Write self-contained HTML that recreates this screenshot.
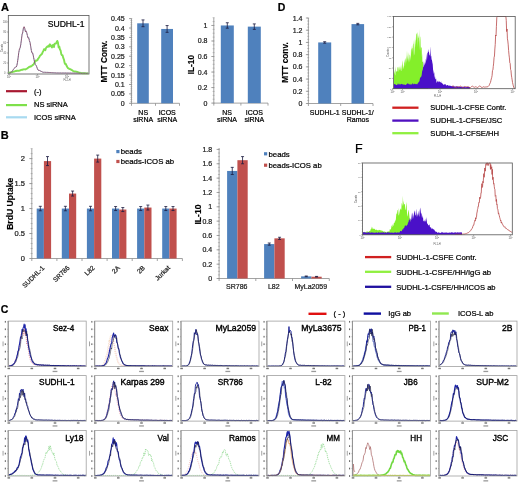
<!DOCTYPE html><html><head><meta charset="utf-8"><style>html,body{margin:0;padding:0;background:#fff;font-family:"Liberation Sans",sans-serif;overflow:hidden;}svg{display:block;filter:blur(0.35px);}</style></head><body>
<svg width="520" height="486" viewBox="0 0 520 486" font-family="&quot;Liberation Sans&quot;, sans-serif"><rect x="0.00" y="0.00" width="520.00" height="486.00" fill="#fff" /><text x="1.10" y="10.80" font-size="11" text-anchor="start" font-weight="bold" fill="#000" stroke="#000" stroke-width="0.22" >A</text><text x="0.80" y="138.60" font-size="11" text-anchor="start" font-weight="bold" fill="#000" stroke="#000" stroke-width="0.22" >B</text><text x="0.80" y="312.60" font-size="10.5" text-anchor="start" font-weight="bold" fill="#000" stroke="#000" stroke-width="0.22" >C</text><text x="277.80" y="11.20" font-size="10.5" text-anchor="start" font-weight="bold" fill="#000" stroke="#000" stroke-width="0.22" >D</text><text x="355.00" y="153.20" font-size="12.5" text-anchor="start" font-weight="normal" fill="#000" stroke="#000" stroke-width="0.22" >F</text><rect x="8.3" y="15.5" width="80.7" height="58.5" fill="none" stroke="#555" stroke-width="0.8"/><line x1="6.80" y1="73.00" x2="8.30" y2="73.00" stroke="#666" stroke-width="0.5" /><text x="4.80" y="74.00" font-size="2.6" text-anchor="middle" font-weight="normal" fill="#666" >0</text><line x1="6.80" y1="63.00" x2="8.30" y2="63.00" stroke="#666" stroke-width="0.5" /><text x="4.80" y="64.00" font-size="2.6" text-anchor="middle" font-weight="normal" fill="#666" >20</text><line x1="6.80" y1="53.00" x2="8.30" y2="53.00" stroke="#666" stroke-width="0.5" /><text x="4.80" y="54.00" font-size="2.6" text-anchor="middle" font-weight="normal" fill="#666" >40</text><line x1="6.80" y1="42.50" x2="8.30" y2="42.50" stroke="#666" stroke-width="0.5" /><text x="4.80" y="43.50" font-size="2.6" text-anchor="middle" font-weight="normal" fill="#666" >60</text><line x1="6.80" y1="32.00" x2="8.30" y2="32.00" stroke="#666" stroke-width="0.5" /><text x="4.80" y="33.00" font-size="2.6" text-anchor="middle" font-weight="normal" fill="#666" >80</text><line x1="6.80" y1="21.90" x2="8.30" y2="21.90" stroke="#666" stroke-width="0.5" /><text x="4.80" y="22.90" font-size="2.6" text-anchor="middle" font-weight="normal" fill="#666" >100</text><text x="0" y="0" font-size="2.6" text-anchor="middle" font-weight="normal" fill="#555" transform="translate(2.60,48.00) rotate(-90)">Counts</text><line x1="9.10" y1="74.00" x2="9.10" y2="75.20" stroke="#666" stroke-width="0.5" /><text x="9.10" y="78.00" font-size="2.8" text-anchor="middle" fill="#555">10<tspan font-size="2" dy="-1">0</tspan></text><line x1="37.50" y1="74.00" x2="37.50" y2="75.20" stroke="#666" stroke-width="0.5" /><text x="37.50" y="78.00" font-size="2.8" text-anchor="middle" fill="#555">10<tspan font-size="2" dy="-1">1</tspan></text><line x1="67.00" y1="74.00" x2="67.00" y2="75.20" stroke="#666" stroke-width="0.5" /><text x="67.00" y="78.00" font-size="2.8" text-anchor="middle" fill="#555">10<tspan font-size="2" dy="-1">2</tspan></text><text x="67.00" y="80.60" font-size="2.6" text-anchor="middle" font-weight="normal" fill="#555" >FL2-H</text><path d="M8.80,73.32 L9.46,72.72 L10.13,72.32 L10.79,72.24 L11.46,72.14 L12.12,72.10 L12.79,71.95 L13.45,71.60 L14.11,71.53 L14.78,71.35 L15.44,70.98 L16.11,70.97 L16.77,70.76 L17.43,70.81 L18.10,70.74 L18.76,70.83 L19.43,70.55 L20.09,70.30 L20.76,70.24 L21.42,69.94 L22.08,69.76 L22.75,69.83 L23.41,69.35 L24.08,69.28 L24.74,69.33 L25.40,69.43 L26.07,68.91 L26.73,68.85 L27.40,68.32 L28.06,67.75 L28.73,67.35 L29.39,66.72 L30.05,66.71 L30.72,66.09 L31.38,66.25 L32.05,65.62 L32.71,64.95 L33.37,64.73 L34.04,63.61 L34.70,62.47 L35.37,60.59 L36.03,60.91 L36.70,60.44 L37.36,60.25 L38.02,58.92 L38.69,57.98 L39.35,56.96 L40.02,55.64 L40.68,55.24 L41.34,54.31 L42.01,53.94 L42.67,52.15 L43.34,50.94 L44.00,49.28 L44.67,49.15 L45.33,50.15 L45.99,48.01 L46.66,47.17 L47.32,46.57 L47.99,46.74 L48.65,45.52 L49.31,46.55 L49.98,44.33 L50.64,45.29 L51.31,46.53 L51.97,47.57 L52.64,45.35 L53.30,44.89 L53.96,47.05 L54.63,43.62 L55.29,43.66 L55.96,43.49 L56.62,42.33 L57.28,40.93 L57.95,42.57 L58.61,47.46 L59.28,46.57 L59.94,49.56 L60.61,50.33 L61.27,54.18 L61.93,55.07 L62.60,55.45 L63.26,57.93 L63.93,59.52 L64.59,62.75 L65.25,64.23 L65.92,64.04 L66.58,65.77 L67.25,67.05 L67.91,68.11 L68.58,68.44 L69.24,68.81 L69.90,69.15 L70.57,69.12 L71.23,69.85 L71.90,70.08 L72.56,70.59 L73.22,71.14 L73.89,71.40 L74.55,71.49 L75.22,71.50 L75.88,71.60 L76.55,71.76 L77.21,71.93 L77.87,72.09 L78.54,72.38 L79.20,72.60 L79.87,72.78 L80.53,72.99 L81.19,73.12 L81.86,73.16 L82.52,73.20 L83.19,73.21 L83.85,73.26 L84.52,73.26 L85.18,73.28 L85.84,73.35 L86.51,73.34 L87.17,73.37 L87.84,73.42 L88.50,73.39" fill="none" stroke="#80e050" stroke-width="1.9" stroke-linejoin="round"/><path d="M8.80,73.40 L9.46,73.16 L10.13,72.98 L10.79,72.71 L11.46,72.13 L12.12,71.30 L12.79,70.49 L13.45,69.44 L14.11,68.39 L14.78,67.67 L15.44,67.01 L16.11,67.04 L16.77,65.80 L17.43,62.49 L18.10,57.67 L18.76,53.00 L19.43,50.27 L20.09,48.83 L20.76,45.46 L21.42,38.40 L22.08,33.57 L22.75,33.26 L23.41,28.02 L24.08,28.71 L24.74,28.99 L25.40,31.36 L26.07,32.34 L26.73,32.32 L27.40,36.10 L28.06,37.85 L28.73,36.91 L29.39,39.13 L30.05,43.63 L30.72,46.58 L31.38,50.70 L32.05,52.60 L32.71,53.88 L33.37,55.79 L34.04,59.71 L34.70,62.83 L35.37,64.40 L36.03,65.30 L36.70,66.80 L37.36,68.64 L38.02,70.01 L38.69,70.38 L39.35,70.47 L40.02,70.68 L40.68,71.10 L41.34,71.39 L42.01,71.78 L42.67,72.08 L43.34,72.23 L44.00,72.30 L44.67,72.32 L45.33,72.32 L45.99,72.32 L46.66,72.39 L47.32,72.36 L47.99,72.44 L48.65,72.44 L49.31,72.47 L49.98,72.55 L50.64,72.55 L51.31,72.62 L51.97,72.65 L52.64,72.72 L53.30,72.76 L53.96,72.79 L54.63,72.80 L55.29,72.87 L55.96,72.88 L56.62,72.91 L57.28,72.93 L57.95,72.97 L58.61,72.99 L59.28,73.00 L59.94,72.99 L60.61,73.01 L61.27,72.99 L61.93,73.00 L62.60,73.00 L63.26,73.02 L63.93,73.00 L64.59,73.03 L65.25,73.03 L65.92,73.03 L66.58,73.03 L67.25,73.05 L67.91,73.04 L68.58,73.06 L69.24,73.08 L69.90,73.09 L70.57,73.10 L71.23,73.11 L71.90,73.12 L72.56,73.12 L73.22,73.12 L73.89,73.15 L74.55,73.17 L75.22,73.15 L75.88,73.17 L76.55,73.19 L77.21,73.20 L77.87,73.20 L78.54,73.21 L79.20,73.23 L79.87,73.24 L80.53,73.25 L81.19,73.24 L81.86,73.27 L82.52,73.27 L83.19,73.26 L83.85,73.29 L84.52,73.28 L85.18,73.28 L85.84,73.29 L86.51,73.29 L87.17,73.31 L87.84,73.30 L88.50,73.31" fill="none" stroke="#9ad0e8" stroke-width="0.9" stroke-dasharray="1.5,1"/><path d="M8.80,73.41 L9.46,73.18 L10.13,73.00 L10.79,72.74 L11.46,72.19 L12.12,71.36 L12.79,70.32 L13.45,69.35 L14.11,68.42 L14.78,67.83 L15.44,67.14 L16.11,67.01 L16.77,65.96 L17.43,62.64 L18.10,58.02 L18.76,52.48 L19.43,49.09 L20.09,47.91 L20.76,44.52 L21.42,39.91 L22.08,34.66 L22.75,32.13 L23.41,28.04 L24.08,26.69 L24.74,28.12 L25.40,31.70 L26.07,30.87 L26.73,32.67 L27.40,35.48 L28.06,38.09 L28.73,37.92 L29.39,40.77 L30.05,42.37 L30.72,46.59 L31.38,50.68 L32.05,53.09 L32.71,52.99 L33.37,56.13 L34.04,59.49 L34.70,62.85 L35.37,64.59 L36.03,65.26 L36.70,66.71 L37.36,68.58 L38.02,70.02 L38.69,70.35 L39.35,70.37 L40.02,70.79 L40.68,71.11 L41.34,71.39 L42.01,71.80 L42.67,72.06 L43.34,72.26 L44.00,72.31 L44.67,72.26 L45.33,72.34 L45.99,72.34 L46.66,72.38 L47.32,72.37 L47.99,72.43 L48.65,72.46 L49.31,72.47 L49.98,72.54 L50.64,72.57 L51.31,72.59 L51.97,72.68 L52.64,72.72 L53.30,72.75 L53.96,72.77 L54.63,72.81 L55.29,72.87 L55.96,72.90 L56.62,72.93 L57.28,72.95 L57.95,72.99 L58.61,72.98 L59.28,72.98 L59.94,72.98 L60.61,72.99 L61.27,72.99 L61.93,73.02 L62.60,73.01 L63.26,72.99 L63.93,73.01 L64.59,73.02 L65.25,73.01 L65.92,73.03 L66.58,73.03 L67.25,73.06 L67.91,73.07 L68.58,73.07 L69.24,73.09 L69.90,73.09 L70.57,73.08 L71.23,73.11 L71.90,73.13 L72.56,73.14 L73.22,73.15 L73.89,73.13 L74.55,73.16 L75.22,73.17 L75.88,73.19 L76.55,73.17 L77.21,73.20 L77.87,73.22 L78.54,73.23 L79.20,73.24 L79.87,73.25 L80.53,73.24 L81.19,73.26 L81.86,73.27 L82.52,73.27 L83.19,73.28 L83.85,73.26 L84.52,73.30 L85.18,73.29 L85.84,73.28 L86.51,73.30 L87.17,73.28 L87.84,73.30 L88.50,73.31" fill="none" stroke="#7a3a5a" stroke-width="0.8"/><text x="84.50" y="27.20" font-size="8.6" text-anchor="end" font-weight="normal" fill="#000" stroke="#000" stroke-width="0.22" >SUDHL-1</text><line x1="6.00" y1="91.20" x2="27.00" y2="91.20" stroke="#a81830" stroke-width="2.2" /><text x="34.00" y="94.20" font-size="7.5" text-anchor="start" font-weight="normal" fill="#000" stroke="#000" stroke-width="0.22" >(-)</text><line x1="6.00" y1="105.10" x2="27.00" y2="105.10" stroke="#7ee04a" stroke-width="2.2" /><text x="34.00" y="107.30" font-size="7.5" text-anchor="start" font-weight="normal" fill="#000" stroke="#000" stroke-width="0.22" >NS siRNA</text><line x1="6.00" y1="117.30" x2="27.00" y2="117.30" stroke="#a8daf0" stroke-width="2.2" /><text x="34.00" y="120.10" font-size="7.5" text-anchor="start" font-weight="normal" fill="#000" stroke="#000" stroke-width="0.22" >ICOS siRNA</text><line x1="131.50" y1="18.60" x2="131.50" y2="103.30" stroke="#8c8c8c" stroke-width="0.8" /><line x1="131.50" y1="103.30" x2="179.50" y2="103.30" stroke="#8c8c8c" stroke-width="0.8" /><line x1="129.00" y1="103.30" x2="131.50" y2="103.30" stroke="#8c8c8c" stroke-width="0.8" /><text x="124.70" y="105.80" font-size="7" text-anchor="end" font-weight="normal" fill="#222" stroke="#222" stroke-width="0.22" >0</text><line x1="129.00" y1="93.89" x2="131.50" y2="93.89" stroke="#8c8c8c" stroke-width="0.8" /><text x="124.70" y="96.39" font-size="7" text-anchor="end" font-weight="normal" fill="#222" stroke="#222" stroke-width="0.22" >0.05</text><line x1="129.00" y1="84.48" x2="131.50" y2="84.48" stroke="#8c8c8c" stroke-width="0.8" /><text x="124.70" y="86.98" font-size="7" text-anchor="end" font-weight="normal" fill="#222" stroke="#222" stroke-width="0.22" >0.1</text><line x1="129.00" y1="75.07" x2="131.50" y2="75.07" stroke="#8c8c8c" stroke-width="0.8" /><text x="124.70" y="77.57" font-size="7" text-anchor="end" font-weight="normal" fill="#222" stroke="#222" stroke-width="0.22" >0.15</text><line x1="129.00" y1="65.66" x2="131.50" y2="65.66" stroke="#8c8c8c" stroke-width="0.8" /><text x="124.70" y="68.16" font-size="7" text-anchor="end" font-weight="normal" fill="#222" stroke="#222" stroke-width="0.22" >0.2</text><line x1="129.00" y1="56.24" x2="131.50" y2="56.24" stroke="#8c8c8c" stroke-width="0.8" /><text x="124.70" y="58.74" font-size="7" text-anchor="end" font-weight="normal" fill="#222" stroke="#222" stroke-width="0.22" >0.25</text><line x1="129.00" y1="46.83" x2="131.50" y2="46.83" stroke="#8c8c8c" stroke-width="0.8" /><text x="124.70" y="49.33" font-size="7" text-anchor="end" font-weight="normal" fill="#222" stroke="#222" stroke-width="0.22" >0.3</text><line x1="129.00" y1="37.42" x2="131.50" y2="37.42" stroke="#8c8c8c" stroke-width="0.8" /><text x="124.70" y="39.92" font-size="7" text-anchor="end" font-weight="normal" fill="#222" stroke="#222" stroke-width="0.22" >0.35</text><line x1="129.00" y1="28.01" x2="131.50" y2="28.01" stroke="#8c8c8c" stroke-width="0.8" /><text x="124.70" y="30.51" font-size="7" text-anchor="end" font-weight="normal" fill="#222" stroke="#222" stroke-width="0.22" >0.4</text><line x1="129.00" y1="18.60" x2="131.50" y2="18.60" stroke="#8c8c8c" stroke-width="0.8" /><text x="124.70" y="21.10" font-size="7" text-anchor="end" font-weight="normal" fill="#222" stroke="#222" stroke-width="0.22" >0.45</text><line x1="130.30" y1="103.30" x2="132.30" y2="103.30" stroke="#8c8c8c" stroke-width="0.5" /><line x1="130.30" y1="101.42" x2="132.30" y2="101.42" stroke="#8c8c8c" stroke-width="0.5" /><line x1="130.30" y1="99.54" x2="132.30" y2="99.54" stroke="#8c8c8c" stroke-width="0.5" /><line x1="130.30" y1="97.65" x2="132.30" y2="97.65" stroke="#8c8c8c" stroke-width="0.5" /><line x1="130.30" y1="95.77" x2="132.30" y2="95.77" stroke="#8c8c8c" stroke-width="0.5" /><line x1="130.30" y1="93.89" x2="132.30" y2="93.89" stroke="#8c8c8c" stroke-width="0.5" /><line x1="130.30" y1="92.01" x2="132.30" y2="92.01" stroke="#8c8c8c" stroke-width="0.5" /><line x1="130.30" y1="90.12" x2="132.30" y2="90.12" stroke="#8c8c8c" stroke-width="0.5" /><line x1="130.30" y1="88.24" x2="132.30" y2="88.24" stroke="#8c8c8c" stroke-width="0.5" /><line x1="130.30" y1="86.36" x2="132.30" y2="86.36" stroke="#8c8c8c" stroke-width="0.5" /><line x1="130.30" y1="84.48" x2="132.30" y2="84.48" stroke="#8c8c8c" stroke-width="0.5" /><line x1="130.30" y1="82.60" x2="132.30" y2="82.60" stroke="#8c8c8c" stroke-width="0.5" /><line x1="130.30" y1="80.71" x2="132.30" y2="80.71" stroke="#8c8c8c" stroke-width="0.5" /><line x1="130.30" y1="78.83" x2="132.30" y2="78.83" stroke="#8c8c8c" stroke-width="0.5" /><line x1="130.30" y1="76.95" x2="132.30" y2="76.95" stroke="#8c8c8c" stroke-width="0.5" /><line x1="130.30" y1="75.07" x2="132.30" y2="75.07" stroke="#8c8c8c" stroke-width="0.5" /><line x1="130.30" y1="73.18" x2="132.30" y2="73.18" stroke="#8c8c8c" stroke-width="0.5" /><line x1="130.30" y1="71.30" x2="132.30" y2="71.30" stroke="#8c8c8c" stroke-width="0.5" /><line x1="130.30" y1="69.42" x2="132.30" y2="69.42" stroke="#8c8c8c" stroke-width="0.5" /><line x1="130.30" y1="67.54" x2="132.30" y2="67.54" stroke="#8c8c8c" stroke-width="0.5" /><line x1="130.30" y1="65.66" x2="132.30" y2="65.66" stroke="#8c8c8c" stroke-width="0.5" /><line x1="130.30" y1="63.77" x2="132.30" y2="63.77" stroke="#8c8c8c" stroke-width="0.5" /><line x1="130.30" y1="61.89" x2="132.30" y2="61.89" stroke="#8c8c8c" stroke-width="0.5" /><line x1="130.30" y1="60.01" x2="132.30" y2="60.01" stroke="#8c8c8c" stroke-width="0.5" /><line x1="130.30" y1="58.13" x2="132.30" y2="58.13" stroke="#8c8c8c" stroke-width="0.5" /><line x1="130.30" y1="56.24" x2="132.30" y2="56.24" stroke="#8c8c8c" stroke-width="0.5" /><line x1="130.30" y1="54.36" x2="132.30" y2="54.36" stroke="#8c8c8c" stroke-width="0.5" /><line x1="130.30" y1="52.48" x2="132.30" y2="52.48" stroke="#8c8c8c" stroke-width="0.5" /><line x1="130.30" y1="50.60" x2="132.30" y2="50.60" stroke="#8c8c8c" stroke-width="0.5" /><line x1="130.30" y1="48.72" x2="132.30" y2="48.72" stroke="#8c8c8c" stroke-width="0.5" /><line x1="130.30" y1="46.83" x2="132.30" y2="46.83" stroke="#8c8c8c" stroke-width="0.5" /><line x1="130.30" y1="44.95" x2="132.30" y2="44.95" stroke="#8c8c8c" stroke-width="0.5" /><line x1="130.30" y1="43.07" x2="132.30" y2="43.07" stroke="#8c8c8c" stroke-width="0.5" /><line x1="130.30" y1="41.19" x2="132.30" y2="41.19" stroke="#8c8c8c" stroke-width="0.5" /><line x1="130.30" y1="39.30" x2="132.30" y2="39.30" stroke="#8c8c8c" stroke-width="0.5" /><line x1="130.30" y1="37.42" x2="132.30" y2="37.42" stroke="#8c8c8c" stroke-width="0.5" /><line x1="130.30" y1="35.54" x2="132.30" y2="35.54" stroke="#8c8c8c" stroke-width="0.5" /><line x1="130.30" y1="33.66" x2="132.30" y2="33.66" stroke="#8c8c8c" stroke-width="0.5" /><line x1="130.30" y1="31.78" x2="132.30" y2="31.78" stroke="#8c8c8c" stroke-width="0.5" /><line x1="130.30" y1="29.89" x2="132.30" y2="29.89" stroke="#8c8c8c" stroke-width="0.5" /><line x1="130.30" y1="28.01" x2="132.30" y2="28.01" stroke="#8c8c8c" stroke-width="0.5" /><line x1="130.30" y1="26.13" x2="132.30" y2="26.13" stroke="#8c8c8c" stroke-width="0.5" /><line x1="130.30" y1="24.25" x2="132.30" y2="24.25" stroke="#8c8c8c" stroke-width="0.5" /><line x1="130.30" y1="22.36" x2="132.30" y2="22.36" stroke="#8c8c8c" stroke-width="0.5" /><line x1="130.30" y1="20.48" x2="132.30" y2="20.48" stroke="#8c8c8c" stroke-width="0.5" /><line x1="130.30" y1="18.60" x2="132.30" y2="18.60" stroke="#8c8c8c" stroke-width="0.5" /><line x1="131.50" y1="103.30" x2="131.50" y2="105.80" stroke="#8c8c8c" stroke-width="0.8" /><line x1="155.50" y1="103.30" x2="155.50" y2="105.80" stroke="#8c8c8c" stroke-width="0.8" /><line x1="179.50" y1="103.30" x2="179.50" y2="105.80" stroke="#8c8c8c" stroke-width="0.8" /><rect x="137.20" y="23.31" width="11.60" height="79.99" fill="#4F81BD" /><line x1="143.00" y1="19.92" x2="143.00" y2="26.69" stroke="#1a1a40" stroke-width="0.8" /><line x1="141.50" y1="19.92" x2="144.50" y2="19.92" stroke="#1a1a40" stroke-width="0.8" /><line x1="141.50" y1="26.69" x2="144.50" y2="26.69" stroke="#1a1a40" stroke-width="0.8" /><rect x="161.20" y="28.95" width="11.80" height="74.35" fill="#4F81BD" /><line x1="167.10" y1="25.56" x2="167.10" y2="32.34" stroke="#1a1a40" stroke-width="0.8" /><line x1="165.60" y1="25.56" x2="168.60" y2="25.56" stroke="#1a1a40" stroke-width="0.8" /><line x1="165.60" y1="32.34" x2="168.60" y2="32.34" stroke="#1a1a40" stroke-width="0.8" /><text x="0" y="0" font-size="8.3" stroke="#000" stroke-width="0.15" text-anchor="middle" font-weight="bold" fill="#000" transform="translate(107.30,61.50) rotate(-90)">MTT Conv.</text><text x="143.20" y="114.50" font-size="7" text-anchor="middle" font-weight="normal" fill="#000" stroke="#000" stroke-width="0.22" >NS</text><text x="143.20" y="121.60" font-size="7" text-anchor="middle" font-weight="normal" fill="#000" stroke="#000" stroke-width="0.22" >siRNA</text><text x="167.20" y="114.50" font-size="7" text-anchor="middle" font-weight="normal" fill="#000" stroke="#000" stroke-width="0.22" >ICOS</text><text x="167.20" y="121.60" font-size="7" text-anchor="middle" font-weight="normal" fill="#000" stroke="#000" stroke-width="0.22" >siRNA</text><line x1="213.80" y1="17.70" x2="213.80" y2="103.10" stroke="#8c8c8c" stroke-width="0.8" /><line x1="213.80" y1="103.10" x2="268.00" y2="103.10" stroke="#8c8c8c" stroke-width="0.8" /><line x1="211.30" y1="103.10" x2="213.80" y2="103.10" stroke="#8c8c8c" stroke-width="0.8" /><text x="207.50" y="105.60" font-size="7" text-anchor="end" font-weight="normal" fill="#222" stroke="#222" stroke-width="0.22" >0</text><line x1="211.30" y1="87.57" x2="213.80" y2="87.57" stroke="#8c8c8c" stroke-width="0.8" /><text x="207.50" y="90.07" font-size="7" text-anchor="end" font-weight="normal" fill="#222" stroke="#222" stroke-width="0.22" >0.2</text><line x1="211.30" y1="72.05" x2="213.80" y2="72.05" stroke="#8c8c8c" stroke-width="0.8" /><text x="207.50" y="74.55" font-size="7" text-anchor="end" font-weight="normal" fill="#222" stroke="#222" stroke-width="0.22" >0.4</text><line x1="211.30" y1="56.52" x2="213.80" y2="56.52" stroke="#8c8c8c" stroke-width="0.8" /><text x="207.50" y="59.02" font-size="7" text-anchor="end" font-weight="normal" fill="#222" stroke="#222" stroke-width="0.22" >0.6</text><line x1="211.30" y1="40.99" x2="213.80" y2="40.99" stroke="#8c8c8c" stroke-width="0.8" /><text x="207.50" y="43.49" font-size="7" text-anchor="end" font-weight="normal" fill="#222" stroke="#222" stroke-width="0.22" >0.8</text><line x1="211.30" y1="25.46" x2="213.80" y2="25.46" stroke="#8c8c8c" stroke-width="0.8" /><text x="207.50" y="27.96" font-size="7" text-anchor="end" font-weight="normal" fill="#222" stroke="#222" stroke-width="0.22" >1</text><line x1="212.60" y1="103.10" x2="214.60" y2="103.10" stroke="#8c8c8c" stroke-width="0.5" /><line x1="212.60" y1="99.22" x2="214.60" y2="99.22" stroke="#8c8c8c" stroke-width="0.5" /><line x1="212.60" y1="95.34" x2="214.60" y2="95.34" stroke="#8c8c8c" stroke-width="0.5" /><line x1="212.60" y1="91.45" x2="214.60" y2="91.45" stroke="#8c8c8c" stroke-width="0.5" /><line x1="212.60" y1="87.57" x2="214.60" y2="87.57" stroke="#8c8c8c" stroke-width="0.5" /><line x1="212.60" y1="83.69" x2="214.60" y2="83.69" stroke="#8c8c8c" stroke-width="0.5" /><line x1="212.60" y1="79.81" x2="214.60" y2="79.81" stroke="#8c8c8c" stroke-width="0.5" /><line x1="212.60" y1="75.93" x2="214.60" y2="75.93" stroke="#8c8c8c" stroke-width="0.5" /><line x1="212.60" y1="72.05" x2="214.60" y2="72.05" stroke="#8c8c8c" stroke-width="0.5" /><line x1="212.60" y1="68.16" x2="214.60" y2="68.16" stroke="#8c8c8c" stroke-width="0.5" /><line x1="212.60" y1="64.28" x2="214.60" y2="64.28" stroke="#8c8c8c" stroke-width="0.5" /><line x1="212.60" y1="60.40" x2="214.60" y2="60.40" stroke="#8c8c8c" stroke-width="0.5" /><line x1="212.60" y1="56.52" x2="214.60" y2="56.52" stroke="#8c8c8c" stroke-width="0.5" /><line x1="212.60" y1="52.64" x2="214.60" y2="52.64" stroke="#8c8c8c" stroke-width="0.5" /><line x1="212.60" y1="48.75" x2="214.60" y2="48.75" stroke="#8c8c8c" stroke-width="0.5" /><line x1="212.60" y1="44.87" x2="214.60" y2="44.87" stroke="#8c8c8c" stroke-width="0.5" /><line x1="212.60" y1="40.99" x2="214.60" y2="40.99" stroke="#8c8c8c" stroke-width="0.5" /><line x1="212.60" y1="37.11" x2="214.60" y2="37.11" stroke="#8c8c8c" stroke-width="0.5" /><line x1="212.60" y1="33.23" x2="214.60" y2="33.23" stroke="#8c8c8c" stroke-width="0.5" /><line x1="212.60" y1="29.35" x2="214.60" y2="29.35" stroke="#8c8c8c" stroke-width="0.5" /><line x1="212.60" y1="25.46" x2="214.60" y2="25.46" stroke="#8c8c8c" stroke-width="0.5" /><line x1="212.60" y1="21.58" x2="214.60" y2="21.58" stroke="#8c8c8c" stroke-width="0.5" /><line x1="212.60" y1="17.70" x2="214.60" y2="17.70" stroke="#8c8c8c" stroke-width="0.5" /><line x1="213.80" y1="103.10" x2="213.80" y2="105.60" stroke="#8c8c8c" stroke-width="0.8" /><line x1="240.90" y1="103.10" x2="240.90" y2="105.60" stroke="#8c8c8c" stroke-width="0.8" /><line x1="268.00" y1="103.10" x2="268.00" y2="105.60" stroke="#8c8c8c" stroke-width="0.8" /><rect x="220.80" y="25.46" width="13.00" height="77.64" fill="#4F81BD" /><line x1="227.30" y1="22.75" x2="227.30" y2="28.18" stroke="#1a1a40" stroke-width="0.8" /><line x1="225.80" y1="22.75" x2="228.80" y2="22.75" stroke="#1a1a40" stroke-width="0.8" /><line x1="225.80" y1="28.18" x2="228.80" y2="28.18" stroke="#1a1a40" stroke-width="0.8" /><rect x="247.80" y="26.63" width="13.00" height="76.47" fill="#4F81BD" /><line x1="254.30" y1="23.91" x2="254.30" y2="29.35" stroke="#1a1a40" stroke-width="0.8" /><line x1="252.80" y1="23.91" x2="255.80" y2="23.91" stroke="#1a1a40" stroke-width="0.8" /><line x1="252.80" y1="29.35" x2="255.80" y2="29.35" stroke="#1a1a40" stroke-width="0.8" /><text x="0" y="0" font-size="8.3" stroke="#000" stroke-width="0.15" text-anchor="middle" font-weight="bold" fill="#000" transform="translate(194.20,64.60) rotate(-90)">IL-10</text><text x="227.00" y="114.50" font-size="7" text-anchor="middle" font-weight="normal" fill="#000" stroke="#000" stroke-width="0.22" >NS</text><text x="227.00" y="121.60" font-size="7" text-anchor="middle" font-weight="normal" fill="#000" stroke="#000" stroke-width="0.22" >siRNA</text><text x="254.30" y="114.50" font-size="7" text-anchor="middle" font-weight="normal" fill="#000" stroke="#000" stroke-width="0.22" >ICOS</text><text x="254.30" y="121.60" font-size="7" text-anchor="middle" font-weight="normal" fill="#000" stroke="#000" stroke-width="0.22" >siRNA</text><line x1="308.40" y1="18.00" x2="308.40" y2="103.50" stroke="#8c8c8c" stroke-width="0.8" /><line x1="308.40" y1="103.50" x2="373.00" y2="103.50" stroke="#8c8c8c" stroke-width="0.8" /><line x1="305.90" y1="103.50" x2="308.40" y2="103.50" stroke="#8c8c8c" stroke-width="0.8" /><text x="302.50" y="106.00" font-size="7" text-anchor="end" font-weight="normal" fill="#222" stroke="#222" stroke-width="0.22" >0</text><line x1="305.90" y1="91.29" x2="308.40" y2="91.29" stroke="#8c8c8c" stroke-width="0.8" /><text x="302.50" y="93.79" font-size="7" text-anchor="end" font-weight="normal" fill="#222" stroke="#222" stroke-width="0.22" >0.2</text><line x1="305.90" y1="79.07" x2="308.40" y2="79.07" stroke="#8c8c8c" stroke-width="0.8" /><text x="302.50" y="81.57" font-size="7" text-anchor="end" font-weight="normal" fill="#222" stroke="#222" stroke-width="0.22" >0.4</text><line x1="305.90" y1="66.86" x2="308.40" y2="66.86" stroke="#8c8c8c" stroke-width="0.8" /><text x="302.50" y="69.36" font-size="7" text-anchor="end" font-weight="normal" fill="#222" stroke="#222" stroke-width="0.22" >0.6</text><line x1="305.90" y1="54.64" x2="308.40" y2="54.64" stroke="#8c8c8c" stroke-width="0.8" /><text x="302.50" y="57.14" font-size="7" text-anchor="end" font-weight="normal" fill="#222" stroke="#222" stroke-width="0.22" >0.8</text><line x1="305.90" y1="42.43" x2="308.40" y2="42.43" stroke="#8c8c8c" stroke-width="0.8" /><text x="302.50" y="44.93" font-size="7" text-anchor="end" font-weight="normal" fill="#222" stroke="#222" stroke-width="0.22" >1</text><line x1="305.90" y1="30.21" x2="308.40" y2="30.21" stroke="#8c8c8c" stroke-width="0.8" /><text x="302.50" y="32.71" font-size="7" text-anchor="end" font-weight="normal" fill="#222" stroke="#222" stroke-width="0.22" >1.2</text><line x1="305.90" y1="18.00" x2="308.40" y2="18.00" stroke="#8c8c8c" stroke-width="0.8" /><text x="302.50" y="20.50" font-size="7" text-anchor="end" font-weight="normal" fill="#222" stroke="#222" stroke-width="0.22" >1.4</text><line x1="307.20" y1="103.50" x2="309.20" y2="103.50" stroke="#8c8c8c" stroke-width="0.5" /><line x1="307.20" y1="100.45" x2="309.20" y2="100.45" stroke="#8c8c8c" stroke-width="0.5" /><line x1="307.20" y1="97.39" x2="309.20" y2="97.39" stroke="#8c8c8c" stroke-width="0.5" /><line x1="307.20" y1="94.34" x2="309.20" y2="94.34" stroke="#8c8c8c" stroke-width="0.5" /><line x1="307.20" y1="91.29" x2="309.20" y2="91.29" stroke="#8c8c8c" stroke-width="0.5" /><line x1="307.20" y1="88.23" x2="309.20" y2="88.23" stroke="#8c8c8c" stroke-width="0.5" /><line x1="307.20" y1="85.18" x2="309.20" y2="85.18" stroke="#8c8c8c" stroke-width="0.5" /><line x1="307.20" y1="82.12" x2="309.20" y2="82.12" stroke="#8c8c8c" stroke-width="0.5" /><line x1="307.20" y1="79.07" x2="309.20" y2="79.07" stroke="#8c8c8c" stroke-width="0.5" /><line x1="307.20" y1="76.02" x2="309.20" y2="76.02" stroke="#8c8c8c" stroke-width="0.5" /><line x1="307.20" y1="72.96" x2="309.20" y2="72.96" stroke="#8c8c8c" stroke-width="0.5" /><line x1="307.20" y1="69.91" x2="309.20" y2="69.91" stroke="#8c8c8c" stroke-width="0.5" /><line x1="307.20" y1="66.86" x2="309.20" y2="66.86" stroke="#8c8c8c" stroke-width="0.5" /><line x1="307.20" y1="63.80" x2="309.20" y2="63.80" stroke="#8c8c8c" stroke-width="0.5" /><line x1="307.20" y1="60.75" x2="309.20" y2="60.75" stroke="#8c8c8c" stroke-width="0.5" /><line x1="307.20" y1="57.70" x2="309.20" y2="57.70" stroke="#8c8c8c" stroke-width="0.5" /><line x1="307.20" y1="54.64" x2="309.20" y2="54.64" stroke="#8c8c8c" stroke-width="0.5" /><line x1="307.20" y1="51.59" x2="309.20" y2="51.59" stroke="#8c8c8c" stroke-width="0.5" /><line x1="307.20" y1="48.54" x2="309.20" y2="48.54" stroke="#8c8c8c" stroke-width="0.5" /><line x1="307.20" y1="45.48" x2="309.20" y2="45.48" stroke="#8c8c8c" stroke-width="0.5" /><line x1="307.20" y1="42.43" x2="309.20" y2="42.43" stroke="#8c8c8c" stroke-width="0.5" /><line x1="307.20" y1="39.37" x2="309.20" y2="39.37" stroke="#8c8c8c" stroke-width="0.5" /><line x1="307.20" y1="36.32" x2="309.20" y2="36.32" stroke="#8c8c8c" stroke-width="0.5" /><line x1="307.20" y1="33.27" x2="309.20" y2="33.27" stroke="#8c8c8c" stroke-width="0.5" /><line x1="307.20" y1="30.21" x2="309.20" y2="30.21" stroke="#8c8c8c" stroke-width="0.5" /><line x1="307.20" y1="27.16" x2="309.20" y2="27.16" stroke="#8c8c8c" stroke-width="0.5" /><line x1="307.20" y1="24.11" x2="309.20" y2="24.11" stroke="#8c8c8c" stroke-width="0.5" /><line x1="307.20" y1="21.05" x2="309.20" y2="21.05" stroke="#8c8c8c" stroke-width="0.5" /><line x1="307.20" y1="18.00" x2="309.20" y2="18.00" stroke="#8c8c8c" stroke-width="0.5" /><line x1="308.40" y1="103.50" x2="308.40" y2="106.00" stroke="#8c8c8c" stroke-width="0.8" /><line x1="340.70" y1="103.50" x2="340.70" y2="106.00" stroke="#8c8c8c" stroke-width="0.8" /><line x1="373.00" y1="103.50" x2="373.00" y2="106.00" stroke="#8c8c8c" stroke-width="0.8" /><rect x="318.20" y="42.43" width="13.00" height="61.07" fill="#4F81BD" /><line x1="324.70" y1="41.70" x2="324.70" y2="43.16" stroke="#1a1a40" stroke-width="0.8" /><line x1="323.20" y1="41.70" x2="326.20" y2="41.70" stroke="#1a1a40" stroke-width="0.8" /><line x1="323.20" y1="43.16" x2="326.20" y2="43.16" stroke="#1a1a40" stroke-width="0.8" /><rect x="351.50" y="24.11" width="12.60" height="79.39" fill="#4F81BD" /><line x1="357.80" y1="23.37" x2="357.80" y2="24.84" stroke="#1a1a40" stroke-width="0.8" /><line x1="356.30" y1="23.37" x2="359.30" y2="23.37" stroke="#1a1a40" stroke-width="0.8" /><line x1="356.30" y1="24.84" x2="359.30" y2="24.84" stroke="#1a1a40" stroke-width="0.8" /><text x="0" y="0" font-size="8.3" stroke="#000" stroke-width="0.15" text-anchor="middle" font-weight="bold" fill="#000" transform="translate(288.20,62.50) rotate(-90)">MTT conv.</text><text x="324.80" y="114.50" font-size="7" text-anchor="middle" font-weight="normal" fill="#000" stroke="#000" stroke-width="0.22" >SUDHL-1</text><text x="357.80" y="114.50" font-size="7" text-anchor="middle" font-weight="normal" fill="#000" stroke="#000" stroke-width="0.22" >SUDHL-1/</text><text x="357.80" y="121.60" font-size="7" text-anchor="middle" font-weight="normal" fill="#000" stroke="#000" stroke-width="0.22" >Ramos</text><path d="M393.90,73.00 L394.14,69.63 L394.39,72.52 L394.63,74.76 L394.87,71.52 L395.12,75.28 L395.36,75.23 L395.60,66.36 L395.85,68.66 L396.09,71.03 L396.34,70.80 L396.58,71.87 L396.82,72.00 L397.07,71.26 L397.31,71.25 L397.55,67.11 L397.80,67.04 L398.04,69.11 L398.28,72.44 L398.53,68.23 L398.77,67.36 L399.01,66.21 L399.26,70.57 L399.50,69.81 L399.75,67.31 L399.99,66.24 L400.23,70.35 L400.48,65.00 L400.72,68.63 L400.96,71.07 L401.21,64.66 L401.45,71.06 L401.69,70.97 L401.94,65.25 L402.18,63.90 L402.42,60.23 L402.67,62.75 L402.91,69.96 L403.16,64.68 L403.40,66.72 L403.64,69.31 L403.89,67.44 L404.13,65.78 L404.37,59.11 L404.62,62.93 L404.86,62.00 L405.10,58.11 L405.35,59.99 L405.59,65.89 L405.83,57.54 L406.08,62.34 L406.32,49.91 L406.57,63.90 L406.81,58.07 L407.05,55.62 L407.30,59.03 L407.54,50.86 L407.78,61.13 L408.03,58.02 L408.27,59.96 L408.51,62.80 L408.76,51.99 L409.00,54.76 L409.25,55.04 L409.49,63.02 L409.73,52.75 L409.98,62.29 L410.22,55.06 L410.46,57.09 L410.71,60.40 L410.95,49.77 L411.19,49.26 L411.44,47.85 L411.68,54.44 L411.92,45.03 L412.17,52.48 L412.41,44.53 L412.65,48.02 L412.90,48.23 L413.14,56.46 L413.39,39.96 L413.63,44.08 L413.87,43.40 L414.12,48.22 L414.36,54.33 L414.60,54.91 L414.85,38.47 L415.09,45.10 L415.33,36.19 L415.58,47.89 L415.82,40.45 L416.06,39.67 L416.31,34.35 L416.55,32.94 L416.80,34.84 L417.04,32.63 L417.28,38.33 L417.53,47.41 L417.77,31.58 L418.01,33.71 L418.26,37.63 L418.50,38.06 L418.74,35.25 L418.99,42.60 L419.23,28.71 L419.48,40.56 L419.72,50.73 L419.96,40.91 L420.21,36.23 L420.45,37.27 L420.69,51.27 L420.94,46.33 L421.18,48.24 L421.42,47.40 L421.67,47.04 L421.91,57.53 L422.15,53.06 L422.40,62.12 L422.64,61.91 L422.88,61.29 L423.13,63.03 L423.37,71.57 L423.62,65.27 L423.86,70.24 L424.10,73.67 L424.35,71.92 L424.59,73.21 L424.83,74.05 L425.08,76.85 L425.32,76.28 L425.56,78.76 L425.81,81.34 L426.05,82.83 L426.30,82.25 L426.54,84.73 L426.78,84.38 L427.03,84.33 L427.27,86.16 L427.51,86.39 L427.76,86.01 L428.00,86.72 L428.00,88.70 L393.90,88.70 Z" fill="#84ef2a"/><path d="M393.90,84.44 L394.28,84.13 L394.66,83.93 L395.04,84.10 L395.42,84.31 L395.80,84.95 L396.18,84.92 L396.56,85.08 L396.94,85.06 L397.32,84.65 L397.70,83.81 L398.09,83.76 L398.47,85.03 L398.85,83.29 L399.23,84.96 L399.61,83.59 L399.99,84.51 L400.37,84.55 L400.75,84.25 L401.13,83.98 L401.51,83.68 L401.89,84.15 L402.27,84.61 L402.65,83.92 L403.03,84.61 L403.41,83.92 L403.79,85.13 L404.17,84.51 L404.55,84.83 L404.93,84.57 L405.31,85.02 L405.70,84.90 L406.08,84.87 L406.46,83.77 L406.84,84.48 L407.22,83.69 L407.60,82.77 L407.98,84.00 L408.36,83.50 L408.74,83.98 L409.12,84.77 L409.50,84.22 L409.88,83.63 L410.26,85.14 L410.64,83.96 L411.02,83.71 L411.40,84.44 L411.78,84.77 L412.16,83.50 L412.54,82.90 L412.92,84.38 L413.31,83.82 L413.69,84.78 L414.07,83.28 L414.45,84.16 L414.83,83.66 L415.21,84.21 L415.59,83.68 L415.97,84.53 L416.35,83.78 L416.73,84.28 L417.11,84.60 L417.49,83.68 L417.87,83.29 L418.25,82.54 L418.63,82.50 L419.01,81.60 L419.39,81.42 L419.77,79.35 L420.15,77.42 L420.53,77.07 L420.92,77.80 L421.30,76.34 L421.68,75.32 L422.06,71.82 L422.44,70.60 L422.82,69.39 L423.20,66.61 L423.58,67.31 L423.96,60.49 L424.34,64.62 L424.72,65.84 L425.10,61.97 L425.48,64.14 L425.86,58.46 L426.24,61.22 L426.62,53.54 L427.00,59.80 L427.38,52.84 L427.76,53.22 L428.14,49.08 L428.53,52.28 L428.91,51.44 L429.29,54.34 L429.67,55.65 L430.05,54.61 L430.43,46.29 L430.81,56.73 L431.19,55.46 L431.57,59.62 L431.95,59.88 L432.33,62.60 L432.71,64.27 L433.09,69.87 L433.47,71.59 L433.85,73.97 L434.23,72.11 L434.61,78.13 L434.99,76.05 L435.37,79.35 L435.75,79.20 L436.14,78.56 L436.52,82.67 L436.90,82.48 L437.28,80.54 L437.66,82.27 L438.04,80.56 L438.42,82.60 L438.80,81.60 L439.18,81.75 L439.56,81.23 L439.94,81.79 L440.32,82.03 L440.70,82.77 L441.08,81.20 L441.46,83.08 L441.84,82.93 L442.22,83.19 L442.60,83.91 L442.98,83.52 L443.37,84.67 L443.75,84.98 L444.13,84.36 L444.51,84.49 L444.89,84.16 L445.27,84.12 L445.65,84.49 L446.03,85.54 L446.41,85.35 L446.79,85.52 L447.17,85.31 L447.55,84.95 L447.93,85.09 L448.31,85.86 L448.69,85.59 L449.07,86.04 L449.45,85.57 L449.83,85.59 L450.21,86.02 L450.59,85.46 L450.98,86.29 L451.36,86.00 L451.74,86.33 L452.12,85.72 L452.50,85.74 L452.88,86.41 L453.26,86.58 L453.64,85.86 L454.02,86.21 L454.40,86.43 L454.78,86.48 L455.16,86.53 L455.54,86.28 L455.92,86.69 L456.30,86.59 L456.68,86.00 L457.06,86.42 L457.44,86.56 L457.82,86.92 L458.20,86.64 L458.58,86.29 L458.97,86.92 L459.35,86.86 L459.73,86.69 L460.11,86.66 L460.49,86.79 L460.87,86.83 L461.25,86.90 L461.63,86.94 L462.01,86.49 L462.39,86.74 L462.77,86.81 L463.15,86.80 L463.53,86.79 L463.91,86.79 L464.29,86.71 L464.67,87.22 L465.05,87.08 L465.43,87.19 L465.81,87.30 L466.19,87.16 L466.58,86.91 L466.96,87.12 L467.34,86.81 L467.72,86.95 L468.10,86.93 L468.48,86.99 L468.86,87.05 L469.24,86.88 L469.62,86.80 L470.00,87.40 L470.00,88.70 L393.90,88.70 Z" fill="#4a10c8"/><path d="M452.00,86.90 L452.39,86.42 L452.79,86.13 L453.18,85.93 L453.57,86.31 L453.97,86.59 L454.36,87.04 L454.75,87.43 L455.14,87.61 L455.54,87.76 L455.93,87.53 L456.32,87.30 L456.72,86.97 L457.11,86.72 L457.50,86.52 L457.90,86.67 L458.29,86.98 L458.68,87.00 L459.08,87.02 L459.47,86.66 L459.86,86.45 L460.26,86.25 L460.65,86.18 L461.04,86.35 L461.44,86.62 L461.83,87.11 L462.22,87.60 L462.61,87.73 L463.01,87.76 L463.40,87.46 L463.79,87.09 L464.19,86.73 L464.58,86.46 L464.97,86.34 L465.37,86.47 L465.76,86.73 L466.15,86.71 L466.55,86.84 L466.94,86.77 L467.33,86.74 L467.73,86.64 L468.12,86.53 L468.51,86.83 L468.90,86.91 L469.30,87.31 L469.69,87.64 L470.08,87.76 L470.48,87.62 L470.87,87.37 L471.26,86.88 L471.66,86.40 L472.05,86.20 L472.44,86.24 L472.84,86.25 L473.23,86.64 L473.62,86.95 L474.02,87.19 L474.41,87.22 L474.80,87.23 L475.19,86.95 L475.59,86.75 L475.98,86.91 L476.37,86.95 L476.77,87.12 L477.16,87.51 L477.55,87.55 L477.95,87.30 L478.34,86.96 L478.73,86.59 L479.13,86.39 L479.52,86.06 L479.91,85.88 L480.31,86.13 L480.70,86.58 L481.09,87.17 L481.48,87.32 L481.88,87.53 L482.27,87.38 L482.66,87.30 L483.06,86.87 L483.45,86.84 L483.84,86.81 L484.24,87.06 L484.63,87.08 L485.02,87.15 L485.42,87.06 L485.81,86.89 L486.20,86.83 L486.60,86.93 L486.99,86.91 L487.38,86.86 L487.77,86.53 L488.17,86.49 L488.56,86.10 L488.95,85.71 L489.35,84.75 L489.74,83.98 L490.13,82.98 L490.53,82.31 L490.92,80.44 L491.31,78.91 L491.71,77.48 L492.10,75.57 L492.49,70.52 L492.89,70.16 L493.28,66.45 L493.67,63.08 L494.06,57.60 L494.46,56.03 L494.85,49.00 L495.24,44.46 L495.64,34.99 L496.03,35.98 L496.42,26.37 L496.82,17.41 L497.21,16.50 L497.60,16.50 L498.00,16.50 L498.39,16.50 L498.78,16.50 L499.18,16.50 L499.57,16.50 L499.96,16.50 L500.35,16.50 L500.75,16.50 L501.14,16.50 L501.53,16.50 L501.93,16.50 L502.32,16.50 L502.71,16.50 L503.11,16.50 L503.50,16.50 L503.89,16.50 L504.29,16.50 L504.68,16.50 L505.07,16.50 L505.47,16.50 L505.86,16.50 L506.25,20.48 L506.64,31.52 L507.04,28.99 L507.43,38.84 L507.82,40.98 L508.22,44.88 L508.61,50.57 L509.00,54.81 L509.40,57.87 L509.79,62.89 L510.18,63.48 L510.58,69.51 L510.97,70.53 L511.36,75.04 L511.76,77.52 L512.15,79.84 L512.54,82.47 L512.93,84.28 L513.33,85.81 L513.72,87.17 L514.11,88.17 L514.51,88.40 L514.90,88.44" fill="none" stroke="#b84848" stroke-width="0.8"/><rect x="393.5" y="16.5" width="121.70" height="72.20" fill="none" stroke="#555" stroke-width="0.8"/><line x1="392.10" y1="88.70" x2="393.50" y2="88.70" stroke="#666" stroke-width="0.5" /><text x="391.30" y="89.60" font-size="2.4" text-anchor="end" font-weight="normal" fill="#666" >0</text><line x1="392.10" y1="78.39" x2="393.50" y2="78.39" stroke="#666" stroke-width="0.5" /><text x="391.30" y="79.29" font-size="2.4" text-anchor="end" font-weight="normal" fill="#666" >25</text><line x1="392.10" y1="68.07" x2="393.50" y2="68.07" stroke="#666" stroke-width="0.5" /><text x="391.30" y="68.97" font-size="2.4" text-anchor="end" font-weight="normal" fill="#666" >50</text><line x1="392.10" y1="57.76" x2="393.50" y2="57.76" stroke="#666" stroke-width="0.5" /><text x="391.30" y="58.66" font-size="2.4" text-anchor="end" font-weight="normal" fill="#666" >75</text><line x1="392.10" y1="47.44" x2="393.50" y2="47.44" stroke="#666" stroke-width="0.5" /><text x="391.30" y="48.34" font-size="2.4" text-anchor="end" font-weight="normal" fill="#666" >100</text><line x1="392.10" y1="37.13" x2="393.50" y2="37.13" stroke="#666" stroke-width="0.5" /><text x="391.30" y="38.03" font-size="2.4" text-anchor="end" font-weight="normal" fill="#666" >125</text><line x1="392.10" y1="26.81" x2="393.50" y2="26.81" stroke="#666" stroke-width="0.5" /><text x="391.30" y="27.71" font-size="2.4" text-anchor="end" font-weight="normal" fill="#666" >150</text><line x1="392.10" y1="16.50" x2="393.50" y2="16.50" stroke="#666" stroke-width="0.5" /><text x="391.30" y="17.40" font-size="2.4" text-anchor="end" font-weight="normal" fill="#666" >175</text><text x="0" y="0" font-size="2.6" text-anchor="middle" font-weight="normal" fill="#555" transform="translate(388.70,52.60) rotate(-90)">Counts</text><line x1="392.50" y1="88.70" x2="392.50" y2="89.90" stroke="#666" stroke-width="0.5" /><text x="392.50" y="93.30" font-size="2.8" text-anchor="middle" fill="#555">10<tspan font-size="2" dy="-1">0</tspan></text><line x1="402.50" y1="88.70" x2="402.50" y2="89.90" stroke="#666" stroke-width="0.5" /><text x="402.50" y="93.30" font-size="2.8" text-anchor="middle" fill="#555">10<tspan font-size="2" dy="-1">1</tspan></text><line x1="440.00" y1="88.70" x2="440.00" y2="89.90" stroke="#666" stroke-width="0.5" /><text x="440.00" y="93.30" font-size="2.8" text-anchor="middle" fill="#555">10<tspan font-size="2" dy="-1">2</tspan></text><line x1="476.00" y1="88.70" x2="476.00" y2="89.90" stroke="#666" stroke-width="0.5" /><text x="476.00" y="93.30" font-size="2.8" text-anchor="middle" fill="#555">10<tspan font-size="2" dy="-1">3</tspan></text><line x1="512.50" y1="88.70" x2="512.50" y2="89.90" stroke="#666" stroke-width="0.5" /><text x="512.50" y="93.30" font-size="2.8" text-anchor="middle" fill="#555">10<tspan font-size="2" dy="-1">4</tspan></text><text x="437.50" y="96.60" font-size="2.6" text-anchor="middle" font-weight="normal" fill="#555" >FL1-H</text><line x1="392.30" y1="107.70" x2="418.50" y2="107.70" stroke="#d02020" stroke-width="2.3" /><text x="430.30" y="110.40" font-size="7.5" text-anchor="start" font-weight="normal" fill="#000" stroke="#000" stroke-width="0.22" textLength="76" lengthAdjust="spacingAndGlyphs">SUDHL-1-CFSE Contr.</text><line x1="392.30" y1="120.60" x2="418.50" y2="120.60" stroke="#5010c0" stroke-width="2.3" /><text x="430.30" y="123.30" font-size="7.5" text-anchor="start" font-weight="normal" fill="#000" stroke="#000" stroke-width="0.22" textLength="72" lengthAdjust="spacingAndGlyphs">SUDHL-1-CFSE/JSC</text><line x1="392.30" y1="133.20" x2="418.50" y2="133.20" stroke="#90f040" stroke-width="2.3" /><text x="430.30" y="135.90" font-size="7.5" text-anchor="start" font-weight="normal" fill="#000" stroke="#000" stroke-width="0.22" textLength="68.8" lengthAdjust="spacingAndGlyphs">SUDHL-1-CFSE/HH</text><line x1="31.80" y1="148.60" x2="31.80" y2="258.50" stroke="#8c8c8c" stroke-width="0.8" /><line x1="31.80" y1="258.50" x2="182.40" y2="258.50" stroke="#8c8c8c" stroke-width="0.8" /><line x1="29.30" y1="258.50" x2="31.80" y2="258.50" stroke="#8c8c8c" stroke-width="0.8" /><text x="25.00" y="261.00" font-size="7.5" text-anchor="end" font-weight="normal" fill="#222" stroke="#222" stroke-width="0.22" >0</text><line x1="29.30" y1="233.52" x2="31.80" y2="233.52" stroke="#8c8c8c" stroke-width="0.8" /><text x="25.00" y="236.02" font-size="7.5" text-anchor="end" font-weight="normal" fill="#222" stroke="#222" stroke-width="0.22" >0.5</text><line x1="29.30" y1="208.55" x2="31.80" y2="208.55" stroke="#8c8c8c" stroke-width="0.8" /><text x="25.00" y="211.05" font-size="7.5" text-anchor="end" font-weight="normal" fill="#222" stroke="#222" stroke-width="0.22" >1</text><line x1="29.30" y1="183.57" x2="31.80" y2="183.57" stroke="#8c8c8c" stroke-width="0.8" /><text x="25.00" y="186.07" font-size="7.5" text-anchor="end" font-weight="normal" fill="#222" stroke="#222" stroke-width="0.22" >1.5</text><line x1="29.30" y1="158.59" x2="31.80" y2="158.59" stroke="#8c8c8c" stroke-width="0.8" /><text x="25.00" y="161.09" font-size="7.5" text-anchor="end" font-weight="normal" fill="#222" stroke="#222" stroke-width="0.22" >2</text><line x1="30.60" y1="258.50" x2="32.60" y2="258.50" stroke="#8c8c8c" stroke-width="0.5" /><line x1="30.60" y1="253.50" x2="32.60" y2="253.50" stroke="#8c8c8c" stroke-width="0.5" /><line x1="30.60" y1="248.51" x2="32.60" y2="248.51" stroke="#8c8c8c" stroke-width="0.5" /><line x1="30.60" y1="243.51" x2="32.60" y2="243.51" stroke="#8c8c8c" stroke-width="0.5" /><line x1="30.60" y1="238.52" x2="32.60" y2="238.52" stroke="#8c8c8c" stroke-width="0.5" /><line x1="30.60" y1="233.52" x2="32.60" y2="233.52" stroke="#8c8c8c" stroke-width="0.5" /><line x1="30.60" y1="228.53" x2="32.60" y2="228.53" stroke="#8c8c8c" stroke-width="0.5" /><line x1="30.60" y1="223.53" x2="32.60" y2="223.53" stroke="#8c8c8c" stroke-width="0.5" /><line x1="30.60" y1="218.54" x2="32.60" y2="218.54" stroke="#8c8c8c" stroke-width="0.5" /><line x1="30.60" y1="213.54" x2="32.60" y2="213.54" stroke="#8c8c8c" stroke-width="0.5" /><line x1="30.60" y1="208.55" x2="32.60" y2="208.55" stroke="#8c8c8c" stroke-width="0.5" /><line x1="30.60" y1="203.55" x2="32.60" y2="203.55" stroke="#8c8c8c" stroke-width="0.5" /><line x1="30.60" y1="198.55" x2="32.60" y2="198.55" stroke="#8c8c8c" stroke-width="0.5" /><line x1="30.60" y1="193.56" x2="32.60" y2="193.56" stroke="#8c8c8c" stroke-width="0.5" /><line x1="30.60" y1="188.56" x2="32.60" y2="188.56" stroke="#8c8c8c" stroke-width="0.5" /><line x1="30.60" y1="183.57" x2="32.60" y2="183.57" stroke="#8c8c8c" stroke-width="0.5" /><line x1="30.60" y1="178.57" x2="32.60" y2="178.57" stroke="#8c8c8c" stroke-width="0.5" /><line x1="30.60" y1="173.58" x2="32.60" y2="173.58" stroke="#8c8c8c" stroke-width="0.5" /><line x1="30.60" y1="168.58" x2="32.60" y2="168.58" stroke="#8c8c8c" stroke-width="0.5" /><line x1="30.60" y1="163.59" x2="32.60" y2="163.59" stroke="#8c8c8c" stroke-width="0.5" /><line x1="30.60" y1="158.59" x2="32.60" y2="158.59" stroke="#8c8c8c" stroke-width="0.5" /><line x1="30.60" y1="153.60" x2="32.60" y2="153.60" stroke="#8c8c8c" stroke-width="0.5" /><line x1="30.60" y1="148.60" x2="32.60" y2="148.60" stroke="#8c8c8c" stroke-width="0.5" /><line x1="31.80" y1="258.50" x2="31.80" y2="261.00" stroke="#8c8c8c" stroke-width="0.8" /><line x1="56.90" y1="258.50" x2="56.90" y2="261.00" stroke="#8c8c8c" stroke-width="0.8" /><line x1="82.00" y1="258.50" x2="82.00" y2="261.00" stroke="#8c8c8c" stroke-width="0.8" /><line x1="107.10" y1="258.50" x2="107.10" y2="261.00" stroke="#8c8c8c" stroke-width="0.8" /><line x1="132.20" y1="258.50" x2="132.20" y2="261.00" stroke="#8c8c8c" stroke-width="0.8" /><line x1="157.30" y1="258.50" x2="157.30" y2="261.00" stroke="#8c8c8c" stroke-width="0.8" /><line x1="182.40" y1="258.50" x2="182.40" y2="261.00" stroke="#8c8c8c" stroke-width="0.8" /><rect x="36.70" y="208.55" width="7.20" height="49.95" fill="#4F81BD" /><line x1="40.30" y1="206.30" x2="40.30" y2="210.79" stroke="#1a1a40" stroke-width="0.8" /><line x1="38.80" y1="206.30" x2="41.80" y2="206.30" stroke="#1a1a40" stroke-width="0.8" /><line x1="38.80" y1="210.79" x2="41.80" y2="210.79" stroke="#1a1a40" stroke-width="0.8" /><rect x="43.90" y="161.09" width="7.20" height="97.41" fill="#C0504D" /><line x1="47.50" y1="156.59" x2="47.50" y2="165.58" stroke="#1a1a40" stroke-width="0.8" /><line x1="46.00" y1="156.59" x2="49.00" y2="156.59" stroke="#1a1a40" stroke-width="0.8" /><line x1="46.00" y1="165.58" x2="49.00" y2="165.58" stroke="#1a1a40" stroke-width="0.8" /><rect x="61.80" y="208.55" width="7.20" height="49.95" fill="#4F81BD" /><line x1="65.40" y1="206.30" x2="65.40" y2="210.79" stroke="#1a1a40" stroke-width="0.8" /><line x1="63.90" y1="206.30" x2="66.90" y2="206.30" stroke="#1a1a40" stroke-width="0.8" /><line x1="63.90" y1="210.79" x2="66.90" y2="210.79" stroke="#1a1a40" stroke-width="0.8" /><rect x="69.00" y="193.56" width="7.20" height="64.94" fill="#C0504D" /><line x1="72.60" y1="191.06" x2="72.60" y2="196.06" stroke="#1a1a40" stroke-width="0.8" /><line x1="71.10" y1="191.06" x2="74.10" y2="191.06" stroke="#1a1a40" stroke-width="0.8" /><line x1="71.10" y1="196.06" x2="74.10" y2="196.06" stroke="#1a1a40" stroke-width="0.8" /><rect x="86.90" y="208.55" width="7.20" height="49.95" fill="#4F81BD" /><line x1="90.50" y1="206.30" x2="90.50" y2="210.79" stroke="#1a1a40" stroke-width="0.8" /><line x1="89.00" y1="206.30" x2="92.00" y2="206.30" stroke="#1a1a40" stroke-width="0.8" /><line x1="89.00" y1="210.79" x2="92.00" y2="210.79" stroke="#1a1a40" stroke-width="0.8" /><rect x="94.10" y="158.59" width="7.20" height="99.91" fill="#C0504D" /><line x1="97.70" y1="155.09" x2="97.70" y2="162.09" stroke="#1a1a40" stroke-width="0.8" /><line x1="96.20" y1="155.09" x2="99.20" y2="155.09" stroke="#1a1a40" stroke-width="0.8" /><line x1="96.20" y1="162.09" x2="99.20" y2="162.09" stroke="#1a1a40" stroke-width="0.8" /><rect x="112.00" y="208.55" width="7.20" height="49.95" fill="#4F81BD" /><line x1="115.60" y1="206.55" x2="115.60" y2="210.54" stroke="#1a1a40" stroke-width="0.8" /><line x1="114.10" y1="206.55" x2="117.10" y2="206.55" stroke="#1a1a40" stroke-width="0.8" /><line x1="114.10" y1="210.54" x2="117.10" y2="210.54" stroke="#1a1a40" stroke-width="0.8" /><rect x="119.20" y="209.54" width="7.20" height="48.96" fill="#C0504D" /><line x1="122.80" y1="207.55" x2="122.80" y2="211.54" stroke="#1a1a40" stroke-width="0.8" /><line x1="121.30" y1="207.55" x2="124.30" y2="207.55" stroke="#1a1a40" stroke-width="0.8" /><line x1="121.30" y1="211.54" x2="124.30" y2="211.54" stroke="#1a1a40" stroke-width="0.8" /><rect x="137.10" y="208.55" width="7.20" height="49.95" fill="#4F81BD" /><line x1="140.70" y1="206.55" x2="140.70" y2="210.54" stroke="#1a1a40" stroke-width="0.8" /><line x1="139.20" y1="206.55" x2="142.20" y2="206.55" stroke="#1a1a40" stroke-width="0.8" /><line x1="139.20" y1="210.54" x2="142.20" y2="210.54" stroke="#1a1a40" stroke-width="0.8" /><rect x="144.30" y="207.55" width="7.20" height="50.95" fill="#C0504D" /><line x1="147.90" y1="205.05" x2="147.90" y2="210.04" stroke="#1a1a40" stroke-width="0.8" /><line x1="146.40" y1="205.05" x2="149.40" y2="205.05" stroke="#1a1a40" stroke-width="0.8" /><line x1="146.40" y1="210.04" x2="149.40" y2="210.04" stroke="#1a1a40" stroke-width="0.8" /><rect x="162.20" y="208.55" width="7.20" height="49.95" fill="#4F81BD" /><line x1="165.80" y1="206.55" x2="165.80" y2="210.54" stroke="#1a1a40" stroke-width="0.8" /><line x1="164.30" y1="206.55" x2="167.30" y2="206.55" stroke="#1a1a40" stroke-width="0.8" /><line x1="164.30" y1="210.54" x2="167.30" y2="210.54" stroke="#1a1a40" stroke-width="0.8" /><rect x="169.40" y="208.55" width="7.20" height="49.95" fill="#C0504D" /><line x1="173.00" y1="206.55" x2="173.00" y2="210.54" stroke="#1a1a40" stroke-width="0.8" /><line x1="171.50" y1="206.55" x2="174.50" y2="206.55" stroke="#1a1a40" stroke-width="0.8" /><line x1="171.50" y1="210.54" x2="174.50" y2="210.54" stroke="#1a1a40" stroke-width="0.8" /><text x="0" y="0" font-size="8.6" stroke="#000" stroke-width="0.15" text-anchor="middle" font-weight="bold" fill="#000" transform="translate(12.60,203.80) rotate(-90)">BrdU Uptake</text><text x="0" y="0" font-size="6.6" text-anchor="end" fill="#222" stroke="#222" stroke-width="0.22" transform="translate(44.95,268.30) rotate(-45)">SUDHL-1</text><text x="0" y="0" font-size="6.6" text-anchor="end" fill="#222" stroke="#222" stroke-width="0.22" transform="translate(70.05,268.30) rotate(-45)">SR786</text><text x="0" y="0" font-size="6.6" text-anchor="end" fill="#222" stroke="#222" stroke-width="0.22" transform="translate(95.15,268.30) rotate(-45)">L82</text><text x="0" y="0" font-size="6.6" text-anchor="end" fill="#222" stroke="#222" stroke-width="0.22" transform="translate(120.25,268.30) rotate(-45)">2A</text><text x="0" y="0" font-size="6.6" text-anchor="end" fill="#222" stroke="#222" stroke-width="0.22" transform="translate(145.35,268.30) rotate(-45)">2B</text><text x="0" y="0" font-size="6.6" text-anchor="end" fill="#222" stroke="#222" stroke-width="0.22" transform="translate(170.45,268.30) rotate(-45)">Jurkat</text><rect x="116.30" y="150.00" width="3.20" height="3.20" fill="#4F81BD" /><text x="120.70" y="154.40" font-size="7.8" text-anchor="start" font-weight="normal" fill="#000" stroke="#000" stroke-width="0.22" >beads</text><rect x="116.30" y="159.90" width="3.20" height="3.20" fill="#C0504D" /><text x="120.70" y="164.20" font-size="7.8" text-anchor="start" font-weight="normal" fill="#000" stroke="#000" stroke-width="0.22" textLength="53.4" lengthAdjust="spacingAndGlyphs">beads-ICOS ab</text><line x1="219.10" y1="148.00" x2="219.10" y2="278.50" stroke="#8c8c8c" stroke-width="0.8" /><line x1="219.10" y1="278.50" x2="329.30" y2="278.50" stroke="#8c8c8c" stroke-width="0.8" /><line x1="216.60" y1="278.50" x2="219.10" y2="278.50" stroke="#8c8c8c" stroke-width="0.8" /><text x="212.20" y="281.00" font-size="7" text-anchor="end" font-weight="normal" fill="#222" stroke="#222" stroke-width="0.22" >0</text><line x1="216.60" y1="264.16" x2="219.10" y2="264.16" stroke="#8c8c8c" stroke-width="0.8" /><text x="212.20" y="266.66" font-size="7" text-anchor="end" font-weight="normal" fill="#222" stroke="#222" stroke-width="0.22" >0.2</text><line x1="216.60" y1="249.82" x2="219.10" y2="249.82" stroke="#8c8c8c" stroke-width="0.8" /><text x="212.20" y="252.32" font-size="7" text-anchor="end" font-weight="normal" fill="#222" stroke="#222" stroke-width="0.22" >0.4</text><line x1="216.60" y1="235.48" x2="219.10" y2="235.48" stroke="#8c8c8c" stroke-width="0.8" /><text x="212.20" y="237.98" font-size="7" text-anchor="end" font-weight="normal" fill="#222" stroke="#222" stroke-width="0.22" >0.6</text><line x1="216.60" y1="221.14" x2="219.10" y2="221.14" stroke="#8c8c8c" stroke-width="0.8" /><text x="212.20" y="223.64" font-size="7" text-anchor="end" font-weight="normal" fill="#222" stroke="#222" stroke-width="0.22" >0.8</text><line x1="216.60" y1="206.80" x2="219.10" y2="206.80" stroke="#8c8c8c" stroke-width="0.8" /><text x="212.20" y="209.30" font-size="7" text-anchor="end" font-weight="normal" fill="#222" stroke="#222" stroke-width="0.22" >1</text><line x1="216.60" y1="192.46" x2="219.10" y2="192.46" stroke="#8c8c8c" stroke-width="0.8" /><text x="212.20" y="194.96" font-size="7" text-anchor="end" font-weight="normal" fill="#222" stroke="#222" stroke-width="0.22" >1.2</text><line x1="216.60" y1="178.12" x2="219.10" y2="178.12" stroke="#8c8c8c" stroke-width="0.8" /><text x="212.20" y="180.62" font-size="7" text-anchor="end" font-weight="normal" fill="#222" stroke="#222" stroke-width="0.22" >1.4</text><line x1="216.60" y1="163.77" x2="219.10" y2="163.77" stroke="#8c8c8c" stroke-width="0.8" /><text x="212.20" y="166.27" font-size="7" text-anchor="end" font-weight="normal" fill="#222" stroke="#222" stroke-width="0.22" >1.6</text><line x1="216.60" y1="149.43" x2="219.10" y2="149.43" stroke="#8c8c8c" stroke-width="0.8" /><text x="212.20" y="151.93" font-size="7" text-anchor="end" font-weight="normal" fill="#222" stroke="#222" stroke-width="0.22" >1.8</text><line x1="217.90" y1="278.50" x2="219.90" y2="278.50" stroke="#8c8c8c" stroke-width="0.5" /><line x1="217.90" y1="274.91" x2="219.90" y2="274.91" stroke="#8c8c8c" stroke-width="0.5" /><line x1="217.90" y1="271.33" x2="219.90" y2="271.33" stroke="#8c8c8c" stroke-width="0.5" /><line x1="217.90" y1="267.74" x2="219.90" y2="267.74" stroke="#8c8c8c" stroke-width="0.5" /><line x1="217.90" y1="264.16" x2="219.90" y2="264.16" stroke="#8c8c8c" stroke-width="0.5" /><line x1="217.90" y1="260.57" x2="219.90" y2="260.57" stroke="#8c8c8c" stroke-width="0.5" /><line x1="217.90" y1="256.99" x2="219.90" y2="256.99" stroke="#8c8c8c" stroke-width="0.5" /><line x1="217.90" y1="253.40" x2="219.90" y2="253.40" stroke="#8c8c8c" stroke-width="0.5" /><line x1="217.90" y1="249.82" x2="219.90" y2="249.82" stroke="#8c8c8c" stroke-width="0.5" /><line x1="217.90" y1="246.23" x2="219.90" y2="246.23" stroke="#8c8c8c" stroke-width="0.5" /><line x1="217.90" y1="242.65" x2="219.90" y2="242.65" stroke="#8c8c8c" stroke-width="0.5" /><line x1="217.90" y1="239.06" x2="219.90" y2="239.06" stroke="#8c8c8c" stroke-width="0.5" /><line x1="217.90" y1="235.48" x2="219.90" y2="235.48" stroke="#8c8c8c" stroke-width="0.5" /><line x1="217.90" y1="231.89" x2="219.90" y2="231.89" stroke="#8c8c8c" stroke-width="0.5" /><line x1="217.90" y1="228.31" x2="219.90" y2="228.31" stroke="#8c8c8c" stroke-width="0.5" /><line x1="217.90" y1="224.72" x2="219.90" y2="224.72" stroke="#8c8c8c" stroke-width="0.5" /><line x1="217.90" y1="221.14" x2="219.90" y2="221.14" stroke="#8c8c8c" stroke-width="0.5" /><line x1="217.90" y1="217.55" x2="219.90" y2="217.55" stroke="#8c8c8c" stroke-width="0.5" /><line x1="217.90" y1="213.97" x2="219.90" y2="213.97" stroke="#8c8c8c" stroke-width="0.5" /><line x1="217.90" y1="210.38" x2="219.90" y2="210.38" stroke="#8c8c8c" stroke-width="0.5" /><line x1="217.90" y1="206.80" x2="219.90" y2="206.80" stroke="#8c8c8c" stroke-width="0.5" /><line x1="217.90" y1="203.21" x2="219.90" y2="203.21" stroke="#8c8c8c" stroke-width="0.5" /><line x1="217.90" y1="199.63" x2="219.90" y2="199.63" stroke="#8c8c8c" stroke-width="0.5" /><line x1="217.90" y1="196.04" x2="219.90" y2="196.04" stroke="#8c8c8c" stroke-width="0.5" /><line x1="217.90" y1="192.46" x2="219.90" y2="192.46" stroke="#8c8c8c" stroke-width="0.5" /><line x1="217.90" y1="188.87" x2="219.90" y2="188.87" stroke="#8c8c8c" stroke-width="0.5" /><line x1="217.90" y1="185.29" x2="219.90" y2="185.29" stroke="#8c8c8c" stroke-width="0.5" /><line x1="217.90" y1="181.70" x2="219.90" y2="181.70" stroke="#8c8c8c" stroke-width="0.5" /><line x1="217.90" y1="178.12" x2="219.90" y2="178.12" stroke="#8c8c8c" stroke-width="0.5" /><line x1="217.90" y1="174.53" x2="219.90" y2="174.53" stroke="#8c8c8c" stroke-width="0.5" /><line x1="217.90" y1="170.95" x2="219.90" y2="170.95" stroke="#8c8c8c" stroke-width="0.5" /><line x1="217.90" y1="167.36" x2="219.90" y2="167.36" stroke="#8c8c8c" stroke-width="0.5" /><line x1="217.90" y1="163.77" x2="219.90" y2="163.77" stroke="#8c8c8c" stroke-width="0.5" /><line x1="217.90" y1="160.19" x2="219.90" y2="160.19" stroke="#8c8c8c" stroke-width="0.5" /><line x1="217.90" y1="156.60" x2="219.90" y2="156.60" stroke="#8c8c8c" stroke-width="0.5" /><line x1="217.90" y1="153.02" x2="219.90" y2="153.02" stroke="#8c8c8c" stroke-width="0.5" /><line x1="217.90" y1="149.43" x2="219.90" y2="149.43" stroke="#8c8c8c" stroke-width="0.5" /><line x1="219.10" y1="278.50" x2="219.10" y2="281.00" stroke="#8c8c8c" stroke-width="0.8" /><line x1="255.80" y1="278.50" x2="255.80" y2="281.00" stroke="#8c8c8c" stroke-width="0.8" /><line x1="292.50" y1="278.50" x2="292.50" y2="281.00" stroke="#8c8c8c" stroke-width="0.8" /><line x1="329.30" y1="278.50" x2="329.30" y2="281.00" stroke="#8c8c8c" stroke-width="0.8" /><rect x="227.10" y="170.95" width="10.30" height="107.55" fill="#4F81BD" /><line x1="232.25" y1="167.36" x2="232.25" y2="174.53" stroke="#1a1a40" stroke-width="0.8" /><line x1="230.75" y1="167.36" x2="233.75" y2="167.36" stroke="#1a1a40" stroke-width="0.8" /><line x1="230.75" y1="174.53" x2="233.75" y2="174.53" stroke="#1a1a40" stroke-width="0.8" /><rect x="237.40" y="160.19" width="10.30" height="118.31" fill="#C0504D" /><line x1="242.55" y1="156.60" x2="242.55" y2="163.77" stroke="#1a1a40" stroke-width="0.8" /><line x1="241.05" y1="156.60" x2="244.05" y2="156.60" stroke="#1a1a40" stroke-width="0.8" /><line x1="241.05" y1="163.77" x2="244.05" y2="163.77" stroke="#1a1a40" stroke-width="0.8" /><rect x="264.10" y="244.08" width="10.30" height="34.42" fill="#4F81BD" /><line x1="269.25" y1="243.01" x2="269.25" y2="245.16" stroke="#1a1a40" stroke-width="0.8" /><line x1="267.75" y1="243.01" x2="270.75" y2="243.01" stroke="#1a1a40" stroke-width="0.8" /><line x1="267.75" y1="245.16" x2="270.75" y2="245.16" stroke="#1a1a40" stroke-width="0.8" /><rect x="274.40" y="238.35" width="10.30" height="40.15" fill="#C0504D" /><line x1="279.55" y1="237.27" x2="279.55" y2="239.42" stroke="#1a1a40" stroke-width="0.8" /><line x1="278.05" y1="237.27" x2="281.05" y2="237.27" stroke="#1a1a40" stroke-width="0.8" /><line x1="278.05" y1="239.42" x2="281.05" y2="239.42" stroke="#1a1a40" stroke-width="0.8" /><rect x="301.10" y="276.35" width="10.30" height="2.15" fill="#4F81BD" /><line x1="306.25" y1="275.99" x2="306.25" y2="276.71" stroke="#1a1a40" stroke-width="0.8" /><line x1="304.75" y1="275.99" x2="307.75" y2="275.99" stroke="#1a1a40" stroke-width="0.8" /><line x1="304.75" y1="276.71" x2="307.75" y2="276.71" stroke="#1a1a40" stroke-width="0.8" /><rect x="311.40" y="276.71" width="10.30" height="1.79" fill="#C0504D" /><line x1="316.55" y1="276.42" x2="316.55" y2="276.99" stroke="#1a1a40" stroke-width="0.8" /><line x1="315.05" y1="276.42" x2="318.05" y2="276.42" stroke="#1a1a40" stroke-width="0.8" /><line x1="315.05" y1="276.99" x2="318.05" y2="276.99" stroke="#1a1a40" stroke-width="0.8" /><text x="0" y="0" font-size="8.6" stroke="#000" stroke-width="0.15" text-anchor="middle" font-weight="bold" fill="#000" transform="translate(200.60,214.50) rotate(-90)">IL-10</text><text x="236.80" y="289.00" font-size="7" text-anchor="middle" font-weight="normal" fill="#222" stroke="#222" stroke-width="0.22" >SR786</text><text x="273.80" y="289.00" font-size="7" text-anchor="middle" font-weight="normal" fill="#222" stroke="#222" stroke-width="0.22" >L82</text><text x="310.80" y="289.00" font-size="7" text-anchor="middle" font-weight="normal" fill="#222" stroke="#222" stroke-width="0.22" >MyLa2059</text><rect x="264.00" y="152.20" width="3.20" height="3.20" fill="#4F81BD" /><text x="268.50" y="156.70" font-size="7.8" text-anchor="start" font-weight="normal" fill="#000" stroke="#000" stroke-width="0.22" >beads</text><rect x="264.00" y="163.60" width="3.20" height="3.20" fill="#C0504D" /><text x="268.50" y="168.10" font-size="7.8" text-anchor="start" font-weight="normal" fill="#000" stroke="#000" stroke-width="0.22" textLength="53.2" lengthAdjust="spacingAndGlyphs">beads-ICOS ab</text><path d="M363.00,232.58 L363.41,232.04 L363.81,232.52 L364.22,231.84 L364.63,232.18 L365.04,232.33 L365.44,232.66 L365.85,232.43 L366.26,231.52 L366.66,231.61 L367.07,232.57 L367.48,231.21 L367.89,231.36 L368.29,232.13 L368.70,231.47 L369.11,231.41 L369.51,230.68 L369.92,231.05 L370.33,230.80 L370.74,229.01 L371.14,228.91 L371.55,227.92 L371.96,226.56 L372.36,227.72 L372.77,229.00 L373.18,228.91 L373.59,228.81 L373.99,228.18 L374.40,228.96 L374.81,229.04 L375.21,230.07 L375.62,229.54 L376.03,230.22 L376.44,229.21 L376.84,230.07 L377.25,230.42 L377.66,229.95 L378.06,230.19 L378.47,229.82 L378.88,230.75 L379.29,229.74 L379.69,229.90 L380.10,230.01 L380.51,230.59 L380.91,230.26 L381.32,229.94 L381.73,231.28 L382.14,231.31 L382.54,230.51 L382.95,230.89 L383.36,231.77 L383.76,231.48 L384.17,231.76 L384.58,231.33 L384.99,231.69 L385.39,231.80 L385.80,232.21 L386.21,232.30 L386.61,232.66 L387.02,231.08 L387.43,231.96 L387.84,231.69 L388.24,231.11 L388.65,231.83 L389.06,231.73 L389.46,231.15 L389.87,228.94 L390.28,229.84 L390.69,229.34 L391.09,228.58 L391.50,226.10 L391.91,225.56 L392.31,223.88 L392.72,227.16 L393.13,225.99 L393.54,224.88 L393.94,222.70 L394.35,222.95 L394.76,222.18 L395.16,219.64 L395.57,221.78 L395.98,217.93 L396.39,213.34 L396.79,214.36 L397.20,210.36 L397.61,209.70 L398.01,214.84 L398.42,215.75 L398.83,208.05 L399.24,211.02 L399.64,214.99 L400.05,209.60 L400.46,209.57 L400.86,208.37 L401.27,210.23 L401.68,202.79 L402.09,204.22 L402.49,206.25 L402.90,195.84 L403.31,205.91 L403.71,200.84 L404.12,204.36 L404.53,204.14 L404.94,204.21 L405.34,210.32 L405.75,209.25 L406.16,204.96 L406.56,201.75 L406.97,212.56 L407.38,215.23 L407.79,216.81 L408.19,209.82 L408.60,210.79 L409.01,212.98 L409.41,216.48 L409.82,220.47 L410.23,218.28 L410.64,223.27 L411.04,223.99 L411.45,224.58 L411.86,222.54 L412.26,225.80 L412.67,226.57 L413.08,226.52 L413.49,229.56 L413.89,227.86 L414.30,230.76 L414.71,231.23 L415.11,230.54 L415.52,231.08 L415.93,231.94 L416.34,231.86 L416.74,231.83 L417.15,232.51 L417.56,231.61 L417.96,231.81 L418.37,231.32 L418.78,232.68 L419.19,231.92 L419.59,232.10 L420.00,232.08 L420.00,234.80 L363.00,234.80 Z" fill="#84ef2a"/><path d="M363.00,232.18 L363.45,232.08 L363.90,232.47 L364.35,231.65 L364.80,232.76 L365.25,232.22 L365.70,232.23 L366.15,233.00 L366.60,232.52 L367.05,232.87 L367.50,232.53 L367.95,232.36 L368.40,232.54 L368.85,231.95 L369.30,232.77 L369.75,232.20 L370.20,232.91 L370.65,232.42 L371.10,232.06 L371.55,232.59 L372.00,232.68 L372.45,232.23 L372.90,232.71 L373.35,232.78 L373.80,232.56 L374.25,232.45 L374.70,232.96 L375.15,232.73 L375.60,232.69 L376.05,232.20 L376.50,232.21 L376.95,232.89 L377.40,232.73 L377.85,232.71 L378.30,232.57 L378.75,232.07 L379.20,232.99 L379.65,232.31 L380.10,232.63 L380.55,232.60 L381.00,232.53 L381.45,232.39 L381.90,232.40 L382.35,232.73 L382.80,232.32 L383.25,231.89 L383.70,232.48 L384.15,232.89 L384.60,232.64 L385.05,232.19 L385.50,232.82 L385.95,232.10 L386.40,232.95 L386.85,232.86 L387.30,232.39 L387.75,232.07 L388.20,232.17 L388.65,232.61 L389.10,232.38 L389.55,232.51 L390.00,232.47 L390.45,232.90 L390.90,232.18 L391.35,232.23 L391.80,233.01 L392.25,233.04 L392.70,232.17 L393.15,232.83 L393.60,232.92 L394.05,232.28 L394.50,233.03 L394.95,232.01 L395.40,232.25 L395.85,232.72 L396.30,232.44 L396.75,232.90 L397.20,232.59 L397.65,232.32 L398.10,232.87 L398.55,232.27 L399.00,232.67 L399.45,232.58 L399.90,231.82 L400.35,230.63 L400.80,230.89 L401.25,230.99 L401.70,231.44 L402.15,229.89 L402.60,229.06 L403.05,230.04 L403.50,227.81 L403.95,228.57 L404.40,227.13 L404.85,225.82 L405.30,225.92 L405.75,225.00 L406.20,225.58 L406.65,226.57 L407.10,224.23 L407.55,225.28 L408.00,222.28 L408.45,222.57 L408.90,219.79 L409.35,220.56 L409.80,217.44 L410.25,222.30 L410.70,218.24 L411.15,219.96 L411.60,216.47 L412.05,212.40 L412.50,214.35 L412.95,219.28 L413.40,216.52 L413.85,214.54 L414.30,210.19 L414.75,212.02 L415.20,215.36 L415.65,215.57 L416.10,208.85 L416.55,212.69 L417.00,217.83 L417.45,213.11 L417.90,216.07 L418.35,210.41 L418.80,215.01 L419.25,217.04 L419.70,211.26 L420.15,207.48 L420.60,210.16 L421.05,214.23 L421.50,212.56 L421.95,217.53 L422.40,217.84 L422.85,215.00 L423.30,220.45 L423.75,221.45 L424.20,220.25 L424.65,221.88 L425.10,218.43 L425.55,221.51 L426.00,221.34 L426.45,217.03 L426.90,222.25 L427.35,223.80 L427.80,224.02 L428.25,225.41 L428.70,225.16 L429.15,224.81 L429.60,224.53 L430.05,228.03 L430.50,227.02 L430.95,227.29 L431.40,228.33 L431.85,229.28 L432.30,228.80 L432.75,228.13 L433.20,229.06 L433.65,229.55 L434.10,229.58 L434.55,230.35 L435.00,230.96 L435.45,231.16 L435.90,232.14 L436.35,231.64 L436.80,231.75 L437.25,232.76 L437.70,232.63 L438.15,232.59 L438.60,232.34 L439.05,232.77 L439.50,232.40 L439.95,232.97 L440.40,232.65 L440.85,232.97 L441.30,232.79 L441.75,231.85 L442.20,232.33 L442.65,232.26 L443.10,232.88 L443.55,232.28 L444.00,232.94 L444.45,232.78 L444.90,232.33 L445.35,232.83 L445.80,232.62 L446.25,232.37 L446.70,232.67 L447.15,232.83 L447.60,232.73 L448.05,232.64 L448.50,232.69 L448.95,232.79 L449.40,232.82 L449.85,232.19 L450.30,232.61 L450.75,232.94 L451.20,231.93 L451.65,232.44 L452.10,232.61 L452.55,232.30 L453.00,232.83 L453.45,232.98 L453.90,232.25 L454.35,232.53 L454.80,232.52 L455.25,232.43 L455.70,232.36 L456.15,232.34 L456.60,232.95 L457.05,232.24 L457.50,232.60 L457.95,232.29 L458.40,232.68 L458.85,232.29 L459.30,232.57 L459.75,232.58 L460.20,232.13 L460.65,232.39 L461.10,232.34 L461.55,232.39 L462.00,232.39 L462.00,234.80 L363.00,234.80 Z" fill="#4a10c8"/><path d="M455.00,234.26 L455.32,234.26 L455.63,234.26 L455.95,234.33 L456.27,234.29 L456.58,234.30 L456.90,234.29 L457.22,234.32 L457.53,234.31 L457.85,234.29 L458.17,234.31 L458.48,234.28 L458.80,234.32 L459.12,234.31 L459.43,234.25 L459.75,234.27 L460.07,234.25 L460.38,234.22 L460.70,234.25 L461.02,234.27 L461.33,234.19 L461.65,234.19 L461.97,234.16 L462.28,234.15 L462.60,234.09 L462.92,234.13 L463.23,234.05 L463.55,234.07 L463.87,234.00 L464.18,233.95 L464.50,233.95 L464.82,233.93 L465.13,233.81 L465.45,233.70 L465.77,233.64 L466.08,233.58 L466.40,233.44 L466.72,233.43 L467.03,233.31 L467.35,233.14 L467.67,232.85 L467.98,232.87 L468.30,232.72 L468.62,232.53 L468.93,232.34 L469.25,232.00 L469.57,231.58 L469.88,231.13 L470.20,231.08 L470.52,230.70 L470.83,230.37 L471.15,229.94 L471.47,229.07 L471.78,228.76 L472.10,228.52 L472.42,228.12 L472.73,226.69 L473.05,226.08 L473.37,225.15 L473.68,225.27 L474.00,223.95 L474.32,222.36 L474.63,222.02 L474.95,220.25 L475.27,220.94 L475.58,217.86 L475.90,219.10 L476.22,216.92 L476.53,216.88 L476.85,213.04 L477.17,212.02 L477.48,209.45 L477.80,208.52 L478.12,206.28 L478.43,206.43 L478.75,202.63 L479.07,202.03 L479.38,202.38 L479.70,197.16 L480.02,198.76 L480.33,198.12 L480.65,197.15 L480.97,192.80 L481.28,192.87 L481.60,185.70 L481.92,183.61 L482.23,187.48 L482.55,186.68 L482.87,181.40 L483.18,182.81 L483.50,177.81 L483.82,173.65 L484.13,177.33 L484.45,174.21 L484.77,167.96 L485.08,171.19 L485.40,170.98 L485.72,163.95 L486.03,163.63 L486.35,163.00 L486.67,163.06 L486.98,165.36 L487.30,163.00 L487.62,163.00 L487.93,163.00 L488.25,165.50 L488.57,164.69 L488.88,163.33 L489.20,163.00 L489.52,163.00 L489.83,163.00 L490.15,163.00 L490.47,169.33 L490.78,164.60 L491.10,169.10 L491.42,168.08 L491.73,166.80 L492.05,174.48 L492.37,169.35 L492.68,179.65 L493.00,177.10 L493.32,179.37 L493.63,184.12 L493.95,183.56 L494.27,186.49 L494.58,188.86 L494.90,189.17 L495.22,196.24 L495.53,195.89 L495.85,195.55 L496.17,201.40 L496.48,199.45 L496.80,204.89 L497.12,204.45 L497.43,208.58 L497.75,209.09 L498.07,210.84 L498.38,213.63 L498.70,212.91 L499.02,215.03 L499.33,215.69 L499.65,217.33 L499.97,218.40 L500.28,219.50 L500.60,220.96 L500.92,220.49 L501.23,222.96 L501.55,222.11 L501.87,222.81 L502.18,224.05 L502.50,224.12 L502.82,224.78 L503.13,225.33 L503.45,226.18 L503.77,226.49 L504.08,226.77 L504.40,227.14 L504.72,226.61 L505.03,227.63 L505.35,227.84 L505.67,228.05 L505.98,227.87 L506.30,228.47 L506.62,228.63 L506.93,229.14 L507.25,229.35 L507.57,229.73 L507.88,229.84 L508.20,230.03 L508.52,229.80 L508.83,230.30 L509.15,230.79 L509.47,230.78 L509.78,231.21 L510.10,231.16 L510.42,231.44 L510.73,231.44 L511.05,231.94 L511.37,231.86 L511.68,232.31 L512.00,232.20" fill="none" stroke="#b84848" stroke-width="0.8"/><rect x="362.6" y="163" width="149.70" height="71.80" fill="none" stroke="#555" stroke-width="0.8"/><line x1="361.20" y1="234.80" x2="362.60" y2="234.80" stroke="#666" stroke-width="0.5" /><text x="360.60" y="235.70" font-size="2.4" text-anchor="end" font-weight="normal" fill="#666" >0</text><line x1="361.20" y1="220.44" x2="362.60" y2="220.44" stroke="#666" stroke-width="0.5" /><text x="360.60" y="221.34" font-size="2.4" text-anchor="end" font-weight="normal" fill="#666" >10</text><line x1="361.20" y1="206.08" x2="362.60" y2="206.08" stroke="#666" stroke-width="0.5" /><text x="360.60" y="206.98" font-size="2.4" text-anchor="end" font-weight="normal" fill="#666" >20</text><line x1="361.20" y1="191.72" x2="362.60" y2="191.72" stroke="#666" stroke-width="0.5" /><text x="360.60" y="192.62" font-size="2.4" text-anchor="end" font-weight="normal" fill="#666" >30</text><line x1="361.20" y1="177.36" x2="362.60" y2="177.36" stroke="#666" stroke-width="0.5" /><text x="360.60" y="178.26" font-size="2.4" text-anchor="end" font-weight="normal" fill="#666" >40</text><line x1="361.20" y1="163.00" x2="362.60" y2="163.00" stroke="#666" stroke-width="0.5" /><text x="360.60" y="163.90" font-size="2.4" text-anchor="end" font-weight="normal" fill="#666" >50</text><line x1="361.80" y1="234.80" x2="362.60" y2="234.80" stroke="#666" stroke-width="0.4" /><line x1="361.80" y1="231.93" x2="362.60" y2="231.93" stroke="#666" stroke-width="0.4" /><line x1="361.80" y1="229.06" x2="362.60" y2="229.06" stroke="#666" stroke-width="0.4" /><line x1="361.80" y1="226.18" x2="362.60" y2="226.18" stroke="#666" stroke-width="0.4" /><line x1="361.80" y1="223.31" x2="362.60" y2="223.31" stroke="#666" stroke-width="0.4" /><line x1="361.80" y1="220.44" x2="362.60" y2="220.44" stroke="#666" stroke-width="0.4" /><line x1="361.80" y1="217.57" x2="362.60" y2="217.57" stroke="#666" stroke-width="0.4" /><line x1="361.80" y1="214.70" x2="362.60" y2="214.70" stroke="#666" stroke-width="0.4" /><line x1="361.80" y1="211.82" x2="362.60" y2="211.82" stroke="#666" stroke-width="0.4" /><line x1="361.80" y1="208.95" x2="362.60" y2="208.95" stroke="#666" stroke-width="0.4" /><line x1="361.80" y1="206.08" x2="362.60" y2="206.08" stroke="#666" stroke-width="0.4" /><line x1="361.80" y1="203.21" x2="362.60" y2="203.21" stroke="#666" stroke-width="0.4" /><line x1="361.80" y1="200.34" x2="362.60" y2="200.34" stroke="#666" stroke-width="0.4" /><line x1="361.80" y1="197.46" x2="362.60" y2="197.46" stroke="#666" stroke-width="0.4" /><line x1="361.80" y1="194.59" x2="362.60" y2="194.59" stroke="#666" stroke-width="0.4" /><line x1="361.80" y1="191.72" x2="362.60" y2="191.72" stroke="#666" stroke-width="0.4" /><line x1="361.80" y1="188.85" x2="362.60" y2="188.85" stroke="#666" stroke-width="0.4" /><line x1="361.80" y1="185.98" x2="362.60" y2="185.98" stroke="#666" stroke-width="0.4" /><line x1="361.80" y1="183.10" x2="362.60" y2="183.10" stroke="#666" stroke-width="0.4" /><line x1="361.80" y1="180.23" x2="362.60" y2="180.23" stroke="#666" stroke-width="0.4" /><line x1="361.80" y1="177.36" x2="362.60" y2="177.36" stroke="#666" stroke-width="0.4" /><line x1="361.80" y1="174.49" x2="362.60" y2="174.49" stroke="#666" stroke-width="0.4" /><line x1="361.80" y1="171.62" x2="362.60" y2="171.62" stroke="#666" stroke-width="0.4" /><line x1="361.80" y1="168.74" x2="362.60" y2="168.74" stroke="#666" stroke-width="0.4" /><line x1="361.80" y1="165.87" x2="362.60" y2="165.87" stroke="#666" stroke-width="0.4" /><line x1="361.80" y1="163.00" x2="362.60" y2="163.00" stroke="#666" stroke-width="0.4" /><text x="0" y="0" font-size="2.6" text-anchor="middle" font-weight="normal" fill="#555" transform="translate(357.10,199.00) rotate(-90)">Counts</text><line x1="362.60" y1="234.80" x2="362.60" y2="236.00" stroke="#666" stroke-width="0.5" /><text x="362.60" y="239.40" font-size="2.8" text-anchor="middle" fill="#555">10<tspan font-size="2" dy="-1">0</tspan></text><line x1="400.00" y1="234.80" x2="400.00" y2="236.00" stroke="#666" stroke-width="0.5" /><text x="400.00" y="239.40" font-size="2.8" text-anchor="middle" fill="#555">10<tspan font-size="2" dy="-1">1</tspan></text><line x1="437.00" y1="234.80" x2="437.00" y2="236.00" stroke="#666" stroke-width="0.5" /><text x="437.00" y="239.40" font-size="2.8" text-anchor="middle" fill="#555">10<tspan font-size="2" dy="-1">2</tspan></text><line x1="473.60" y1="234.80" x2="473.60" y2="236.00" stroke="#666" stroke-width="0.5" /><text x="473.60" y="239.40" font-size="2.8" text-anchor="middle" fill="#555">10<tspan font-size="2" dy="-1">3</tspan></text><line x1="510.50" y1="234.80" x2="510.50" y2="236.00" stroke="#666" stroke-width="0.5" /><text x="510.50" y="239.40" font-size="2.8" text-anchor="middle" fill="#555">10<tspan font-size="2" dy="-1">4</tspan></text><text x="437.00" y="244.80" font-size="2.6" text-anchor="middle" font-weight="normal" fill="#555" >FL1-H</text><line x1="365.00" y1="257.10" x2="391.20" y2="257.10" stroke="#d02020" stroke-width="2.3" /><text x="396.20" y="259.90" font-size="7.8" text-anchor="start" font-weight="normal" fill="#000" stroke="#000" stroke-width="0.22" textLength="80.6" lengthAdjust="spacingAndGlyphs">SUDHL-1-CSFE Contr.</text><line x1="365.00" y1="271.80" x2="391.20" y2="271.80" stroke="#90f040" stroke-width="2.3" /><text x="396.20" y="274.60" font-size="7.8" text-anchor="start" font-weight="normal" fill="#000" stroke="#000" stroke-width="0.22" textLength="95" lengthAdjust="spacingAndGlyphs">SUDHL-1-CSFE/HH/IgG ab</text><line x1="365.00" y1="286.80" x2="391.20" y2="286.80" stroke="#2010a0" stroke-width="2.3" /><text x="396.20" y="289.60" font-size="7.8" text-anchor="start" font-weight="normal" fill="#000" stroke="#000" stroke-width="0.22" textLength="99.4" lengthAdjust="spacingAndGlyphs">SUDHL-1-CSFE/HH/ICOS ab</text><line x1="308.50" y1="313.80" x2="326.50" y2="313.80" stroke="#e01010" stroke-width="2.4" /><text x="333.60" y="315.80" font-size="7.6" text-anchor="start" font-weight="normal" fill="#000" stroke="#000" stroke-width="0.22" >( - )</text><line x1="363.70" y1="313.60" x2="381.00" y2="313.60" stroke="#1010a0" stroke-width="2.4" /><text x="388.30" y="315.80" font-size="7.6" text-anchor="start" font-weight="normal" fill="#000" stroke="#000" stroke-width="0.22" >IgG ab</text><line x1="432.00" y1="313.50" x2="448.80" y2="313.50" stroke="#90e850" stroke-width="2.4" /><text x="457.90" y="315.80" font-size="7.6" text-anchor="start" font-weight="normal" fill="#000" stroke="#000" stroke-width="0.22" >ICOS-L ab</text><path d="M8.70,366.07 L9.21,365.82 L9.73,365.85 L10.24,365.90 L10.75,365.66 L11.27,365.44 L11.78,365.47 L12.29,365.04 L12.81,364.67 L13.32,364.15 L13.83,363.60 L14.35,362.76 L14.86,361.98 L15.37,360.16 L15.89,358.41 L16.40,357.64 L16.91,355.68 L17.43,354.90 L17.94,351.00 L18.45,350.59 L18.97,348.43 L19.48,345.51 L19.99,343.01 L20.51,340.82 L21.02,334.78 L21.53,333.33 L22.05,332.88 L22.56,333.34 L23.07,329.66 L23.59,335.37 L24.10,335.34 L24.61,328.73 L25.13,331.60 L25.64,334.75 L26.15,336.79 L26.67,343.92 L27.18,343.11 L27.69,345.88 L28.21,349.03 L28.72,351.45 L29.23,355.84 L29.75,357.16 L30.26,359.39 L30.77,360.64 L31.29,361.89 L31.80,362.75 L32.31,363.29 L32.83,363.49 L33.34,364.21 L33.85,364.31 L34.37,364.40 L34.88,364.69 L35.39,364.78 L35.91,364.91 L36.42,364.92 L36.93,364.92 L37.45,365.04 L37.96,365.00 L38.47,365.28 L38.99,365.32 L39.50,365.28 L40.01,365.22 L40.53,365.12 L41.04,365.23 L41.55,365.21 L42.07,365.33 L42.58,365.28 L43.09,365.35 L43.61,365.36 L44.12,365.52 L44.63,365.32 L45.15,365.38 L45.66,365.45 L46.17,365.28 L46.69,365.42 L47.20,365.29 L47.71,365.57 L48.23,365.57 L48.74,365.60 L49.25,365.41 L49.77,365.55 L50.28,365.56 L50.79,365.43 L51.31,365.60 L51.82,365.67 L52.33,365.62 L52.85,365.73 L53.36,365.59 L53.87,365.77 L54.39,365.79 L54.90,365.63 L55.41,365.57 L55.93,365.83 L56.44,365.73 L56.95,365.59 L57.47,365.80 L57.98,365.61 L58.49,365.64 L59.01,365.71 L59.52,365.87 L60.03,365.92 L60.55,365.72 L61.06,365.73 L61.57,365.79 L62.09,365.95 L62.60,365.82 L63.11,365.85 L63.63,365.78 L64.14,365.82 L64.65,365.76 L65.17,365.76 L65.68,365.88 L66.19,365.93 L66.71,365.85 L67.22,365.98 L67.73,365.91 L68.25,365.76 L68.76,365.81 L69.27,365.83 L69.79,365.90 L70.30,365.81 L70.81,365.89 L71.33,365.87 L71.84,365.94 L72.35,365.79 L72.87,365.79 L73.38,366.03 L73.89,366.03 L74.41,365.96 L74.92,366.05 L75.43,366.05 L75.95,366.09 L76.46,365.83 L76.97,365.83 L77.49,365.91 L78.00,365.89 L78.51,365.84 L79.03,365.91 L79.54,366.00 L80.05,365.96 L80.57,365.86 L81.08,365.88 L81.59,365.98 L82.11,366.11 L82.62,366.04 L83.13,365.95 L83.65,365.88 L84.16,366.09 L84.67,366.11 L85.19,365.93 L85.70,365.99" fill="none" stroke="#e07080" stroke-width="0.7" stroke-linejoin="round" stroke-dasharray="1.2,0.8"/><path d="M8.70,365.96 L9.21,365.90 L9.73,365.92 L10.24,365.79 L10.75,365.73 L11.27,365.54 L11.78,365.23 L12.29,365.18 L12.81,364.74 L13.32,364.16 L13.83,363.70 L14.35,363.10 L14.86,362.28 L15.37,360.75 L15.89,360.05 L16.40,358.29 L16.91,356.22 L17.43,354.50 L17.94,351.04 L18.45,350.62 L18.97,346.64 L19.48,344.21 L19.99,340.80 L20.51,337.24 L21.02,336.52 L21.53,334.38 L22.05,329.40 L22.56,330.92 L23.07,328.01 L23.59,327.05 L24.10,323.98 L24.61,328.19 L25.13,324.85 L25.64,332.52 L26.15,328.86 L26.67,335.50 L27.18,334.35 L27.69,340.16 L28.21,344.40 L28.72,347.64 L29.23,350.20 L29.75,352.32 L30.26,355.34 L30.77,356.69 L31.29,357.95 L31.80,360.19 L32.31,361.14 L32.83,362.22 L33.34,362.42 L33.85,363.21 L34.37,363.72 L34.88,364.28 L35.39,364.19 L35.91,364.20 L36.42,364.45 L36.93,364.86 L37.45,364.77 L37.96,364.63 L38.47,364.67 L38.99,364.86 L39.50,364.90 L40.01,364.83 L40.53,365.02 L41.04,364.96 L41.55,365.13 L42.07,365.06 L42.58,364.91 L43.09,365.26 L43.61,365.09 L44.12,365.32 L44.63,365.27 L45.15,365.25 L45.66,365.19 L46.17,365.32 L46.69,365.19 L47.20,365.38 L47.71,365.32 L48.23,365.35 L48.74,365.30 L49.25,365.29 L49.77,365.34 L50.28,365.44 L50.79,365.43 L51.31,365.53 L51.82,365.64 L52.33,365.41 L52.85,365.45 L53.36,365.62 L53.87,365.59 L54.39,365.59 L54.90,365.66 L55.41,365.58 L55.93,365.62 L56.44,365.71 L56.95,365.62 L57.47,365.73 L57.98,365.53 L58.49,365.51 L59.01,365.55 L59.52,365.73 L60.03,365.70 L60.55,365.73 L61.06,365.64 L61.57,365.77 L62.09,365.67 L62.60,365.65 L63.11,365.63 L63.63,365.71 L64.14,365.90 L64.65,365.67 L65.17,365.83 L65.68,365.67 L66.19,365.95 L66.71,365.90 L67.22,365.73 L67.73,365.76 L68.25,365.68 L68.76,365.73 L69.27,365.91 L69.79,365.94 L70.30,365.78 L70.81,365.87 L71.33,365.93 L71.84,365.89 L72.35,366.00 L72.87,365.84 L73.38,365.83 L73.89,365.92 L74.41,365.81 L74.92,365.83 L75.43,365.96 L75.95,365.90 L76.46,365.85 L76.97,365.96 L77.49,365.96 L78.00,366.01 L78.51,365.95 L79.03,365.92 L79.54,366.06 L80.05,365.98 L80.57,365.85 L81.08,365.88 L81.59,365.93 L82.11,365.99 L82.62,365.93 L83.13,366.03 L83.65,366.06 L84.16,366.00 L84.67,365.94 L85.19,365.90 L85.70,365.92" fill="none" stroke="#1c24a8" stroke-width="1.05" stroke-linejoin="round"/><path d="M8.70,366.03 L9.21,365.94 L9.73,366.09 L10.24,366.03 L10.75,365.77 L11.27,365.85 L11.78,365.76 L12.29,365.55 L12.81,365.39 L13.32,365.02 L13.83,364.65 L14.35,363.81 L14.86,363.30 L15.37,362.34 L15.89,361.79 L16.40,360.03 L16.91,358.63 L17.43,357.76 L17.94,355.89 L18.45,351.89 L18.97,350.75 L19.48,349.33 L19.99,347.66 L20.51,344.79 L21.02,338.34 L21.53,336.20 L22.05,339.04 L22.56,330.18 L23.07,331.91 L23.59,329.60 L24.10,330.10 L24.61,331.12 L25.13,330.64 L25.64,334.57 L26.15,335.84 L26.67,331.15 L27.18,335.83 L27.69,340.73 L28.21,341.24 L28.72,345.23 L29.23,348.17 L29.75,349.49 L30.26,351.92 L30.77,354.62 L31.29,357.12 L31.80,359.11 L32.31,359.55 L32.83,360.81 L33.34,361.48 L33.85,362.86 L34.37,363.28 L34.88,363.85 L35.39,364.03 L35.91,364.33 L36.42,364.33 L36.93,364.40 L37.45,364.78 L37.96,364.75 L38.47,364.81 L38.99,364.78 L39.50,364.92 L40.01,364.77 L40.53,364.85 L41.04,365.01 L41.55,365.15 L42.07,365.16 L42.58,365.04 L43.09,365.09 L43.61,365.11 L44.12,365.09 L44.63,365.39 L45.15,365.11 L45.66,365.09 L46.17,365.13 L46.69,365.39 L47.20,365.24 L47.71,365.20 L48.23,365.34 L48.74,365.37 L49.25,365.36 L49.77,365.24 L50.28,365.46 L50.79,365.44 L51.31,365.49 L51.82,365.42 L52.33,365.57 L52.85,365.67 L53.36,365.48 L53.87,365.45 L54.39,365.61 L54.90,365.66 L55.41,365.59 L55.93,365.63 L56.44,365.65 L56.95,365.68 L57.47,365.61 L57.98,365.71 L58.49,365.65 L59.01,365.56 L59.52,365.64 L60.03,365.60 L60.55,365.65 L61.06,365.85 L61.57,365.72 L62.09,365.66 L62.60,365.65 L63.11,365.67 L63.63,365.75 L64.14,365.89 L64.65,365.69 L65.17,365.90 L65.68,365.83 L66.19,365.83 L66.71,365.90 L67.22,365.73 L67.73,365.86 L68.25,365.90 L68.76,365.72 L69.27,365.91 L69.79,365.76 L70.30,365.82 L70.81,365.85 L71.33,365.77 L71.84,365.95 L72.35,365.89 L72.87,365.83 L73.38,365.85 L73.89,365.84 L74.41,365.84 L74.92,365.97 L75.43,365.94 L75.95,365.85 L76.46,365.90 L76.97,366.06 L77.49,365.99 L78.00,366.03 L78.51,365.98 L79.03,365.81 L79.54,365.86 L80.05,366.03 L80.57,365.88 L81.08,366.02 L81.59,366.07 L82.11,365.99 L82.62,366.06 L83.13,366.00 L83.65,365.91 L84.16,366.08 L84.67,366.01 L85.19,366.00 L85.70,366.03" fill="none" stroke="#202048" stroke-width="0.6" stroke-linejoin="round"/><rect x="8.20" y="321.10" width="78.00" height="45.50" fill="none" stroke="#a0a0a0" stroke-width="0.8"/><line x1="8.20" y1="321.10" x2="8.20" y2="366.60" stroke="#888" stroke-width="0.8" /><line x1="7.20" y1="366.60" x2="8.20" y2="366.60" stroke="#777" stroke-width="0.4" /><rect x="4.80" y="365.75" width="1.10" height="1.70" fill="#666" /><line x1="7.20" y1="359.13" x2="8.20" y2="359.13" stroke="#777" stroke-width="0.4" /><rect x="4.80" y="358.28" width="1.10" height="1.70" fill="#666" /><line x1="7.20" y1="351.66" x2="8.20" y2="351.66" stroke="#777" stroke-width="0.4" /><rect x="4.80" y="350.81" width="1.10" height="1.70" fill="#666" /><line x1="7.20" y1="344.19" x2="8.20" y2="344.19" stroke="#777" stroke-width="0.4" /><rect x="4.80" y="343.34" width="1.10" height="1.70" fill="#666" /><line x1="7.20" y1="336.72" x2="8.20" y2="336.72" stroke="#777" stroke-width="0.4" /><rect x="4.80" y="335.87" width="1.10" height="1.70" fill="#666" /><line x1="7.20" y1="329.25" x2="8.20" y2="329.25" stroke="#777" stroke-width="0.4" /><rect x="4.80" y="328.40" width="1.10" height="1.70" fill="#666" /><line x1="7.20" y1="321.78" x2="8.20" y2="321.78" stroke="#777" stroke-width="0.4" /><rect x="4.80" y="320.93" width="1.10" height="1.70" fill="#666" /><rect x="2.60" y="341.45" width="0.90" height="4.80" fill="#9a9a9a" /><line x1="8.80" y1="366.60" x2="8.80" y2="367.40" stroke="#777" stroke-width="0.4" /><rect x="7.50" y="367.80" width="2.60" height="1.40" fill="#777" /><line x1="31.80" y1="366.60" x2="31.80" y2="367.40" stroke="#777" stroke-width="0.4" /><rect x="30.50" y="367.80" width="2.60" height="1.40" fill="#777" /><line x1="55.00" y1="366.60" x2="55.00" y2="367.40" stroke="#777" stroke-width="0.4" /><rect x="53.70" y="367.80" width="2.60" height="1.40" fill="#777" /><line x1="78.20" y1="366.60" x2="78.20" y2="367.40" stroke="#777" stroke-width="0.4" /><rect x="76.90" y="367.80" width="2.60" height="1.40" fill="#777" /><rect x="52.60" y="370.80" width="4.80" height="1.30" fill="#9a9a9a" /><text x="53.10" y="331.10" font-size="8.8" fill="#000" stroke="#000" stroke-width="0.38" textLength="21.10" lengthAdjust="spacingAndGlyphs">Sez-4</text><path d="M95.20,365.97 L95.71,366.14 L96.23,366.01 L96.74,366.19 L97.25,365.95 L97.77,366.01 L98.28,366.00 L98.79,366.00 L99.31,366.04 L99.82,365.91 L100.33,365.88 L100.85,365.82 L101.36,365.59 L101.87,365.36 L102.39,364.81 L102.90,364.56 L103.41,363.62 L103.93,362.65 L104.44,361.56 L104.95,360.03 L105.47,358.48 L105.98,355.65 L106.49,355.03 L107.01,353.12 L107.52,350.41 L108.03,346.04 L108.55,345.48 L109.06,339.95 L109.57,341.64 L110.09,336.58 L110.60,336.60 L111.11,335.32 L111.63,334.76 L112.14,335.71 L112.65,337.70 L113.17,341.55 L113.68,344.09 L114.19,345.59 L114.71,349.99 L115.22,353.73 L115.73,354.90 L116.25,357.28 L116.76,359.13 L117.27,360.69 L117.79,362.52 L118.30,363.43 L118.81,364.07 L119.33,364.66 L119.84,364.97 L120.35,365.16 L120.87,365.45 L121.38,365.48 L121.89,365.56 L122.41,365.58 L122.92,365.52 L123.43,365.63 L123.95,365.50 L124.46,365.67 L124.97,365.71 L125.49,365.61 L126.00,365.59 L126.51,365.75 L127.03,365.57 L127.54,365.84 L128.05,365.73 L128.57,365.80 L129.08,365.84 L129.59,365.86 L130.11,365.79 L130.62,365.71 L131.13,365.82 L131.65,365.72 L132.16,365.82 L132.67,365.69 L133.19,365.94 L133.70,365.87 L134.21,365.84 L134.73,365.76 L135.24,365.78 L135.75,365.83 L136.27,365.84 L136.78,365.75 L137.29,365.76 L137.81,365.95 L138.32,365.79 L138.83,365.80 L139.35,365.97 L139.86,366.02 L140.37,365.97 L140.89,366.02 L141.40,365.88 L141.91,366.03 L142.43,365.95 L142.94,365.87 L143.45,365.89 L143.97,365.96 L144.48,365.99 L144.99,365.87 L145.51,365.84 L146.02,365.92 L146.53,366.03 L147.05,365.90 L147.56,365.95 L148.07,365.85 L148.59,366.07 L149.10,366.02 L149.61,365.87 L150.13,366.02 L150.64,365.88 L151.15,365.99 L151.67,365.87 L152.18,365.96 L152.69,366.07 L153.21,366.12 L153.72,365.99 L154.23,365.96 L154.75,365.91 L155.26,366.04 L155.77,365.88 L156.29,365.94 L156.80,366.09 L157.31,366.04 L157.83,365.90 L158.34,366.07 L158.85,366.13 L159.37,366.01 L159.88,366.04 L160.39,366.13 L160.91,366.10 L161.42,366.09 L161.93,366.05 L162.45,366.11 L162.96,366.15 L163.47,366.11 L163.99,366.00 L164.50,366.09 L165.01,365.89 L165.53,366.10 L166.04,365.90 L166.55,366.03 L167.07,366.14 L167.58,365.98 L168.09,366.03 L168.61,366.11 L169.12,365.96 L169.63,365.94 L170.15,366.01 L170.66,366.03 L171.17,366.11 L171.69,366.12 L172.20,366.14" fill="none" stroke="#f0c8a0" stroke-width="0.6" stroke-linejoin="round" stroke-dasharray="1.2,0.8"/><path d="M95.20,366.11 L95.71,365.94 L96.23,365.99 L96.74,366.16 L97.25,366.00 L97.77,366.02 L98.28,366.15 L98.79,366.09 L99.31,365.94 L99.82,366.10 L100.33,365.97 L100.85,365.87 L101.36,365.96 L101.87,365.63 L102.39,365.72 L102.90,365.28 L103.41,364.85 L103.93,364.36 L104.44,363.95 L104.95,362.97 L105.47,361.73 L105.98,360.48 L106.49,358.08 L107.01,355.99 L107.52,355.47 L108.03,352.76 L108.55,350.87 L109.06,346.93 L109.57,342.74 L110.09,341.97 L110.60,342.12 L111.11,337.19 L111.63,337.22 L112.14,337.80 L112.65,338.13 L113.17,339.37 L113.68,339.49 L114.19,344.91 L114.71,346.75 L115.22,347.73 L115.73,351.54 L116.25,353.04 L116.76,356.78 L117.27,357.62 L117.79,360.37 L118.30,360.96 L118.81,362.61 L119.33,363.35 L119.84,363.95 L120.35,364.38 L120.87,365.00 L121.38,365.13 L121.89,365.23 L122.41,365.40 L122.92,365.35 L123.43,365.47 L123.95,365.63 L124.46,365.60 L124.97,365.56 L125.49,365.73 L126.00,365.75 L126.51,365.56 L127.03,365.77 L127.54,365.66 L128.05,365.60 L128.57,365.75 L129.08,365.72 L129.59,365.74 L130.11,365.87 L130.62,365.78 L131.13,365.85 L131.65,365.88 L132.16,365.88 L132.67,365.71 L133.19,365.89 L133.70,365.74 L134.21,365.81 L134.73,365.87 L135.24,365.69 L135.75,365.86 L136.27,365.81 L136.78,365.75 L137.29,365.95 L137.81,365.79 L138.32,365.87 L138.83,365.81 L139.35,365.87 L139.86,365.75 L140.37,365.90 L140.89,365.90 L141.40,365.84 L141.91,365.94 L142.43,365.95 L142.94,365.80 L143.45,365.93 L143.97,365.92 L144.48,365.94 L144.99,365.98 L145.51,366.05 L146.02,365.86 L146.53,365.95 L147.05,365.95 L147.56,365.97 L148.07,365.93 L148.59,365.93 L149.10,365.83 L149.61,365.97 L150.13,366.06 L150.64,365.97 L151.15,366.02 L151.67,365.96 L152.18,365.84 L152.69,365.92 L153.21,365.90 L153.72,366.11 L154.23,365.88 L154.75,366.11 L155.26,366.10 L155.77,365.87 L156.29,365.92 L156.80,366.00 L157.31,366.07 L157.83,365.99 L158.34,365.99 L158.85,365.90 L159.37,366.03 L159.88,365.91 L160.39,365.94 L160.91,366.04 L161.42,366.11 L161.93,366.02 L162.45,366.10 L162.96,366.05 L163.47,366.12 L163.99,365.91 L164.50,366.05 L165.01,366.10 L165.53,365.99 L166.04,365.97 L166.55,365.95 L167.07,366.00 L167.58,366.14 L168.09,366.02 L168.61,366.14 L169.12,365.90 L169.63,365.90 L170.15,366.14 L170.66,366.05 L171.17,365.95 L171.69,366.01 L172.20,366.02" fill="none" stroke="#f0b0b8" stroke-width="0.6" stroke-linejoin="round" stroke-dasharray="1,1"/><path d="M95.20,365.96 L95.71,365.95 L96.23,366.18 L96.74,365.98 L97.25,365.94 L97.77,366.08 L98.28,366.01 L98.79,366.11 L99.31,366.14 L99.82,366.04 L100.33,366.06 L100.85,366.07 L101.36,366.06 L101.87,365.97 L102.39,365.72 L102.90,365.62 L103.41,365.42 L103.93,365.26 L104.44,364.96 L104.95,364.43 L105.47,363.55 L105.98,363.15 L106.49,362.07 L107.01,360.06 L107.52,358.52 L108.03,357.57 L108.55,355.27 L109.06,353.35 L109.57,350.45 L110.09,348.15 L110.60,345.68 L111.11,343.60 L111.63,343.33 L112.14,338.06 L112.65,336.12 L113.17,334.21 L113.68,333.05 L114.19,337.27 L114.71,336.06 L115.22,334.72 L115.73,335.28 L116.25,336.28 L116.76,342.36 L117.27,342.75 L117.79,344.97 L118.30,348.52 L118.81,348.51 L119.33,353.14 L119.84,354.60 L120.35,357.31 L120.87,358.39 L121.38,359.63 L121.89,360.94 L122.41,362.07 L122.92,363.13 L123.43,363.93 L123.95,364.27 L124.46,364.84 L124.97,365.10 L125.49,365.23 L126.00,365.29 L126.51,365.42 L127.03,365.52 L127.54,365.52 L128.05,365.52 L128.57,365.66 L129.08,365.73 L129.59,365.71 L130.11,365.55 L130.62,365.72 L131.13,365.67 L131.65,365.77 L132.16,365.73 L132.67,365.73 L133.19,365.74 L133.70,365.76 L134.21,365.77 L134.73,365.79 L135.24,365.89 L135.75,365.88 L136.27,365.92 L136.78,365.73 L137.29,365.76 L137.81,365.94 L138.32,365.78 L138.83,365.94 L139.35,365.70 L139.86,365.89 L140.37,365.88 L140.89,365.85 L141.40,365.79 L141.91,365.88 L142.43,365.77 L142.94,365.75 L143.45,365.99 L143.97,365.89 L144.48,365.85 L144.99,366.02 L145.51,365.96 L146.02,365.88 L146.53,366.04 L147.05,366.05 L147.56,365.96 L148.07,366.05 L148.59,365.88 L149.10,365.95 L149.61,365.94 L150.13,365.95 L150.64,365.93 L151.15,365.95 L151.67,365.92 L152.18,365.89 L152.69,365.82 L153.21,365.98 L153.72,366.04 L154.23,365.95 L154.75,365.85 L155.26,365.96 L155.77,366.02 L156.29,366.09 L156.80,366.07 L157.31,365.94 L157.83,366.09 L158.34,365.96 L158.85,365.97 L159.37,365.90 L159.88,366.13 L160.39,365.97 L160.91,365.95 L161.42,365.91 L161.93,366.12 L162.45,366.08 L162.96,365.97 L163.47,365.88 L163.99,365.91 L164.50,365.90 L165.01,366.00 L165.53,365.96 L166.04,365.95 L166.55,366.11 L167.07,365.92 L167.58,366.11 L168.09,366.02 L168.61,365.97 L169.12,366.14 L169.63,366.08 L170.15,365.91 L170.66,366.06 L171.17,366.10 L171.69,366.04 L172.20,365.90" fill="none" stroke="#1c24a8" stroke-width="1.05" stroke-linejoin="round"/><path d="M95.20,366.04 L95.71,366.02 L96.23,366.12 L96.74,365.93 L97.25,366.13 L97.77,366.01 L98.28,366.12 L98.79,366.15 L99.31,365.95 L99.82,366.16 L100.33,366.17 L100.85,366.05 L101.36,366.10 L101.87,366.04 L102.39,366.05 L102.90,365.95 L103.41,365.92 L103.93,365.63 L104.44,365.45 L104.95,365.37 L105.47,365.07 L105.98,364.49 L106.49,363.79 L107.01,362.98 L107.52,362.14 L108.03,361.13 L108.55,359.34 L109.06,358.46 L109.57,356.07 L110.09,354.26 L110.60,351.24 L111.11,348.03 L111.63,349.05 L112.14,343.81 L112.65,342.18 L113.17,341.25 L113.68,338.21 L114.19,335.68 L114.71,335.35 L115.22,335.06 L115.73,338.37 L116.25,339.06 L116.76,337.81 L117.27,342.66 L117.79,346.11 L118.30,348.26 L118.81,349.61 L119.33,350.43 L119.84,354.81 L120.35,355.20 L120.87,357.91 L121.38,359.76 L121.89,361.22 L122.41,361.69 L122.92,363.17 L123.43,363.85 L123.95,364.37 L124.46,364.62 L124.97,364.88 L125.49,365.02 L126.00,365.28 L126.51,365.45 L127.03,365.54 L127.54,365.62 L128.05,365.55 L128.57,365.68 L129.08,365.77 L129.59,365.65 L130.11,365.53 L130.62,365.70 L131.13,365.65 L131.65,365.73 L132.16,365.78 L132.67,365.81 L133.19,365.72 L133.70,365.85 L134.21,365.83 L134.73,365.68 L135.24,365.62 L135.75,365.84 L136.27,365.79 L136.78,365.92 L137.29,365.80 L137.81,365.91 L138.32,365.96 L138.83,365.82 L139.35,365.89 L139.86,365.85 L140.37,365.96 L140.89,365.76 L141.40,365.85 L141.91,365.92 L142.43,365.94 L142.94,366.02 L143.45,365.76 L143.97,365.99 L144.48,366.00 L144.99,365.87 L145.51,365.92 L146.02,365.91 L146.53,365.97 L147.05,365.98 L147.56,365.84 L148.07,365.83 L148.59,365.88 L149.10,365.80 L149.61,365.98 L150.13,365.90 L150.64,365.92 L151.15,366.09 L151.67,365.84 L152.18,366.03 L152.69,365.85 L153.21,365.96 L153.72,366.01 L154.23,366.03 L154.75,366.01 L155.26,366.08 L155.77,365.84 L156.29,366.06 L156.80,365.87 L157.31,366.01 L157.83,366.02 L158.34,366.09 L158.85,365.91 L159.37,366.09 L159.88,365.90 L160.39,365.89 L160.91,366.12 L161.42,366.08 L161.93,365.92 L162.45,365.92 L162.96,365.98 L163.47,365.99 L163.99,365.99 L164.50,365.98 L165.01,365.95 L165.53,365.93 L166.04,365.97 L166.55,366.12 L167.07,365.95 L167.58,365.97 L168.09,366.05 L168.61,365.93 L169.12,366.10 L169.63,366.06 L170.15,366.11 L170.66,366.12 L171.17,366.01 L171.69,366.07 L172.20,366.15" fill="none" stroke="#2a2a40" stroke-width="0.6" stroke-linejoin="round"/><rect x="94.70" y="321.10" width="78.00" height="45.50" fill="none" stroke="#a0a0a0" stroke-width="0.8"/><line x1="94.70" y1="321.10" x2="94.70" y2="366.60" stroke="#888" stroke-width="0.8" /><line x1="93.70" y1="366.60" x2="94.70" y2="366.60" stroke="#777" stroke-width="0.4" /><rect x="91.30" y="365.75" width="1.10" height="1.70" fill="#666" /><line x1="93.70" y1="359.13" x2="94.70" y2="359.13" stroke="#777" stroke-width="0.4" /><rect x="91.30" y="358.28" width="1.10" height="1.70" fill="#666" /><line x1="93.70" y1="351.66" x2="94.70" y2="351.66" stroke="#777" stroke-width="0.4" /><rect x="91.30" y="350.81" width="1.10" height="1.70" fill="#666" /><line x1="93.70" y1="344.19" x2="94.70" y2="344.19" stroke="#777" stroke-width="0.4" /><rect x="91.30" y="343.34" width="1.10" height="1.70" fill="#666" /><line x1="93.70" y1="336.72" x2="94.70" y2="336.72" stroke="#777" stroke-width="0.4" /><rect x="91.30" y="335.87" width="1.10" height="1.70" fill="#666" /><line x1="93.70" y1="329.25" x2="94.70" y2="329.25" stroke="#777" stroke-width="0.4" /><rect x="91.30" y="328.40" width="1.10" height="1.70" fill="#666" /><line x1="93.70" y1="321.78" x2="94.70" y2="321.78" stroke="#777" stroke-width="0.4" /><rect x="91.30" y="320.93" width="1.10" height="1.70" fill="#666" /><rect x="89.10" y="341.45" width="0.90" height="4.80" fill="#9a9a9a" /><line x1="95.30" y1="366.60" x2="95.30" y2="367.40" stroke="#777" stroke-width="0.4" /><rect x="94.00" y="367.80" width="2.60" height="1.40" fill="#777" /><line x1="118.30" y1="366.60" x2="118.30" y2="367.40" stroke="#777" stroke-width="0.4" /><rect x="117.00" y="367.80" width="2.60" height="1.40" fill="#777" /><line x1="141.50" y1="366.60" x2="141.50" y2="367.40" stroke="#777" stroke-width="0.4" /><rect x="140.20" y="367.80" width="2.60" height="1.40" fill="#777" /><line x1="164.70" y1="366.60" x2="164.70" y2="367.40" stroke="#777" stroke-width="0.4" /><rect x="163.40" y="367.80" width="2.60" height="1.40" fill="#777" /><rect x="139.10" y="370.80" width="4.80" height="1.30" fill="#9a9a9a" /><text x="149.10" y="331.10" font-size="8.8" fill="#000" stroke="#000" stroke-width="0.38" textLength="19.30" lengthAdjust="spacingAndGlyphs">Seax</text><path d="M181.50,365.98 L182.01,366.10 L182.53,366.15 L183.04,366.14 L183.55,365.97 L184.07,366.14 L184.58,365.93 L185.09,366.08 L185.61,366.01 L186.12,365.87 L186.63,365.94 L187.15,365.55 L187.66,365.42 L188.17,364.76 L188.69,364.22 L189.20,363.25 L189.71,361.60 L190.23,360.34 L190.74,357.77 L191.25,355.68 L191.77,353.21 L192.28,348.54 L192.79,344.07 L193.31,340.86 L193.82,340.34 L194.33,332.68 L194.85,334.27 L195.36,333.12 L195.87,329.35 L196.39,333.32 L196.90,334.91 L197.41,333.62 L197.93,336.09 L198.44,341.30 L198.95,343.51 L199.47,348.87 L199.98,351.86 L200.49,355.20 L201.01,356.16 L201.52,359.41 L202.03,360.44 L202.55,362.22 L203.06,362.94 L203.57,364.02 L204.09,364.03 L204.60,364.62 L205.11,364.86 L205.63,365.04 L206.14,364.92 L206.65,365.00 L207.17,365.25 L207.68,365.22 L208.19,365.06 L208.71,365.25 L209.22,365.19 L209.73,365.34 L210.25,365.24 L210.76,365.26 L211.27,365.36 L211.79,365.42 L212.30,365.30 L212.81,365.40 L213.33,365.47 L213.84,365.38 L214.35,365.50 L214.87,365.44 L215.38,365.39 L215.89,365.47 L216.41,365.49 L216.92,365.44 L217.43,365.62 L217.95,365.49 L218.46,365.68 L218.97,365.57 L219.49,365.49 L220.00,365.64 L220.51,365.45 L221.03,365.67 L221.54,365.54 L222.05,365.66 L222.57,365.80 L223.08,365.63 L223.59,365.81 L224.11,365.55 L224.62,365.83 L225.13,365.70 L225.65,365.70 L226.16,365.62 L226.67,365.64 L227.19,365.84 L227.70,365.61 L228.21,365.78 L228.73,365.85 L229.24,365.66 L229.75,365.69 L230.27,365.77 L230.78,365.84 L231.29,365.82 L231.81,365.84 L232.32,365.84 L232.83,365.86 L233.35,365.80 L233.86,365.75 L234.37,365.87 L234.89,365.99 L235.40,365.81 L235.91,365.85 L236.43,365.80 L236.94,365.85 L237.45,365.87 L237.97,366.03 L238.48,365.83 L238.99,365.96 L239.51,366.02 L240.02,365.93 L240.53,365.86 L241.05,365.97 L241.56,365.99 L242.07,366.00 L242.59,366.02 L243.10,365.84 L243.61,366.00 L244.13,365.83 L244.64,365.86 L245.15,366.08 L245.67,366.00 L246.18,366.06 L246.69,365.92 L247.21,365.89 L247.72,365.85 L248.23,365.93 L248.75,366.02 L249.26,366.03 L249.77,366.02 L250.29,366.07 L250.80,366.03 L251.31,365.85 L251.83,365.99 L252.34,365.90 L252.85,365.95 L253.37,365.96 L253.88,366.09 L254.39,365.94 L254.91,366.06 L255.42,366.05 L255.93,366.08 L256.45,365.96 L256.96,365.91 L257.47,366.11 L257.99,365.92 L258.50,365.89" fill="none" stroke="#1c2498" stroke-width="0.9500000000000001" stroke-linejoin="round"/><path d="M181.50,366.08 L182.01,366.17 L182.53,365.94 L183.04,366.06 L183.55,366.08 L184.07,365.97 L184.58,365.95 L185.09,366.03 L185.61,366.13 L186.12,365.91 L186.63,365.86 L187.15,365.74 L187.66,365.43 L188.17,365.24 L188.69,364.88 L189.20,364.12 L189.71,363.15 L190.23,361.58 L190.74,359.35 L191.25,357.18 L191.77,354.53 L192.28,351.45 L192.79,348.43 L193.31,343.85 L193.82,339.74 L194.33,337.89 L194.85,333.57 L195.36,333.83 L195.87,332.19 L196.39,329.70 L196.90,332.44 L197.41,332.58 L197.93,336.54 L198.44,342.35 L198.95,344.52 L199.47,346.58 L199.98,349.01 L200.49,354.18 L201.01,356.11 L201.52,358.47 L202.03,359.56 L202.55,361.26 L203.06,362.26 L203.57,363.80 L204.09,364.14 L204.60,364.35 L205.11,364.86 L205.63,364.71 L206.14,365.13 L206.65,364.88 L207.17,365.03 L207.68,365.23 L208.19,365.05 L208.71,365.25 L209.22,365.35 L209.73,365.26 L210.25,365.34 L210.76,365.18 L211.27,365.24 L211.79,365.37 L212.30,365.26 L212.81,365.29 L213.33,365.49 L213.84,365.45 L214.35,365.32 L214.87,365.34 L215.38,365.51 L215.89,365.56 L216.41,365.60 L216.92,365.54 L217.43,365.43 L217.95,365.41 L218.46,365.52 L218.97,365.55 L219.49,365.72 L220.00,365.57 L220.51,365.70 L221.03,365.51 L221.54,365.55 L222.05,365.65 L222.57,365.62 L223.08,365.56 L223.59,365.83 L224.11,365.60 L224.62,365.76 L225.13,365.70 L225.65,365.67 L226.16,365.83 L226.67,365.67 L227.19,365.68 L227.70,365.90 L228.21,365.81 L228.73,365.61 L229.24,365.71 L229.75,365.72 L230.27,365.71 L230.78,365.90 L231.29,365.88 L231.81,365.72 L232.32,365.80 L232.83,365.80 L233.35,365.85 L233.86,365.78 L234.37,365.90 L234.89,365.79 L235.40,365.74 L235.91,365.87 L236.43,365.77 L236.94,365.81 L237.45,365.86 L237.97,365.93 L238.48,365.93 L238.99,366.00 L239.51,366.00 L240.02,365.87 L240.53,365.97 L241.05,365.90 L241.56,365.87 L242.07,365.84 L242.59,365.81 L243.10,365.86 L243.61,366.03 L244.13,365.86 L244.64,365.82 L245.15,366.06 L245.67,365.94 L246.18,366.03 L246.69,365.92 L247.21,366.08 L247.72,365.92 L248.23,366.05 L248.75,366.04 L249.26,366.04 L249.77,365.87 L250.29,366.02 L250.80,365.90 L251.31,366.09 L251.83,365.99 L252.34,365.90 L252.85,365.91 L253.37,366.11 L253.88,365.96 L254.39,366.09 L254.91,365.90 L255.42,366.10 L255.93,366.03 L256.45,365.99 L256.96,365.96 L257.47,366.02 L257.99,365.95 L258.50,366.07" fill="none" stroke="#202040" stroke-width="0.6" stroke-linejoin="round"/><rect x="181.00" y="321.10" width="78.00" height="45.50" fill="none" stroke="#a0a0a0" stroke-width="0.8"/><line x1="181.00" y1="321.10" x2="181.00" y2="366.60" stroke="#888" stroke-width="0.8" /><line x1="180.00" y1="366.60" x2="181.00" y2="366.60" stroke="#777" stroke-width="0.4" /><rect x="177.60" y="365.75" width="1.10" height="1.70" fill="#666" /><line x1="180.00" y1="359.13" x2="181.00" y2="359.13" stroke="#777" stroke-width="0.4" /><rect x="177.60" y="358.28" width="1.10" height="1.70" fill="#666" /><line x1="180.00" y1="351.66" x2="181.00" y2="351.66" stroke="#777" stroke-width="0.4" /><rect x="177.60" y="350.81" width="1.10" height="1.70" fill="#666" /><line x1="180.00" y1="344.19" x2="181.00" y2="344.19" stroke="#777" stroke-width="0.4" /><rect x="177.60" y="343.34" width="1.10" height="1.70" fill="#666" /><line x1="180.00" y1="336.72" x2="181.00" y2="336.72" stroke="#777" stroke-width="0.4" /><rect x="177.60" y="335.87" width="1.10" height="1.70" fill="#666" /><line x1="180.00" y1="329.25" x2="181.00" y2="329.25" stroke="#777" stroke-width="0.4" /><rect x="177.60" y="328.40" width="1.10" height="1.70" fill="#666" /><line x1="180.00" y1="321.78" x2="181.00" y2="321.78" stroke="#777" stroke-width="0.4" /><rect x="177.60" y="320.93" width="1.10" height="1.70" fill="#666" /><rect x="175.40" y="341.45" width="0.90" height="4.80" fill="#9a9a9a" /><line x1="181.60" y1="366.60" x2="181.60" y2="367.40" stroke="#777" stroke-width="0.4" /><rect x="180.30" y="367.80" width="2.60" height="1.40" fill="#777" /><line x1="204.60" y1="366.60" x2="204.60" y2="367.40" stroke="#777" stroke-width="0.4" /><rect x="203.30" y="367.80" width="2.60" height="1.40" fill="#777" /><line x1="227.80" y1="366.60" x2="227.80" y2="367.40" stroke="#777" stroke-width="0.4" /><rect x="226.50" y="367.80" width="2.60" height="1.40" fill="#777" /><line x1="251.00" y1="366.60" x2="251.00" y2="367.40" stroke="#777" stroke-width="0.4" /><rect x="249.70" y="367.80" width="2.60" height="1.40" fill="#777" /><rect x="225.40" y="370.80" width="4.80" height="1.30" fill="#9a9a9a" /><text x="215.40" y="331.10" font-size="8.8" fill="#000" stroke="#000" stroke-width="0.38" textLength="40.70" lengthAdjust="spacingAndGlyphs">MyLa2059</text><path d="M267.40,366.10 L267.91,366.13 L268.43,366.13 L268.94,366.18 L269.45,366.12 L269.97,365.98 L270.48,366.16 L270.99,366.06 L271.51,366.04 L272.02,366.13 L272.53,366.06 L273.05,365.95 L273.56,366.08 L274.07,365.94 L274.59,366.15 L275.10,366.14 L275.61,365.97 L276.13,366.11 L276.64,366.16 L277.15,365.94 L277.67,366.19 L278.18,366.15 L278.69,366.12 L279.21,366.04 L279.72,365.98 L280.23,366.03 L280.75,365.78 L281.26,365.58 L281.77,365.17 L282.29,364.80 L282.80,363.61 L283.31,362.93 L283.83,361.70 L284.34,359.57 L284.85,356.38 L285.37,352.99 L285.88,351.33 L286.39,346.82 L286.91,343.82 L287.42,339.41 L287.93,336.90 L288.45,333.78 L288.96,326.59 L289.47,332.34 L289.99,330.07 L290.50,330.64 L291.01,331.30 L291.53,337.64 L292.04,337.22 L292.55,341.80 L293.07,346.50 L293.58,350.66 L294.09,355.25 L294.61,357.91 L295.12,360.09 L295.63,361.79 L296.15,362.48 L296.66,363.30 L297.17,364.26 L297.69,364.42 L298.20,364.94 L298.71,365.23 L299.23,365.16 L299.74,365.31 L300.25,365.16 L300.77,365.39 L301.28,365.43 L301.79,365.44 L302.31,365.38 L302.82,365.26 L303.33,365.43 L303.85,365.38 L304.36,365.36 L304.87,365.36 L305.39,365.64 L305.90,365.56 L306.41,365.51 L306.93,365.61 L307.44,365.51 L307.95,365.68 L308.47,365.50 L308.98,365.48 L309.49,365.76 L310.01,365.53 L310.52,365.55 L311.03,365.53 L311.55,365.80 L312.06,365.79 L312.57,365.77 L313.09,365.72 L313.60,365.58 L314.11,365.61 L314.63,365.74 L315.14,365.77 L315.65,365.79 L316.17,365.63 L316.68,365.86 L317.19,365.78 L317.71,365.80 L318.22,365.87 L318.73,365.76 L319.25,365.80 L319.76,365.95 L320.27,365.88 L320.79,365.94 L321.30,365.75 L321.81,365.85 L322.33,365.76 L322.84,365.91 L323.35,365.92 L323.87,365.83 L324.38,365.76 L324.89,365.95 L325.41,365.99 L325.92,366.01 L326.43,366.02 L326.95,365.81 L327.46,365.84 L327.97,366.02 L328.49,366.02 L329.00,365.78 L329.51,365.96 L330.03,365.88 L330.54,366.02 L331.05,366.03 L331.57,366.06 L332.08,366.04 L332.59,365.99 L333.11,366.05 L333.62,365.96 L334.13,366.07 L334.65,365.85 L335.16,366.00 L335.67,365.95 L336.19,365.92 L336.70,365.92 L337.21,365.95 L337.73,365.84 L338.24,365.92 L338.75,366.00 L339.27,365.97 L339.78,366.09 L340.29,366.10 L340.81,365.93 L341.32,366.07 L341.83,366.11 L342.35,365.87 L342.86,365.89 L343.37,365.87 L343.89,366.11 L344.40,366.14" fill="none" stroke="#1c2498" stroke-width="0.9500000000000001" stroke-linejoin="round"/><path d="M267.40,366.14 L267.91,366.07 L268.43,366.03 L268.94,366.15 L269.45,366.14 L269.97,366.09 L270.48,366.13 L270.99,366.01 L271.51,366.11 L272.02,366.12 L272.53,366.14 L273.05,366.09 L273.56,366.00 L274.07,366.17 L274.59,366.14 L275.10,365.94 L275.61,366.20 L276.13,366.03 L276.64,365.96 L277.15,366.00 L277.67,366.07 L278.18,366.16 L278.69,365.99 L279.21,365.97 L279.72,365.89 L280.23,365.97 L280.75,365.74 L281.26,365.81 L281.77,365.35 L282.29,365.09 L282.80,364.48 L283.31,363.51 L283.83,362.21 L284.34,360.33 L284.85,357.83 L285.37,356.56 L285.88,353.38 L286.39,350.55 L286.91,343.64 L287.42,340.62 L287.93,338.16 L288.45,333.58 L288.96,331.88 L289.47,331.34 L289.99,333.07 L290.50,333.62 L291.01,335.23 L291.53,333.94 L292.04,341.43 L292.55,340.57 L293.07,345.35 L293.58,351.49 L294.09,353.77 L294.61,355.89 L295.12,358.55 L295.63,360.67 L296.15,361.96 L296.66,362.85 L297.17,363.89 L297.69,364.43 L298.20,364.70 L298.71,365.06 L299.23,365.18 L299.74,365.28 L300.25,365.17 L300.77,365.31 L301.28,365.32 L301.79,365.53 L302.31,365.54 L302.82,365.57 L303.33,365.36 L303.85,365.41 L304.36,365.37 L304.87,365.57 L305.39,365.64 L305.90,365.63 L306.41,365.60 L306.93,365.61 L307.44,365.61 L307.95,365.52 L308.47,365.46 L308.98,365.66 L309.49,365.54 L310.01,365.57 L310.52,365.57 L311.03,365.53 L311.55,365.66 L312.06,365.55 L312.57,365.68 L313.09,365.60 L313.60,365.73 L314.11,365.61 L314.63,365.62 L315.14,365.83 L315.65,365.68 L316.17,365.82 L316.68,365.69 L317.19,365.79 L317.71,365.70 L318.22,365.73 L318.73,365.83 L319.25,365.78 L319.76,365.79 L320.27,365.81 L320.79,365.83 L321.30,365.98 L321.81,365.81 L322.33,365.78 L322.84,365.99 L323.35,365.98 L323.87,365.85 L324.38,365.89 L324.89,365.87 L325.41,365.88 L325.92,365.96 L326.43,365.95 L326.95,366.02 L327.46,365.99 L327.97,365.97 L328.49,365.95 L329.00,365.80 L329.51,365.99 L330.03,365.95 L330.54,366.06 L331.05,365.84 L331.57,365.82 L332.08,365.93 L332.59,365.96 L333.11,366.00 L333.62,365.91 L334.13,365.85 L334.65,365.95 L335.16,366.05 L335.67,365.94 L336.19,366.10 L336.70,365.92 L337.21,366.05 L337.73,365.91 L338.24,366.04 L338.75,365.94 L339.27,365.96 L339.78,365.96 L340.29,365.98 L340.81,366.08 L341.32,366.07 L341.83,365.87 L342.35,366.10 L342.86,366.08 L343.37,366.07 L343.89,366.06 L344.40,365.92" fill="none" stroke="#202040" stroke-width="0.6" stroke-linejoin="round"/><rect x="266.90" y="321.10" width="78.00" height="45.50" fill="none" stroke="#a0a0a0" stroke-width="0.8"/><line x1="266.90" y1="321.10" x2="266.90" y2="366.60" stroke="#888" stroke-width="0.8" /><line x1="265.90" y1="366.60" x2="266.90" y2="366.60" stroke="#777" stroke-width="0.4" /><rect x="263.50" y="365.75" width="1.10" height="1.70" fill="#666" /><line x1="265.90" y1="359.13" x2="266.90" y2="359.13" stroke="#777" stroke-width="0.4" /><rect x="263.50" y="358.28" width="1.10" height="1.70" fill="#666" /><line x1="265.90" y1="351.66" x2="266.90" y2="351.66" stroke="#777" stroke-width="0.4" /><rect x="263.50" y="350.81" width="1.10" height="1.70" fill="#666" /><line x1="265.90" y1="344.19" x2="266.90" y2="344.19" stroke="#777" stroke-width="0.4" /><rect x="263.50" y="343.34" width="1.10" height="1.70" fill="#666" /><line x1="265.90" y1="336.72" x2="266.90" y2="336.72" stroke="#777" stroke-width="0.4" /><rect x="263.50" y="335.87" width="1.10" height="1.70" fill="#666" /><line x1="265.90" y1="329.25" x2="266.90" y2="329.25" stroke="#777" stroke-width="0.4" /><rect x="263.50" y="328.40" width="1.10" height="1.70" fill="#666" /><line x1="265.90" y1="321.78" x2="266.90" y2="321.78" stroke="#777" stroke-width="0.4" /><rect x="263.50" y="320.93" width="1.10" height="1.70" fill="#666" /><rect x="261.30" y="341.45" width="0.90" height="4.80" fill="#9a9a9a" /><line x1="267.50" y1="366.60" x2="267.50" y2="367.40" stroke="#777" stroke-width="0.4" /><rect x="266.20" y="367.80" width="2.60" height="1.40" fill="#777" /><line x1="290.50" y1="366.60" x2="290.50" y2="367.40" stroke="#777" stroke-width="0.4" /><rect x="289.20" y="367.80" width="2.60" height="1.40" fill="#777" /><line x1="313.70" y1="366.60" x2="313.70" y2="367.40" stroke="#777" stroke-width="0.4" /><rect x="312.40" y="367.80" width="2.60" height="1.40" fill="#777" /><line x1="336.90" y1="366.60" x2="336.90" y2="367.40" stroke="#777" stroke-width="0.4" /><rect x="335.60" y="367.80" width="2.60" height="1.40" fill="#777" /><rect x="311.30" y="370.80" width="4.80" height="1.30" fill="#9a9a9a" /><text x="301.20" y="331.10" font-size="8.8" fill="#000" stroke="#000" stroke-width="0.38" textLength="40.40" lengthAdjust="spacingAndGlyphs">MyLa3675</text><path d="M352.90,366.01 L353.41,366.00 L353.93,365.98 L354.44,366.11 L354.95,366.05 L355.47,365.92 L355.98,365.99 L356.49,365.87 L357.01,365.88 L357.52,365.74 L358.03,365.59 L358.55,365.33 L359.06,365.02 L359.57,364.50 L360.09,363.90 L360.60,363.80 L361.11,362.61 L361.63,362.09 L362.14,360.43 L362.65,359.26 L363.17,357.61 L363.68,355.33 L364.19,354.52 L364.71,351.24 L365.22,350.37 L365.73,346.48 L366.25,346.16 L366.76,341.34 L367.27,339.56 L367.79,337.76 L368.30,335.89 L368.81,337.23 L369.33,332.23 L369.84,330.20 L370.35,333.64 L370.87,333.03 L371.38,331.68 L371.89,334.70 L372.41,335.57 L372.92,341.46 L373.43,340.90 L373.95,345.23 L374.46,347.10 L374.97,347.37 L375.49,351.37 L376.00,352.89 L376.51,354.52 L377.03,357.21 L377.54,358.23 L378.05,359.99 L378.57,360.83 L379.08,361.69 L379.59,362.59 L380.11,363.39 L380.62,363.72 L381.13,364.20 L381.65,364.40 L382.16,364.64 L382.67,364.70 L383.19,364.87 L383.70,364.98 L384.21,365.09 L384.73,365.05 L385.24,365.11 L385.75,365.32 L386.27,365.02 L386.78,365.02 L387.29,365.34 L387.81,365.22 L388.32,365.18 L388.83,365.22 L389.35,365.32 L389.86,365.28 L390.37,365.36 L390.89,365.36 L391.40,365.44 L391.91,365.32 L392.43,365.58 L392.94,365.49 L393.45,365.44 L393.97,365.54 L394.48,365.60 L394.99,365.34 L395.51,365.61 L396.02,365.67 L396.53,365.38 L397.05,365.61 L397.56,365.49 L398.07,365.47 L398.59,365.47 L399.10,365.56 L399.61,365.50 L400.13,365.70 L400.64,365.62 L401.15,365.56 L401.67,365.60 L402.18,365.82 L402.69,365.85 L403.21,365.68 L403.72,365.57 L404.23,365.79 L404.75,365.80 L405.26,365.86 L405.77,365.68 L406.29,365.75 L406.80,365.75 L407.31,365.74 L407.83,365.82 L408.34,365.92 L408.85,365.81 L409.37,365.78 L409.88,365.71 L410.39,365.91 L410.91,365.85 L411.42,365.98 L411.93,365.70 L412.45,365.94 L412.96,365.85 L413.47,365.75 L413.99,365.82 L414.50,366.02 L415.01,365.84 L415.53,365.91 L416.04,365.90 L416.55,365.86 L417.07,365.98 L417.58,365.94 L418.09,365.93 L418.61,366.06 L419.12,366.02 L419.63,365.81 L420.15,365.87 L420.66,365.91 L421.17,365.82 L421.69,366.06 L422.20,365.81 L422.71,365.89 L423.23,365.83 L423.74,365.89 L424.25,365.98 L424.77,365.97 L425.28,366.03 L425.79,365.97 L426.31,365.92 L426.82,366.03 L427.33,365.87 L427.85,365.89 L428.36,366.03 L428.87,365.96 L429.39,365.86 L429.90,366.08" fill="none" stroke="#8090d0" stroke-width="1.0" stroke-linejoin="round"/><path d="M352.90,365.96 L353.41,366.19 L353.93,366.12 L354.44,365.95 L354.95,366.01 L355.47,366.07 L355.98,366.02 L356.49,365.83 L357.01,366.00 L357.52,365.69 L358.03,365.63 L358.55,365.45 L359.06,365.38 L359.57,365.14 L360.09,364.66 L360.60,364.18 L361.11,363.23 L361.63,362.22 L362.14,361.85 L362.65,360.82 L363.17,359.73 L363.68,356.78 L364.19,356.34 L364.71,352.78 L365.22,352.07 L365.73,349.86 L366.25,344.82 L366.76,340.77 L367.27,342.24 L367.79,335.18 L368.30,333.51 L368.81,334.75 L369.33,330.96 L369.84,328.90 L370.35,329.25 L370.87,332.01 L371.38,328.75 L371.89,333.67 L372.41,332.00 L372.92,335.21 L373.43,337.42 L373.95,336.32 L374.46,341.71 L374.97,342.62 L375.49,348.38 L376.00,350.74 L376.51,352.32 L377.03,353.14 L377.54,356.13 L378.05,358.52 L378.57,358.96 L379.08,360.28 L379.59,361.26 L380.11,362.22 L380.62,363.41 L381.13,363.64 L381.65,364.09 L382.16,364.41 L382.67,364.43 L383.19,364.91 L383.70,364.76 L384.21,364.94 L384.73,365.09 L385.24,364.96 L385.75,365.11 L386.27,365.13 L386.78,365.33 L387.29,365.18 L387.81,365.12 L388.32,365.07 L388.83,365.38 L389.35,365.28 L389.86,365.38 L390.37,365.42 L390.89,365.52 L391.40,365.32 L391.91,365.46 L392.43,365.36 L392.94,365.23 L393.45,365.44 L393.97,365.47 L394.48,365.52 L394.99,365.55 L395.51,365.54 L396.02,365.45 L396.53,365.51 L397.05,365.65 L397.56,365.52 L398.07,365.56 L398.59,365.59 L399.10,365.47 L399.61,365.61 L400.13,365.72 L400.64,365.65 L401.15,365.61 L401.67,365.73 L402.18,365.71 L402.69,365.75 L403.21,365.77 L403.72,365.66 L404.23,365.78 L404.75,365.62 L405.26,365.61 L405.77,365.66 L406.29,365.79 L406.80,365.86 L407.31,365.72 L407.83,365.78 L408.34,365.76 L408.85,365.78 L409.37,365.80 L409.88,365.81 L410.39,365.79 L410.91,365.84 L411.42,365.85 L411.93,365.76 L412.45,365.81 L412.96,365.70 L413.47,365.91 L413.99,365.93 L414.50,365.94 L415.01,365.85 L415.53,365.96 L416.04,365.90 L416.55,365.94 L417.07,365.98 L417.58,365.75 L418.09,365.85 L418.61,365.97 L419.12,365.89 L419.63,365.95 L420.15,366.04 L420.66,365.87 L421.17,365.87 L421.69,366.05 L422.20,365.84 L422.71,366.03 L423.23,365.88 L423.74,365.85 L424.25,366.05 L424.77,366.01 L425.28,365.89 L425.79,365.95 L426.31,365.89 L426.82,365.90 L427.33,365.95 L427.85,365.91 L428.36,366.04 L428.87,365.98 L429.39,365.95 L429.90,365.87" fill="none" stroke="#1c2498" stroke-width="1.0" stroke-linejoin="round"/><path d="M352.90,366.17 L353.41,366.13 L353.93,366.15 L354.44,366.00 L354.95,366.16 L355.47,365.92 L355.98,366.12 L356.49,365.86 L357.01,366.04 L357.52,365.73 L358.03,365.83 L358.55,365.54 L359.06,365.38 L359.57,365.16 L360.09,364.72 L360.60,364.60 L361.11,363.58 L361.63,363.63 L362.14,362.67 L362.65,361.72 L363.17,359.95 L363.68,358.78 L364.19,357.77 L364.71,355.53 L365.22,354.25 L365.73,351.71 L366.25,349.93 L366.76,344.44 L367.27,345.32 L367.79,343.40 L368.30,339.91 L368.81,339.56 L369.33,338.38 L369.84,329.50 L370.35,332.80 L370.87,334.03 L371.38,332.55 L371.89,336.07 L372.41,329.31 L372.92,334.81 L373.43,339.32 L373.95,339.50 L374.46,338.62 L374.97,342.71 L375.49,347.86 L376.00,348.14 L376.51,350.09 L377.03,352.38 L377.54,356.63 L378.05,356.69 L378.57,359.11 L379.08,360.12 L379.59,361.57 L380.11,362.43 L380.62,363.36 L381.13,363.35 L381.65,363.95 L382.16,364.54 L382.67,364.27 L383.19,364.46 L383.70,364.84 L384.21,364.69 L384.73,364.92 L385.24,364.81 L385.75,365.10 L386.27,365.13 L386.78,365.06 L387.29,364.98 L387.81,365.09 L388.32,365.22 L388.83,365.26 L389.35,365.31 L389.86,365.36 L390.37,365.31 L390.89,365.36 L391.40,365.31 L391.91,365.22 L392.43,365.53 L392.94,365.29 L393.45,365.39 L393.97,365.33 L394.48,365.60 L394.99,365.31 L395.51,365.33 L396.02,365.53 L396.53,365.60 L397.05,365.65 L397.56,365.49 L398.07,365.52 L398.59,365.43 L399.10,365.62 L399.61,365.71 L400.13,365.68 L400.64,365.78 L401.15,365.55 L401.67,365.76 L402.18,365.75 L402.69,365.77 L403.21,365.61 L403.72,365.73 L404.23,365.71 L404.75,365.85 L405.26,365.81 L405.77,365.73 L406.29,365.85 L406.80,365.60 L407.31,365.84 L407.83,365.75 L408.34,365.75 L408.85,365.67 L409.37,365.78 L409.88,365.95 L410.39,365.83 L410.91,365.76 L411.42,365.75 L411.93,365.80 L412.45,365.86 L412.96,365.84 L413.47,365.88 L413.99,365.96 L414.50,365.75 L415.01,365.93 L415.53,365.94 L416.04,365.94 L416.55,365.90 L417.07,365.81 L417.58,365.92 L418.09,365.94 L418.61,366.01 L419.12,365.99 L419.63,365.94 L420.15,365.85 L420.66,365.83 L421.17,365.96 L421.69,365.83 L422.20,366.06 L422.71,366.02 L423.23,365.91 L423.74,365.92 L424.25,366.03 L424.77,365.95 L425.28,365.86 L425.79,365.98 L426.31,365.89 L426.82,365.87 L427.33,365.85 L427.85,365.95 L428.36,365.94 L428.87,366.08 L429.39,366.00 L429.90,366.03" fill="none" stroke="#202040" stroke-width="0.6" stroke-linejoin="round"/><rect x="352.40" y="321.10" width="78.00" height="45.50" fill="none" stroke="#a0a0a0" stroke-width="0.8"/><line x1="352.40" y1="321.10" x2="352.40" y2="366.60" stroke="#888" stroke-width="0.8" /><line x1="351.40" y1="366.60" x2="352.40" y2="366.60" stroke="#777" stroke-width="0.4" /><rect x="349.00" y="365.75" width="1.10" height="1.70" fill="#666" /><line x1="351.40" y1="359.13" x2="352.40" y2="359.13" stroke="#777" stroke-width="0.4" /><rect x="349.00" y="358.28" width="1.10" height="1.70" fill="#666" /><line x1="351.40" y1="351.66" x2="352.40" y2="351.66" stroke="#777" stroke-width="0.4" /><rect x="349.00" y="350.81" width="1.10" height="1.70" fill="#666" /><line x1="351.40" y1="344.19" x2="352.40" y2="344.19" stroke="#777" stroke-width="0.4" /><rect x="349.00" y="343.34" width="1.10" height="1.70" fill="#666" /><line x1="351.40" y1="336.72" x2="352.40" y2="336.72" stroke="#777" stroke-width="0.4" /><rect x="349.00" y="335.87" width="1.10" height="1.70" fill="#666" /><line x1="351.40" y1="329.25" x2="352.40" y2="329.25" stroke="#777" stroke-width="0.4" /><rect x="349.00" y="328.40" width="1.10" height="1.70" fill="#666" /><line x1="351.40" y1="321.78" x2="352.40" y2="321.78" stroke="#777" stroke-width="0.4" /><rect x="349.00" y="320.93" width="1.10" height="1.70" fill="#666" /><rect x="346.80" y="341.45" width="0.90" height="4.80" fill="#9a9a9a" /><line x1="353.00" y1="366.60" x2="353.00" y2="367.40" stroke="#777" stroke-width="0.4" /><rect x="351.70" y="367.80" width="2.60" height="1.40" fill="#777" /><line x1="376.00" y1="366.60" x2="376.00" y2="367.40" stroke="#777" stroke-width="0.4" /><rect x="374.70" y="367.80" width="2.60" height="1.40" fill="#777" /><line x1="399.20" y1="366.60" x2="399.20" y2="367.40" stroke="#777" stroke-width="0.4" /><rect x="397.90" y="367.80" width="2.60" height="1.40" fill="#777" /><line x1="422.40" y1="366.60" x2="422.40" y2="367.40" stroke="#777" stroke-width="0.4" /><rect x="421.10" y="367.80" width="2.60" height="1.40" fill="#777" /><rect x="396.80" y="370.80" width="4.80" height="1.30" fill="#9a9a9a" /><text x="408.40" y="331.10" font-size="8.8" fill="#000" stroke="#000" stroke-width="0.38" textLength="17.50" lengthAdjust="spacingAndGlyphs">PB-1</text><path d="M439.50,365.18 L440.01,365.10 L440.53,364.41 L441.04,363.95 L441.55,363.58 L442.07,363.11 L442.58,362.80 L443.09,361.18 L443.61,360.07 L444.12,359.53 L444.63,357.73 L445.15,356.18 L445.66,354.74 L446.17,352.99 L446.69,351.29 L447.20,349.50 L447.71,346.51 L448.23,345.57 L448.74,342.32 L449.25,342.25 L449.77,339.75 L450.28,339.46 L450.79,333.19 L451.31,332.12 L451.82,331.52 L452.33,333.01 L452.85,329.84 L453.36,331.75 L453.87,330.00 L454.39,333.64 L454.90,330.59 L455.41,334.99 L455.93,331.80 L456.44,338.38 L456.95,340.71 L457.47,343.97 L457.98,347.62 L458.49,350.14 L459.01,353.07 L459.52,353.56 L460.03,355.90 L460.55,358.44 L461.06,360.30 L461.57,361.21 L462.09,361.94 L462.60,363.10 L463.11,363.77 L463.63,364.24 L464.14,364.70 L464.65,364.48 L465.17,364.78 L465.68,365.11 L466.19,365.11 L466.71,365.09 L467.22,365.00 L467.73,365.41 L468.25,365.11 L468.76,365.20 L469.27,365.25 L469.79,365.30 L470.30,365.21 L470.81,365.24 L471.33,365.42 L471.84,365.41 L472.35,365.44 L472.87,365.41 L473.38,365.48 L473.89,365.38 L474.41,365.51 L474.92,365.49 L475.43,365.71 L475.95,365.40 L476.46,365.54 L476.97,365.58 L477.49,365.59 L478.00,365.63 L478.51,365.56 L479.03,365.68 L479.54,365.58 L480.05,365.75 L480.57,365.59 L481.08,365.67 L481.59,365.78 L482.11,365.56 L482.62,365.72 L483.13,365.69 L483.65,365.67 L484.16,365.72 L484.67,365.63 L485.19,365.66 L485.70,365.63 L486.21,365.66 L486.73,365.76 L487.24,365.71 L487.75,365.76 L488.27,365.68 L488.78,365.76 L489.29,365.97 L489.81,365.75 L490.32,365.81 L490.83,365.81 L491.35,365.87 L491.86,365.96 L492.37,365.93 L492.89,365.83 L493.40,365.75 L493.91,365.85 L494.43,365.81 L494.94,365.85 L495.45,365.96 L495.97,365.76 L496.48,365.96 L496.99,365.87 L497.51,365.99 L498.02,366.01 L498.53,366.02 L499.05,365.91 L499.56,365.96 L500.07,366.01 L500.59,366.01 L501.10,366.05 L501.61,365.91 L502.13,365.96 L502.64,365.90 L503.15,365.99 L503.67,365.95 L504.18,366.03 L504.69,365.99 L505.21,365.92 L505.72,366.08 L506.23,365.91 L506.75,366.08 L507.26,365.95 L507.77,366.08 L508.29,366.10 L508.80,365.91 L509.31,366.08 L509.83,366.13 L510.34,365.99 L510.85,366.12 L511.37,365.90 L511.88,365.93 L512.39,366.10 L512.91,366.03 L513.42,366.01 L513.93,365.93 L514.45,365.97 L514.96,366.07 L515.47,366.12 L515.99,366.13 L516.50,366.13" fill="none" stroke="#1c2498" stroke-width="0.9500000000000001" stroke-linejoin="round"/><path d="M439.50,365.27 L440.01,365.21 L440.53,364.75 L441.04,364.52 L441.55,364.22 L442.07,363.45 L442.58,362.96 L443.09,362.36 L443.61,361.74 L444.12,360.43 L444.63,358.98 L445.15,357.91 L445.66,356.92 L446.17,355.43 L446.69,353.93 L447.20,351.30 L447.71,350.33 L448.23,347.62 L448.74,344.99 L449.25,344.78 L449.77,341.61 L450.28,340.74 L450.79,339.24 L451.31,334.04 L451.82,336.70 L452.33,332.62 L452.85,336.28 L453.36,334.66 L453.87,333.86 L454.39,335.08 L454.90,332.47 L455.41,332.66 L455.93,335.22 L456.44,334.76 L456.95,339.37 L457.47,341.78 L457.98,346.09 L458.49,347.31 L459.01,351.97 L459.52,353.58 L460.03,355.32 L460.55,358.19 L461.06,359.72 L461.57,361.05 L462.09,361.59 L462.60,363.17 L463.11,363.68 L463.63,363.95 L464.14,364.31 L464.65,364.66 L465.17,364.80 L465.68,365.01 L466.19,365.16 L466.71,365.15 L467.22,365.14 L467.73,365.37 L468.25,365.22 L468.76,365.24 L469.27,365.24 L469.79,365.34 L470.30,365.38 L470.81,365.33 L471.33,365.33 L471.84,365.53 L472.35,365.49 L472.87,365.38 L473.38,365.51 L473.89,365.51 L474.41,365.44 L474.92,365.38 L475.43,365.54 L475.95,365.68 L476.46,365.58 L476.97,365.55 L477.49,365.55 L478.00,365.66 L478.51,365.53 L479.03,365.64 L479.54,365.72 L480.05,365.73 L480.57,365.66 L481.08,365.69 L481.59,365.57 L482.11,365.67 L482.62,365.64 L483.13,365.77 L483.65,365.84 L484.16,365.71 L484.67,365.83 L485.19,365.87 L485.70,365.64 L486.21,365.79 L486.73,365.85 L487.24,365.94 L487.75,365.84 L488.27,365.78 L488.78,365.81 L489.29,365.78 L489.81,365.92 L490.32,365.80 L490.83,365.75 L491.35,365.78 L491.86,365.79 L492.37,365.96 L492.89,365.94 L493.40,365.80 L493.91,365.92 L494.43,365.90 L494.94,365.91 L495.45,365.93 L495.97,365.96 L496.48,365.92 L496.99,365.97 L497.51,365.86 L498.02,366.02 L498.53,366.04 L499.05,366.01 L499.56,365.92 L500.07,365.99 L500.59,366.02 L501.10,365.90 L501.61,366.00 L502.13,366.04 L502.64,365.98 L503.15,366.08 L503.67,366.06 L504.18,365.86 L504.69,365.90 L505.21,365.92 L505.72,366.10 L506.23,365.92 L506.75,366.07 L507.26,366.09 L507.77,366.04 L508.29,365.93 L508.80,366.01 L509.31,366.09 L509.83,366.11 L510.34,366.06 L510.85,366.08 L511.37,365.99 L511.88,365.91 L512.39,366.12 L512.91,365.91 L513.42,366.01 L513.93,366.03 L514.45,366.10 L514.96,365.93 L515.47,365.89 L515.99,366.07 L516.50,366.07" fill="none" stroke="#202040" stroke-width="0.6" stroke-linejoin="round"/><rect x="439.00" y="321.10" width="78.00" height="45.50" fill="none" stroke="#a0a0a0" stroke-width="0.8"/><line x1="439.00" y1="321.10" x2="439.00" y2="366.60" stroke="#888" stroke-width="0.8" /><line x1="438.00" y1="366.60" x2="439.00" y2="366.60" stroke="#777" stroke-width="0.4" /><rect x="435.60" y="365.75" width="1.10" height="1.70" fill="#666" /><line x1="438.00" y1="359.13" x2="439.00" y2="359.13" stroke="#777" stroke-width="0.4" /><rect x="435.60" y="358.28" width="1.10" height="1.70" fill="#666" /><line x1="438.00" y1="351.66" x2="439.00" y2="351.66" stroke="#777" stroke-width="0.4" /><rect x="435.60" y="350.81" width="1.10" height="1.70" fill="#666" /><line x1="438.00" y1="344.19" x2="439.00" y2="344.19" stroke="#777" stroke-width="0.4" /><rect x="435.60" y="343.34" width="1.10" height="1.70" fill="#666" /><line x1="438.00" y1="336.72" x2="439.00" y2="336.72" stroke="#777" stroke-width="0.4" /><rect x="435.60" y="335.87" width="1.10" height="1.70" fill="#666" /><line x1="438.00" y1="329.25" x2="439.00" y2="329.25" stroke="#777" stroke-width="0.4" /><rect x="435.60" y="328.40" width="1.10" height="1.70" fill="#666" /><line x1="438.00" y1="321.78" x2="439.00" y2="321.78" stroke="#777" stroke-width="0.4" /><rect x="435.60" y="320.93" width="1.10" height="1.70" fill="#666" /><rect x="433.40" y="341.45" width="0.90" height="4.80" fill="#9a9a9a" /><line x1="439.60" y1="366.60" x2="439.60" y2="367.40" stroke="#777" stroke-width="0.4" /><rect x="438.30" y="367.80" width="2.60" height="1.40" fill="#777" /><line x1="462.60" y1="366.60" x2="462.60" y2="367.40" stroke="#777" stroke-width="0.4" /><rect x="461.30" y="367.80" width="2.60" height="1.40" fill="#777" /><line x1="485.80" y1="366.60" x2="485.80" y2="367.40" stroke="#777" stroke-width="0.4" /><rect x="484.50" y="367.80" width="2.60" height="1.40" fill="#777" /><line x1="509.00" y1="366.60" x2="509.00" y2="367.40" stroke="#777" stroke-width="0.4" /><rect x="507.70" y="367.80" width="2.60" height="1.40" fill="#777" /><rect x="483.40" y="370.80" width="4.80" height="1.30" fill="#9a9a9a" /><text x="502.10" y="331.10" font-size="8.8" fill="#000" stroke="#000" stroke-width="0.38" textLength="10.40" lengthAdjust="spacingAndGlyphs">2B</text><path d="M8.70,420.53 L9.21,420.45 L9.73,420.37 L10.24,420.09 L10.75,419.86 L11.27,419.62 L11.78,419.40 L12.29,418.88 L12.81,418.43 L13.32,417.32 L13.83,416.26 L14.35,415.37 L14.86,413.22 L15.37,413.19 L15.89,409.68 L16.40,410.14 L16.91,407.16 L17.43,405.32 L17.94,401.69 L18.45,398.65 L18.97,400.38 L19.48,393.26 L19.99,395.09 L20.51,390.09 L21.02,390.53 L21.53,389.37 L22.05,391.31 L22.56,390.11 L23.07,389.15 L23.59,392.86 L24.10,396.69 L24.61,393.02 L25.13,399.79 L25.64,398.91 L26.15,402.37 L26.67,404.58 L27.18,405.87 L27.69,406.38 L28.21,409.56 L28.72,410.98 L29.23,411.83 L29.75,414.32 L30.26,415.09 L30.77,416.28 L31.29,416.55 L31.80,417.99 L32.31,418.12 L32.83,418.60 L33.34,418.93 L33.85,419.30 L34.37,419.34 L34.88,419.47 L35.39,419.80 L35.91,419.92 L36.42,419.94 L36.93,419.95 L37.45,420.04 L37.96,419.97 L38.47,419.90 L38.99,420.01 L39.50,420.04 L40.01,420.05 L40.53,420.03 L41.04,420.17 L41.55,420.04 L42.07,420.10 L42.58,420.12 L43.09,420.17 L43.61,420.25 L44.12,420.19 L44.63,420.22 L45.15,420.13 L45.66,420.26 L46.17,420.08 L46.69,420.10 L47.20,420.24 L47.71,420.37 L48.23,420.17 L48.74,420.22 L49.25,420.18 L49.77,420.18 L50.28,420.28 L50.79,420.27 L51.31,420.22 L51.82,420.18 L52.33,420.28 L52.85,420.33 L53.36,420.44 L53.87,420.44 L54.39,420.39 L54.90,420.24 L55.41,420.34 L55.93,420.35 L56.44,420.50 L56.95,420.50 L57.47,420.33 L57.98,420.32 L58.49,420.41 L59.01,420.40 L59.52,420.28 L60.03,420.39 L60.55,420.50 L61.06,420.49 L61.57,420.52 L62.09,420.37 L62.60,420.43 L63.11,420.40 L63.63,420.50 L64.14,420.44 L64.65,420.51 L65.17,420.43 L65.68,420.38 L66.19,420.40 L66.71,420.57 L67.22,420.54 L67.73,420.50 L68.25,420.48 L68.76,420.47 L69.27,420.54 L69.79,420.54 L70.30,420.60 L70.81,420.60 L71.33,420.44 L71.84,420.43 L72.35,420.56 L72.87,420.43 L73.38,420.45 L73.89,420.45 L74.41,420.40 L74.92,420.50 L75.43,420.54 L75.95,420.37 L76.46,420.55 L76.97,420.55 L77.49,420.39 L78.00,420.62 L78.51,420.63 L79.03,420.53 L79.54,420.50 L80.05,420.61 L80.57,420.42 L81.08,420.47 L81.59,420.59 L82.11,420.42 L82.62,420.55 L83.13,420.43 L83.65,420.50 L84.16,420.48 L84.67,420.39 L85.19,420.41 L85.70,420.50" fill="none" stroke="#1c2498" stroke-width="0.9500000000000001" stroke-linejoin="round"/><path d="M8.70,420.55 L9.21,420.47 L9.73,420.39 L10.24,420.19 L10.75,420.07 L11.27,419.89 L11.78,419.51 L12.29,419.40 L12.81,419.03 L13.32,417.87 L13.83,417.48 L14.35,416.86 L14.86,415.87 L15.37,413.78 L15.89,412.10 L16.40,411.93 L16.91,407.96 L17.43,408.52 L17.94,406.57 L18.45,400.86 L18.97,401.16 L19.48,400.15 L19.99,395.22 L20.51,397.67 L21.02,393.86 L21.53,390.80 L22.05,395.47 L22.56,390.38 L23.07,394.99 L23.59,391.44 L24.10,394.16 L24.61,398.18 L25.13,398.05 L25.64,401.42 L26.15,402.66 L26.67,401.95 L27.18,406.48 L27.69,407.99 L28.21,408.93 L28.72,410.25 L29.23,412.37 L29.75,413.96 L30.26,414.43 L30.77,416.27 L31.29,416.64 L31.80,417.73 L32.31,417.64 L32.83,418.69 L33.34,418.82 L33.85,419.19 L34.37,419.16 L34.88,419.33 L35.39,419.61 L35.91,419.68 L36.42,419.78 L36.93,419.93 L37.45,419.95 L37.96,420.04 L38.47,419.92 L38.99,420.00 L39.50,419.95 L40.01,420.08 L40.53,420.09 L41.04,420.08 L41.55,420.14 L42.07,420.23 L42.58,420.11 L43.09,420.14 L43.61,420.08 L44.12,420.13 L44.63,420.17 L45.15,420.27 L45.66,420.03 L46.17,420.36 L46.69,420.13 L47.20,420.16 L47.71,420.10 L48.23,420.21 L48.74,420.19 L49.25,420.30 L49.77,420.33 L50.28,420.26 L50.79,420.39 L51.31,420.30 L51.82,420.41 L52.33,420.38 L52.85,420.26 L53.36,420.41 L53.87,420.33 L54.39,420.34 L54.90,420.36 L55.41,420.49 L55.93,420.27 L56.44,420.39 L56.95,420.29 L57.47,420.48 L57.98,420.27 L58.49,420.42 L59.01,420.28 L59.52,420.51 L60.03,420.43 L60.55,420.30 L61.06,420.40 L61.57,420.39 L62.09,420.30 L62.60,420.50 L63.11,420.33 L63.63,420.55 L64.14,420.55 L64.65,420.31 L65.17,420.54 L65.68,420.46 L66.19,420.46 L66.71,420.57 L67.22,420.49 L67.73,420.52 L68.25,420.43 L68.76,420.37 L69.27,420.41 L69.79,420.56 L70.30,420.48 L70.81,420.35 L71.33,420.50 L71.84,420.37 L72.35,420.37 L72.87,420.54 L73.38,420.39 L73.89,420.38 L74.41,420.47 L74.92,420.40 L75.43,420.37 L75.95,420.40 L76.46,420.39 L76.97,420.48 L77.49,420.38 L78.00,420.43 L78.51,420.56 L79.03,420.64 L79.54,420.53 L80.05,420.48 L80.57,420.51 L81.08,420.44 L81.59,420.48 L82.11,420.54 L82.62,420.64 L83.13,420.47 L83.65,420.63 L84.16,420.65 L84.67,420.54 L85.19,420.61 L85.70,420.63" fill="none" stroke="#2a2a48" stroke-width="0.6" stroke-linejoin="round"/><rect x="8.20" y="375.60" width="78.00" height="45.50" fill="none" stroke="#a0a0a0" stroke-width="0.8"/><line x1="8.20" y1="375.60" x2="8.20" y2="421.10" stroke="#888" stroke-width="0.8" /><line x1="7.20" y1="421.10" x2="8.20" y2="421.10" stroke="#777" stroke-width="0.4" /><rect x="4.80" y="420.25" width="1.10" height="1.70" fill="#666" /><line x1="7.20" y1="413.63" x2="8.20" y2="413.63" stroke="#777" stroke-width="0.4" /><rect x="4.80" y="412.78" width="1.10" height="1.70" fill="#666" /><line x1="7.20" y1="406.16" x2="8.20" y2="406.16" stroke="#777" stroke-width="0.4" /><rect x="4.80" y="405.31" width="1.10" height="1.70" fill="#666" /><line x1="7.20" y1="398.69" x2="8.20" y2="398.69" stroke="#777" stroke-width="0.4" /><rect x="4.80" y="397.84" width="1.10" height="1.70" fill="#666" /><line x1="7.20" y1="391.22" x2="8.20" y2="391.22" stroke="#777" stroke-width="0.4" /><rect x="4.80" y="390.37" width="1.10" height="1.70" fill="#666" /><line x1="7.20" y1="383.75" x2="8.20" y2="383.75" stroke="#777" stroke-width="0.4" /><rect x="4.80" y="382.90" width="1.10" height="1.70" fill="#666" /><line x1="7.20" y1="376.28" x2="8.20" y2="376.28" stroke="#777" stroke-width="0.4" /><rect x="4.80" y="375.43" width="1.10" height="1.70" fill="#666" /><rect x="2.60" y="395.95" width="0.90" height="4.80" fill="#9a9a9a" /><line x1="8.80" y1="421.10" x2="8.80" y2="421.90" stroke="#777" stroke-width="0.4" /><rect x="7.50" y="422.30" width="2.60" height="1.40" fill="#777" /><line x1="31.80" y1="421.10" x2="31.80" y2="421.90" stroke="#777" stroke-width="0.4" /><rect x="30.50" y="422.30" width="2.60" height="1.40" fill="#777" /><line x1="55.00" y1="421.10" x2="55.00" y2="421.90" stroke="#777" stroke-width="0.4" /><rect x="53.70" y="422.30" width="2.60" height="1.40" fill="#777" /><line x1="78.20" y1="421.10" x2="78.20" y2="421.90" stroke="#777" stroke-width="0.4" /><rect x="76.90" y="422.30" width="2.60" height="1.40" fill="#777" /><rect x="52.60" y="425.30" width="4.80" height="1.30" fill="#9a9a9a" /><text x="39.10" y="384.50" font-size="8.8" fill="#000" stroke="#000" stroke-width="0.38" textLength="35.50" lengthAdjust="spacingAndGlyphs">SUDHL-1</text><path d="M95.20,420.65 L95.71,420.56 L96.23,420.55 L96.74,420.68 L97.25,420.44 L97.77,420.63 L98.28,420.64 L98.79,420.58 L99.31,420.57 L99.82,420.49 L100.33,420.62 L100.85,420.38 L101.36,420.44 L101.87,420.47 L102.39,420.13 L102.90,420.07 L103.41,419.72 L103.93,419.63 L104.44,419.15 L104.95,418.48 L105.47,417.45 L105.98,416.30 L106.49,414.75 L107.01,412.27 L107.52,410.55 L108.03,408.38 L108.55,404.04 L109.06,404.41 L109.57,397.73 L110.09,396.09 L110.60,395.56 L111.11,392.91 L111.63,385.87 L112.14,386.59 L112.65,386.33 L113.17,382.46 L113.68,386.66 L114.19,388.35 L114.71,385.77 L115.22,392.84 L115.73,395.33 L116.25,393.99 L116.76,397.03 L117.27,402.64 L117.79,405.51 L118.30,405.80 L118.81,409.42 L119.33,411.17 L119.84,413.61 L120.35,415.12 L120.87,415.85 L121.38,416.43 L121.89,417.75 L122.41,418.30 L122.92,418.27 L123.43,419.01 L123.95,419.00 L124.46,419.32 L124.97,419.37 L125.49,419.32 L126.00,419.36 L126.51,419.58 L127.03,419.39 L127.54,419.63 L128.05,419.61 L128.57,419.46 L129.08,419.56 L129.59,419.60 L130.11,419.67 L130.62,419.86 L131.13,419.75 L131.65,419.81 L132.16,419.85 L132.67,419.91 L133.19,419.91 L133.70,419.86 L134.21,419.76 L134.73,419.82 L135.24,419.90 L135.75,419.89 L136.27,419.84 L136.78,419.97 L137.29,420.01 L137.81,420.03 L138.32,419.91 L138.83,420.09 L139.35,419.97 L139.86,420.02 L140.37,420.18 L140.89,419.94 L141.40,420.05 L141.91,420.18 L142.43,420.05 L142.94,420.06 L143.45,420.07 L143.97,420.05 L144.48,420.07 L144.99,420.21 L145.51,420.27 L146.02,420.29 L146.53,420.16 L147.05,420.37 L147.56,420.14 L148.07,420.15 L148.59,420.19 L149.10,420.33 L149.61,420.39 L150.13,420.17 L150.64,420.35 L151.15,420.35 L151.67,420.19 L152.18,420.40 L152.69,420.37 L153.21,420.40 L153.72,420.38 L154.23,420.34 L154.75,420.49 L155.26,420.41 L155.77,420.29 L156.29,420.36 L156.80,420.47 L157.31,420.32 L157.83,420.35 L158.34,420.50 L158.85,420.30 L159.37,420.27 L159.88,420.46 L160.39,420.29 L160.91,420.32 L161.42,420.36 L161.93,420.43 L162.45,420.31 L162.96,420.42 L163.47,420.30 L163.99,420.34 L164.50,420.43 L165.01,420.32 L165.53,420.50 L166.04,420.50 L166.55,420.35 L167.07,420.35 L167.58,420.42 L168.09,420.50 L168.61,420.50 L169.12,420.50 L169.63,420.50 L170.15,420.48 L170.66,420.52 L171.17,420.56 L171.69,420.46 L172.20,420.58" fill="none" stroke="#e07080" stroke-width="0.6" stroke-linejoin="round" stroke-dasharray="1,1"/><path d="M95.20,420.65 L95.71,420.53 L96.23,420.45 L96.74,420.49 L97.25,420.63 L97.77,420.50 L98.28,420.51 L98.79,420.66 L99.31,420.63 L99.82,420.54 L100.33,420.61 L100.85,420.44 L101.36,420.37 L101.87,420.43 L102.39,420.24 L102.90,420.20 L103.41,419.85 L103.93,419.72 L104.44,419.39 L104.95,418.66 L105.47,417.92 L105.98,416.93 L106.49,415.71 L107.01,413.87 L107.52,411.37 L108.03,409.86 L108.55,407.69 L109.06,404.41 L109.57,402.61 L110.09,398.21 L110.60,396.92 L111.11,389.97 L111.63,388.69 L112.14,389.74 L112.65,387.23 L113.17,382.80 L113.68,380.84 L114.19,384.24 L114.71,382.24 L115.22,386.93 L115.73,385.75 L116.25,388.26 L116.76,392.18 L117.27,396.58 L117.79,397.59 L118.30,401.99 L118.81,405.48 L119.33,406.51 L119.84,410.36 L120.35,411.71 L120.87,412.70 L121.38,414.93 L121.89,415.62 L122.41,416.47 L122.92,417.48 L123.43,418.23 L123.95,418.40 L124.46,418.90 L124.97,418.76 L125.49,418.97 L126.00,419.25 L126.51,419.42 L127.03,419.59 L127.54,419.43 L128.05,419.60 L128.57,419.61 L129.08,419.60 L129.59,419.72 L130.11,419.61 L130.62,419.72 L131.13,419.77 L131.65,419.79 L132.16,419.82 L132.67,419.72 L133.19,419.94 L133.70,419.70 L134.21,419.77 L134.73,419.92 L135.24,419.96 L135.75,419.91 L136.27,419.87 L136.78,419.94 L137.29,419.90 L137.81,419.81 L138.32,419.88 L138.83,420.00 L139.35,420.14 L139.86,420.01 L140.37,420.13 L140.89,420.13 L141.40,420.20 L141.91,420.25 L142.43,420.14 L142.94,420.04 L143.45,420.25 L143.97,420.02 L144.48,420.13 L144.99,420.24 L145.51,420.18 L146.02,420.06 L146.53,420.17 L147.05,420.17 L147.56,420.17 L148.07,420.18 L148.59,420.15 L149.10,420.31 L149.61,420.20 L150.13,420.30 L150.64,420.30 L151.15,420.38 L151.67,420.16 L152.18,420.44 L152.69,420.34 L153.21,420.34 L153.72,420.35 L154.23,420.38 L154.75,420.31 L155.26,420.22 L155.77,420.39 L156.29,420.35 L156.80,420.45 L157.31,420.41 L157.83,420.48 L158.34,420.44 L158.85,420.52 L159.37,420.45 L159.88,420.43 L160.39,420.34 L160.91,420.33 L161.42,420.41 L161.93,420.53 L162.45,420.41 L162.96,420.31 L163.47,420.46 L163.99,420.39 L164.50,420.42 L165.01,420.50 L165.53,420.41 L166.04,420.33 L166.55,420.35 L167.07,420.46 L167.58,420.50 L168.09,420.52 L168.61,420.50 L169.12,420.42 L169.63,420.45 L170.15,420.45 L170.66,420.35 L171.17,420.54 L171.69,420.48 L172.20,420.35" fill="none" stroke="#1c2498" stroke-width="0.9500000000000001" stroke-linejoin="round"/><path d="M95.20,420.54 L95.71,420.45 L96.23,420.56 L96.74,420.62 L97.25,420.59 L97.77,420.44 L98.28,420.54 L98.79,420.69 L99.31,420.46 L99.82,420.57 L100.33,420.59 L100.85,420.64 L101.36,420.47 L101.87,420.56 L102.39,420.45 L102.90,420.40 L103.41,420.15 L103.93,420.09 L104.44,419.71 L104.95,419.54 L105.47,418.75 L105.98,418.14 L106.49,417.02 L107.01,415.62 L107.52,414.27 L108.03,412.04 L108.55,411.09 L109.06,408.68 L109.57,403.71 L110.09,402.47 L110.60,397.19 L111.11,394.12 L111.63,390.92 L112.14,389.67 L112.65,388.96 L113.17,386.83 L113.68,386.37 L114.19,382.12 L114.71,388.78 L115.22,384.79 L115.73,385.55 L116.25,388.97 L116.76,389.59 L117.27,396.52 L117.79,399.30 L118.30,400.53 L118.81,404.78 L119.33,407.50 L119.84,409.11 L120.35,409.88 L120.87,411.98 L121.38,413.38 L121.89,414.82 L122.41,416.83 L122.92,417.21 L123.43,417.92 L123.95,418.03 L124.46,418.37 L124.97,418.88 L125.49,418.97 L126.00,419.16 L126.51,419.54 L127.03,419.50 L127.54,419.37 L128.05,419.59 L128.57,419.75 L129.08,419.59 L129.59,419.60 L130.11,419.69 L130.62,419.80 L131.13,419.82 L131.65,419.77 L132.16,419.76 L132.67,419.77 L133.19,419.91 L133.70,419.91 L134.21,420.03 L134.73,419.90 L135.24,419.71 L135.75,419.79 L136.27,419.92 L136.78,419.99 L137.29,419.95 L137.81,419.86 L138.32,419.88 L138.83,420.07 L139.35,420.08 L139.86,420.06 L140.37,420.06 L140.89,420.17 L141.40,420.08 L141.91,419.97 L142.43,419.99 L142.94,420.25 L143.45,420.22 L143.97,420.10 L144.48,420.22 L144.99,420.09 L145.51,420.21 L146.02,420.18 L146.53,420.13 L147.05,420.35 L147.56,420.16 L148.07,420.37 L148.59,420.24 L149.10,420.38 L149.61,420.23 L150.13,420.31 L150.64,420.19 L151.15,420.34 L151.67,420.25 L152.18,420.44 L152.69,420.19 L153.21,420.34 L153.72,420.44 L154.23,420.40 L154.75,420.35 L155.26,420.47 L155.77,420.27 L156.29,420.32 L156.80,420.24 L157.31,420.44 L157.83,420.51 L158.34,420.49 L158.85,420.32 L159.37,420.38 L159.88,420.39 L160.39,420.30 L160.91,420.34 L161.42,420.30 L161.93,420.51 L162.45,420.42 L162.96,420.52 L163.47,420.53 L163.99,420.33 L164.50,420.32 L165.01,420.31 L165.53,420.52 L166.04,420.56 L166.55,420.55 L167.07,420.51 L167.58,420.46 L168.09,420.54 L168.61,420.47 L169.12,420.48 L169.63,420.55 L170.15,420.56 L170.66,420.57 L171.17,420.59 L171.69,420.39 L172.20,420.59" fill="none" stroke="#202040" stroke-width="0.6" stroke-linejoin="round"/><rect x="94.70" y="375.60" width="78.00" height="45.50" fill="none" stroke="#a0a0a0" stroke-width="0.8"/><line x1="94.70" y1="375.60" x2="94.70" y2="421.10" stroke="#888" stroke-width="0.8" /><line x1="93.70" y1="421.10" x2="94.70" y2="421.10" stroke="#777" stroke-width="0.4" /><rect x="91.30" y="420.25" width="1.10" height="1.70" fill="#666" /><line x1="93.70" y1="413.63" x2="94.70" y2="413.63" stroke="#777" stroke-width="0.4" /><rect x="91.30" y="412.78" width="1.10" height="1.70" fill="#666" /><line x1="93.70" y1="406.16" x2="94.70" y2="406.16" stroke="#777" stroke-width="0.4" /><rect x="91.30" y="405.31" width="1.10" height="1.70" fill="#666" /><line x1="93.70" y1="398.69" x2="94.70" y2="398.69" stroke="#777" stroke-width="0.4" /><rect x="91.30" y="397.84" width="1.10" height="1.70" fill="#666" /><line x1="93.70" y1="391.22" x2="94.70" y2="391.22" stroke="#777" stroke-width="0.4" /><rect x="91.30" y="390.37" width="1.10" height="1.70" fill="#666" /><line x1="93.70" y1="383.75" x2="94.70" y2="383.75" stroke="#777" stroke-width="0.4" /><rect x="91.30" y="382.90" width="1.10" height="1.70" fill="#666" /><line x1="93.70" y1="376.28" x2="94.70" y2="376.28" stroke="#777" stroke-width="0.4" /><rect x="91.30" y="375.43" width="1.10" height="1.70" fill="#666" /><rect x="89.10" y="395.95" width="0.90" height="4.80" fill="#9a9a9a" /><line x1="95.30" y1="421.10" x2="95.30" y2="421.90" stroke="#777" stroke-width="0.4" /><rect x="94.00" y="422.30" width="2.60" height="1.40" fill="#777" /><line x1="118.30" y1="421.10" x2="118.30" y2="421.90" stroke="#777" stroke-width="0.4" /><rect x="117.00" y="422.30" width="2.60" height="1.40" fill="#777" /><line x1="141.50" y1="421.10" x2="141.50" y2="421.90" stroke="#777" stroke-width="0.4" /><rect x="140.20" y="422.30" width="2.60" height="1.40" fill="#777" /><line x1="164.70" y1="421.10" x2="164.70" y2="421.90" stroke="#777" stroke-width="0.4" /><rect x="163.40" y="422.30" width="2.60" height="1.40" fill="#777" /><rect x="139.10" y="425.30" width="4.80" height="1.30" fill="#9a9a9a" /><text x="120.40" y="384.50" font-size="8.8" fill="#000" stroke="#000" stroke-width="0.38" textLength="44.20" lengthAdjust="spacingAndGlyphs">Karpas 299</text><path d="M181.50,420.54 L182.01,420.45 L182.53,420.49 L183.04,420.47 L183.55,420.54 L184.07,420.57 L184.58,420.53 L185.09,420.50 L185.61,420.55 L186.12,420.45 L186.63,420.25 L187.15,420.26 L187.66,420.07 L188.17,419.81 L188.69,419.17 L189.20,418.57 L189.71,417.75 L190.23,416.55 L190.74,415.08 L191.25,413.23 L191.77,410.29 L192.28,408.71 L192.79,405.99 L193.31,401.30 L193.82,398.32 L194.33,393.58 L194.85,393.93 L195.36,386.32 L195.87,384.09 L196.39,383.49 L196.90,382.25 L197.41,382.54 L197.93,385.24 L198.44,384.58 L198.95,388.88 L199.47,395.83 L199.98,398.30 L200.49,400.54 L201.01,403.60 L201.52,408.40 L202.03,411.00 L202.55,412.84 L203.06,415.72 L203.57,416.34 L204.09,417.86 L204.60,418.58 L205.11,419.14 L205.63,419.39 L206.14,419.52 L206.65,419.92 L207.17,419.91 L207.68,419.97 L208.19,420.12 L208.71,420.03 L209.22,420.09 L209.73,420.20 L210.25,420.23 L210.76,420.04 L211.27,420.10 L211.79,420.18 L212.30,420.12 L212.81,420.10 L213.33,420.10 L213.84,420.34 L214.35,420.21 L214.87,420.32 L215.38,420.32 L215.89,420.32 L216.41,420.33 L216.92,420.41 L217.43,420.25 L217.95,420.23 L218.46,420.25 L218.97,420.24 L219.49,420.19 L220.00,420.23 L220.51,420.40 L221.03,420.32 L221.54,420.47 L222.05,420.23 L222.57,420.38 L223.08,420.42 L223.59,420.39 L224.11,420.25 L224.62,420.32 L225.13,420.27 L225.65,420.25 L226.16,420.48 L226.67,420.26 L227.19,420.33 L227.70,420.42 L228.21,420.48 L228.73,420.47 L229.24,420.47 L229.75,420.34 L230.27,420.41 L230.78,420.30 L231.29,420.48 L231.81,420.53 L232.32,420.41 L232.83,420.51 L233.35,420.33 L233.86,420.38 L234.37,420.42 L234.89,420.54 L235.40,420.57 L235.91,420.42 L236.43,420.52 L236.94,420.37 L237.45,420.46 L237.97,420.49 L238.48,420.40 L238.99,420.39 L239.51,420.52 L240.02,420.46 L240.53,420.62 L241.05,420.45 L241.56,420.37 L242.07,420.51 L242.59,420.60 L243.10,420.40 L243.61,420.50 L244.13,420.58 L244.64,420.48 L245.15,420.44 L245.67,420.58 L246.18,420.46 L246.69,420.39 L247.21,420.57 L247.72,420.56 L248.23,420.46 L248.75,420.56 L249.26,420.40 L249.77,420.42 L250.29,420.47 L250.80,420.52 L251.31,420.59 L251.83,420.49 L252.34,420.58 L252.85,420.58 L253.37,420.65 L253.88,420.49 L254.39,420.54 L254.91,420.50 L255.42,420.66 L255.93,420.56 L256.45,420.40 L256.96,420.64 L257.47,420.49 L257.99,420.61 L258.50,420.42" fill="none" stroke="#1c2498" stroke-width="0.9500000000000001" stroke-linejoin="round"/><path d="M181.50,420.68 L182.01,420.67 L182.53,420.69 L183.04,420.61 L183.55,420.65 L184.07,420.60 L184.58,420.69 L185.09,420.65 L185.61,420.64 L186.12,420.50 L186.63,420.53 L187.15,420.28 L187.66,420.12 L188.17,420.02 L188.69,419.50 L189.20,419.11 L189.71,418.56 L190.23,417.44 L190.74,416.49 L191.25,414.40 L191.77,412.42 L192.28,409.94 L192.79,407.62 L193.31,405.09 L193.82,400.37 L194.33,396.32 L194.85,393.85 L195.36,392.53 L195.87,391.70 L196.39,386.65 L196.90,388.23 L197.41,384.93 L197.93,387.38 L198.44,387.59 L198.95,387.75 L199.47,390.49 L199.98,396.17 L200.49,400.44 L201.01,402.16 L201.52,406.51 L202.03,410.83 L202.55,412.89 L203.06,414.79 L203.57,416.27 L204.09,417.64 L204.60,418.43 L205.11,419.01 L205.63,419.35 L206.14,419.48 L206.65,419.83 L207.17,419.92 L207.68,419.97 L208.19,419.89 L208.71,420.03 L209.22,420.12 L209.73,420.26 L210.25,420.22 L210.76,420.13 L211.27,420.14 L211.79,420.06 L212.30,420.29 L212.81,420.15 L213.33,420.11 L213.84,420.34 L214.35,420.20 L214.87,420.14 L215.38,420.09 L215.89,420.29 L216.41,420.37 L216.92,420.16 L217.43,420.37 L217.95,420.27 L218.46,420.19 L218.97,420.37 L219.49,420.38 L220.00,420.35 L220.51,420.41 L221.03,420.42 L221.54,420.21 L222.05,420.34 L222.57,420.41 L223.08,420.35 L223.59,420.26 L224.11,420.29 L224.62,420.31 L225.13,420.43 L225.65,420.35 L226.16,420.41 L226.67,420.40 L227.19,420.37 L227.70,420.31 L228.21,420.40 L228.73,420.51 L229.24,420.33 L229.75,420.38 L230.27,420.46 L230.78,420.46 L231.29,420.34 L231.81,420.31 L232.32,420.47 L232.83,420.35 L233.35,420.44 L233.86,420.34 L234.37,420.52 L234.89,420.50 L235.40,420.57 L235.91,420.57 L236.43,420.34 L236.94,420.43 L237.45,420.49 L237.97,420.54 L238.48,420.47 L238.99,420.53 L239.51,420.56 L240.02,420.45 L240.53,420.49 L241.05,420.36 L241.56,420.40 L242.07,420.56 L242.59,420.50 L243.10,420.39 L243.61,420.55 L244.13,420.37 L244.64,420.53 L245.15,420.62 L245.67,420.60 L246.18,420.53 L246.69,420.51 L247.21,420.64 L247.72,420.44 L248.23,420.42 L248.75,420.42 L249.26,420.57 L249.77,420.54 L250.29,420.58 L250.80,420.40 L251.31,420.41 L251.83,420.45 L252.34,420.51 L252.85,420.54 L253.37,420.53 L253.88,420.61 L254.39,420.65 L254.91,420.64 L255.42,420.66 L255.93,420.52 L256.45,420.42 L256.96,420.43 L257.47,420.59 L257.99,420.64 L258.50,420.45" fill="none" stroke="#202040" stroke-width="0.6" stroke-linejoin="round"/><rect x="181.00" y="375.60" width="78.00" height="45.50" fill="none" stroke="#a0a0a0" stroke-width="0.8"/><line x1="181.00" y1="375.60" x2="181.00" y2="421.10" stroke="#888" stroke-width="0.8" /><line x1="180.00" y1="421.10" x2="181.00" y2="421.10" stroke="#777" stroke-width="0.4" /><rect x="177.60" y="420.25" width="1.10" height="1.70" fill="#666" /><line x1="180.00" y1="413.63" x2="181.00" y2="413.63" stroke="#777" stroke-width="0.4" /><rect x="177.60" y="412.78" width="1.10" height="1.70" fill="#666" /><line x1="180.00" y1="406.16" x2="181.00" y2="406.16" stroke="#777" stroke-width="0.4" /><rect x="177.60" y="405.31" width="1.10" height="1.70" fill="#666" /><line x1="180.00" y1="398.69" x2="181.00" y2="398.69" stroke="#777" stroke-width="0.4" /><rect x="177.60" y="397.84" width="1.10" height="1.70" fill="#666" /><line x1="180.00" y1="391.22" x2="181.00" y2="391.22" stroke="#777" stroke-width="0.4" /><rect x="177.60" y="390.37" width="1.10" height="1.70" fill="#666" /><line x1="180.00" y1="383.75" x2="181.00" y2="383.75" stroke="#777" stroke-width="0.4" /><rect x="177.60" y="382.90" width="1.10" height="1.70" fill="#666" /><line x1="180.00" y1="376.28" x2="181.00" y2="376.28" stroke="#777" stroke-width="0.4" /><rect x="177.60" y="375.43" width="1.10" height="1.70" fill="#666" /><rect x="175.40" y="395.95" width="0.90" height="4.80" fill="#9a9a9a" /><line x1="181.60" y1="421.10" x2="181.60" y2="421.90" stroke="#777" stroke-width="0.4" /><rect x="180.30" y="422.30" width="2.60" height="1.40" fill="#777" /><line x1="204.60" y1="421.10" x2="204.60" y2="421.90" stroke="#777" stroke-width="0.4" /><rect x="203.30" y="422.30" width="2.60" height="1.40" fill="#777" /><line x1="227.80" y1="421.10" x2="227.80" y2="421.90" stroke="#777" stroke-width="0.4" /><rect x="226.50" y="422.30" width="2.60" height="1.40" fill="#777" /><line x1="251.00" y1="421.10" x2="251.00" y2="421.90" stroke="#777" stroke-width="0.4" /><rect x="249.70" y="422.30" width="2.60" height="1.40" fill="#777" /><rect x="225.40" y="425.30" width="4.80" height="1.30" fill="#9a9a9a" /><text x="217.80" y="384.50" font-size="8.8" fill="#000" stroke="#000" stroke-width="0.38" textLength="25.10" lengthAdjust="spacingAndGlyphs">SR786</text><path d="M267.40,420.55 L267.91,420.44 L268.43,420.49 L268.94,420.65 L269.45,420.48 L269.97,420.56 L270.48,420.62 L270.99,420.58 L271.51,420.59 L272.02,420.48 L272.53,420.40 L273.05,420.15 L273.56,419.98 L274.07,419.73 L274.59,419.24 L275.10,418.46 L275.61,417.82 L276.13,416.37 L276.64,414.40 L277.15,412.80 L277.67,410.60 L278.18,406.90 L278.69,403.37 L279.21,402.10 L279.72,399.04 L280.23,394.83 L280.75,388.74 L281.26,387.05 L281.77,383.82 L282.29,381.12 L282.80,382.99 L283.31,386.03 L283.83,380.23 L284.34,388.24 L284.85,387.32 L285.37,393.21 L285.88,398.44 L286.39,400.84 L286.91,404.91 L287.42,406.45 L287.93,409.45 L288.45,413.57 L288.96,415.07 L289.47,416.08 L289.99,417.66 L290.50,418.04 L291.01,418.72 L291.53,419.43 L292.04,419.56 L292.55,419.67 L293.07,419.76 L293.58,419.83 L294.09,419.67 L294.61,419.92 L295.12,419.81 L295.63,419.84 L296.15,419.98 L296.66,419.99 L297.17,420.00 L297.69,420.11 L298.20,419.98 L298.71,419.86 L299.23,420.10 L299.74,420.07 L300.25,419.99 L300.77,419.95 L301.28,419.93 L301.79,420.06 L302.31,420.12 L302.82,420.14 L303.33,420.15 L303.85,420.12 L304.36,420.25 L304.87,420.25 L305.39,420.18 L305.90,420.09 L306.41,420.32 L306.93,420.23 L307.44,420.20 L307.95,420.15 L308.47,420.14 L308.98,420.35 L309.49,420.39 L310.01,420.15 L310.52,420.40 L311.03,420.27 L311.55,420.17 L312.06,420.42 L312.57,420.33 L313.09,420.33 L313.60,420.20 L314.11,420.44 L314.63,420.36 L315.14,420.21 L315.65,420.47 L316.17,420.35 L316.68,420.50 L317.19,420.43 L317.71,420.41 L318.22,420.41 L318.73,420.41 L319.25,420.41 L319.76,420.31 L320.27,420.32 L320.79,420.46 L321.30,420.41 L321.81,420.28 L322.33,420.30 L322.84,420.55 L323.35,420.39 L323.87,420.29 L324.38,420.36 L324.89,420.55 L325.41,420.50 L325.92,420.42 L326.43,420.40 L326.95,420.41 L327.46,420.51 L327.97,420.39 L328.49,420.44 L329.00,420.42 L329.51,420.46 L330.03,420.54 L330.54,420.43 L331.05,420.35 L331.57,420.43 L332.08,420.45 L332.59,420.58 L333.11,420.35 L333.62,420.62 L334.13,420.54 L334.65,420.50 L335.16,420.56 L335.67,420.50 L336.19,420.38 L336.70,420.53 L337.21,420.43 L337.73,420.39 L338.24,420.40 L338.75,420.52 L339.27,420.48 L339.78,420.53 L340.29,420.40 L340.81,420.62 L341.32,420.64 L341.83,420.64 L342.35,420.49 L342.86,420.58 L343.37,420.49 L343.89,420.55 L344.40,420.54" fill="none" stroke="#6070d0" stroke-width="1.0" stroke-linejoin="round"/><path d="M267.40,420.64 L267.91,420.62 L268.43,420.60 L268.94,420.53 L269.45,420.51 L269.97,420.56 L270.48,420.52 L270.99,420.60 L271.51,420.60 L272.02,420.58 L272.53,420.47 L273.05,420.31 L273.56,420.07 L274.07,419.85 L274.59,419.73 L275.10,419.11 L275.61,418.39 L276.13,417.32 L276.64,415.94 L277.15,413.64 L277.67,411.71 L278.18,408.65 L278.69,406.11 L279.21,402.19 L279.72,398.83 L280.23,394.62 L280.75,390.18 L281.26,387.19 L281.77,386.13 L282.29,385.38 L282.80,383.29 L283.31,382.95 L283.83,381.25 L284.34,383.90 L284.85,384.16 L285.37,385.41 L285.88,394.89 L286.39,397.72 L286.91,398.42 L287.42,403.93 L287.93,407.12 L288.45,410.23 L288.96,412.68 L289.47,414.33 L289.99,416.60 L290.50,417.51 L291.01,418.02 L291.53,418.92 L292.04,419.08 L292.55,419.55 L293.07,419.67 L293.58,419.70 L294.09,419.75 L294.61,419.78 L295.12,419.86 L295.63,419.93 L296.15,419.84 L296.66,419.93 L297.17,420.03 L297.69,419.88 L298.20,420.09 L298.71,419.83 L299.23,419.96 L299.74,420.11 L300.25,419.97 L300.77,420.07 L301.28,420.13 L301.79,420.18 L302.31,419.93 L302.82,420.10 L303.33,420.03 L303.85,420.22 L304.36,420.16 L304.87,420.15 L305.39,420.26 L305.90,420.09 L306.41,420.27 L306.93,420.30 L307.44,420.37 L307.95,420.15 L308.47,420.32 L308.98,420.20 L309.49,420.21 L310.01,420.36 L310.52,420.14 L311.03,420.28 L311.55,420.41 L312.06,420.15 L312.57,420.38 L313.09,420.37 L313.60,420.27 L314.11,420.41 L314.63,420.22 L315.14,420.34 L315.65,420.28 L316.17,420.31 L316.68,420.30 L317.19,420.38 L317.71,420.39 L318.22,420.50 L318.73,420.29 L319.25,420.49 L319.76,420.47 L320.27,420.43 L320.79,420.35 L321.30,420.32 L321.81,420.30 L322.33,420.55 L322.84,420.54 L323.35,420.45 L323.87,420.53 L324.38,420.31 L324.89,420.35 L325.41,420.53 L325.92,420.45 L326.43,420.46 L326.95,420.45 L327.46,420.51 L327.97,420.57 L328.49,420.32 L329.00,420.33 L329.51,420.57 L330.03,420.41 L330.54,420.34 L331.05,420.49 L331.57,420.42 L332.08,420.61 L332.59,420.51 L333.11,420.41 L333.62,420.50 L334.13,420.52 L334.65,420.42 L335.16,420.55 L335.67,420.38 L336.19,420.44 L336.70,420.47 L337.21,420.44 L337.73,420.44 L338.24,420.54 L338.75,420.42 L339.27,420.62 L339.78,420.52 L340.29,420.40 L340.81,420.52 L341.32,420.50 L341.83,420.58 L342.35,420.63 L342.86,420.53 L343.37,420.45 L343.89,420.49 L344.40,420.49" fill="none" stroke="#1c2498" stroke-width="0.9500000000000001" stroke-linejoin="round"/><path d="M267.40,420.54 L267.91,420.53 L268.43,420.57 L268.94,420.66 L269.45,420.67 L269.97,420.55 L270.48,420.49 L270.99,420.57 L271.51,420.54 L272.02,420.65 L272.53,420.53 L273.05,420.39 L273.56,420.39 L274.07,420.23 L274.59,419.86 L275.10,419.55 L275.61,418.94 L276.13,418.41 L276.64,417.58 L277.15,415.94 L277.67,414.74 L278.18,411.84 L278.69,409.66 L279.21,406.42 L279.72,402.54 L280.23,398.82 L280.75,394.96 L281.26,394.49 L281.77,386.55 L282.29,385.82 L282.80,385.15 L283.31,383.05 L283.83,380.42 L284.34,381.96 L284.85,383.78 L285.37,386.58 L285.88,391.62 L286.39,392.75 L286.91,398.13 L287.42,401.94 L287.93,406.67 L288.45,408.90 L288.96,410.79 L289.47,413.54 L289.99,415.46 L290.50,416.90 L291.01,417.54 L291.53,418.64 L292.04,418.90 L292.55,419.32 L293.07,419.33 L293.58,419.86 L294.09,419.92 L294.61,419.80 L295.12,419.84 L295.63,419.81 L296.15,419.85 L296.66,419.99 L297.17,419.80 L297.69,420.08 L298.20,420.12 L298.71,419.96 L299.23,419.88 L299.74,419.97 L300.25,420.06 L300.77,419.96 L301.28,420.11 L301.79,420.17 L302.31,420.09 L302.82,420.20 L303.33,420.25 L303.85,420.20 L304.36,420.12 L304.87,420.21 L305.39,420.26 L305.90,420.17 L306.41,420.18 L306.93,420.27 L307.44,420.10 L307.95,420.22 L308.47,420.15 L308.98,420.22 L309.49,420.26 L310.01,420.30 L310.52,420.29 L311.03,420.34 L311.55,420.25 L312.06,420.24 L312.57,420.21 L313.09,420.35 L313.60,420.31 L314.11,420.31 L314.63,420.38 L315.14,420.28 L315.65,420.41 L316.17,420.24 L316.68,420.26 L317.19,420.47 L317.71,420.36 L318.22,420.40 L318.73,420.52 L319.25,420.47 L319.76,420.35 L320.27,420.44 L320.79,420.45 L321.30,420.49 L321.81,420.32 L322.33,420.53 L322.84,420.28 L323.35,420.35 L323.87,420.43 L324.38,420.29 L324.89,420.31 L325.41,420.53 L325.92,420.32 L326.43,420.39 L326.95,420.44 L327.46,420.55 L327.97,420.58 L328.49,420.35 L329.00,420.37 L329.51,420.55 L330.03,420.43 L330.54,420.47 L331.05,420.55 L331.57,420.56 L332.08,420.47 L332.59,420.35 L333.11,420.53 L333.62,420.52 L334.13,420.50 L334.65,420.45 L335.16,420.62 L335.67,420.57 L336.19,420.48 L336.70,420.47 L337.21,420.56 L337.73,420.45 L338.24,420.51 L338.75,420.50 L339.27,420.37 L339.78,420.60 L340.29,420.50 L340.81,420.48 L341.32,420.45 L341.83,420.58 L342.35,420.54 L342.86,420.59 L343.37,420.46 L343.89,420.42 L344.40,420.55" fill="none" stroke="#202040" stroke-width="0.6" stroke-linejoin="round"/><rect x="266.90" y="375.60" width="78.00" height="45.50" fill="none" stroke="#a0a0a0" stroke-width="0.8"/><line x1="266.90" y1="375.60" x2="266.90" y2="421.10" stroke="#888" stroke-width="0.8" /><line x1="265.90" y1="421.10" x2="266.90" y2="421.10" stroke="#777" stroke-width="0.4" /><rect x="263.50" y="420.25" width="1.10" height="1.70" fill="#666" /><line x1="265.90" y1="413.63" x2="266.90" y2="413.63" stroke="#777" stroke-width="0.4" /><rect x="263.50" y="412.78" width="1.10" height="1.70" fill="#666" /><line x1="265.90" y1="406.16" x2="266.90" y2="406.16" stroke="#777" stroke-width="0.4" /><rect x="263.50" y="405.31" width="1.10" height="1.70" fill="#666" /><line x1="265.90" y1="398.69" x2="266.90" y2="398.69" stroke="#777" stroke-width="0.4" /><rect x="263.50" y="397.84" width="1.10" height="1.70" fill="#666" /><line x1="265.90" y1="391.22" x2="266.90" y2="391.22" stroke="#777" stroke-width="0.4" /><rect x="263.50" y="390.37" width="1.10" height="1.70" fill="#666" /><line x1="265.90" y1="383.75" x2="266.90" y2="383.75" stroke="#777" stroke-width="0.4" /><rect x="263.50" y="382.90" width="1.10" height="1.70" fill="#666" /><line x1="265.90" y1="376.28" x2="266.90" y2="376.28" stroke="#777" stroke-width="0.4" /><rect x="263.50" y="375.43" width="1.10" height="1.70" fill="#666" /><rect x="261.30" y="395.95" width="0.90" height="4.80" fill="#9a9a9a" /><line x1="267.50" y1="421.10" x2="267.50" y2="421.90" stroke="#777" stroke-width="0.4" /><rect x="266.20" y="422.30" width="2.60" height="1.40" fill="#777" /><line x1="290.50" y1="421.10" x2="290.50" y2="421.90" stroke="#777" stroke-width="0.4" /><rect x="289.20" y="422.30" width="2.60" height="1.40" fill="#777" /><line x1="313.70" y1="421.10" x2="313.70" y2="421.90" stroke="#777" stroke-width="0.4" /><rect x="312.40" y="422.30" width="2.60" height="1.40" fill="#777" /><line x1="336.90" y1="421.10" x2="336.90" y2="421.90" stroke="#777" stroke-width="0.4" /><rect x="335.60" y="422.30" width="2.60" height="1.40" fill="#777" /><rect x="311.30" y="425.30" width="4.80" height="1.30" fill="#9a9a9a" /><text x="315.20" y="384.50" font-size="8.8" fill="#000" stroke="#000" stroke-width="0.38" textLength="16.40" lengthAdjust="spacingAndGlyphs">L-82</text><path d="M352.90,420.52 L353.41,420.65 L353.93,420.42 L354.44,420.56 L354.95,420.35 L355.47,420.31 L355.98,420.23 L356.49,420.31 L357.01,420.12 L357.52,419.88 L358.03,419.53 L358.55,418.87 L359.06,418.46 L359.57,417.94 L360.09,416.94 L360.60,416.23 L361.11,414.92 L361.63,413.27 L362.14,410.81 L362.65,407.43 L363.17,406.81 L363.68,401.60 L364.19,398.43 L364.71,399.21 L365.22,393.16 L365.73,389.07 L366.25,388.14 L366.76,391.03 L367.27,388.63 L367.79,384.60 L368.30,385.50 L368.81,384.21 L369.33,384.70 L369.84,391.16 L370.35,391.08 L370.87,393.22 L371.38,392.24 L371.89,395.49 L372.41,399.90 L372.92,404.92 L373.43,405.25 L373.95,409.21 L374.46,411.59 L374.97,412.89 L375.49,415.21 L376.00,416.26 L376.51,417.47 L377.03,417.77 L377.54,418.31 L378.05,418.78 L378.57,419.23 L379.08,419.47 L379.59,419.56 L380.11,419.60 L380.62,419.84 L381.13,419.82 L381.65,420.00 L382.16,419.85 L382.67,419.84 L383.19,420.14 L383.70,419.96 L384.21,419.94 L384.73,420.13 L385.24,420.08 L385.75,420.17 L386.27,420.13 L386.78,420.14 L387.29,420.21 L387.81,420.14 L388.32,420.17 L388.83,420.29 L389.35,420.25 L389.86,420.27 L390.37,420.19 L390.89,420.31 L391.40,420.16 L391.91,420.10 L392.43,420.11 L392.94,420.26 L393.45,420.27 L393.97,420.17 L394.48,420.09 L394.99,420.32 L395.51,420.37 L396.02,420.31 L396.53,420.24 L397.05,420.43 L397.56,420.26 L398.07,420.31 L398.59,420.24 L399.10,420.26 L399.61,420.41 L400.13,420.34 L400.64,420.36 L401.15,420.37 L401.67,420.44 L402.18,420.34 L402.69,420.41 L403.21,420.26 L403.72,420.42 L404.23,420.24 L404.75,420.53 L405.26,420.38 L405.77,420.31 L406.29,420.38 L406.80,420.35 L407.31,420.30 L407.83,420.51 L408.34,420.54 L408.85,420.50 L409.37,420.38 L409.88,420.43 L410.39,420.51 L410.91,420.49 L411.42,420.48 L411.93,420.51 L412.45,420.53 L412.96,420.49 L413.47,420.39 L413.99,420.55 L414.50,420.42 L415.01,420.37 L415.53,420.41 L416.04,420.37 L416.55,420.37 L417.07,420.50 L417.58,420.40 L418.09,420.48 L418.61,420.56 L419.12,420.50 L419.63,420.51 L420.15,420.55 L420.66,420.51 L421.17,420.49 L421.69,420.62 L422.20,420.54 L422.71,420.37 L423.23,420.37 L423.74,420.50 L424.25,420.63 L424.77,420.45 L425.28,420.61 L425.79,420.60 L426.31,420.50 L426.82,420.57 L427.33,420.42 L427.85,420.51 L428.36,420.48 L428.87,420.54 L429.39,420.42 L429.90,420.63" fill="none" stroke="#1c2498" stroke-width="0.9500000000000001" stroke-linejoin="round"/><path d="M352.90,420.63 L353.41,420.65 L353.93,420.64 L354.44,420.59 L354.95,420.44 L355.47,420.58 L355.98,420.48 L356.49,420.23 L357.01,420.21 L357.52,420.12 L358.03,419.65 L358.55,419.59 L359.06,419.07 L359.57,418.41 L360.09,417.85 L360.60,416.90 L361.11,415.67 L361.63,413.94 L362.14,412.19 L362.65,411.05 L363.17,408.97 L363.68,407.93 L364.19,404.62 L364.71,399.47 L365.22,395.96 L365.73,393.73 L366.25,392.01 L366.76,388.88 L367.27,390.89 L367.79,384.41 L368.30,389.32 L368.81,385.67 L369.33,389.66 L369.84,391.00 L370.35,386.09 L370.87,392.70 L371.38,396.55 L371.89,394.11 L372.41,400.77 L372.92,401.35 L373.43,404.34 L373.95,407.09 L374.46,409.38 L374.97,412.74 L375.49,414.34 L376.00,414.92 L376.51,416.07 L377.03,417.11 L377.54,417.74 L378.05,418.31 L378.57,418.91 L379.08,419.11 L379.59,419.32 L380.11,419.68 L380.62,419.83 L381.13,419.76 L381.65,419.89 L382.16,419.96 L382.67,420.05 L383.19,420.05 L383.70,419.91 L384.21,420.04 L384.73,420.15 L385.24,420.00 L385.75,419.93 L386.27,420.05 L386.78,420.05 L387.29,420.04 L387.81,420.06 L388.32,420.03 L388.83,420.06 L389.35,420.27 L389.86,420.10 L390.37,420.26 L390.89,420.07 L391.40,420.15 L391.91,420.16 L392.43,420.28 L392.94,420.24 L393.45,420.29 L393.97,420.29 L394.48,420.21 L394.99,420.33 L395.51,420.18 L396.02,420.33 L396.53,420.38 L397.05,420.31 L397.56,420.21 L398.07,420.23 L398.59,420.20 L399.10,420.24 L399.61,420.28 L400.13,420.37 L400.64,420.19 L401.15,420.42 L401.67,420.37 L402.18,420.23 L402.69,420.36 L403.21,420.38 L403.72,420.23 L404.23,420.45 L404.75,420.24 L405.26,420.27 L405.77,420.34 L406.29,420.28 L406.80,420.34 L407.31,420.48 L407.83,420.43 L408.34,420.38 L408.85,420.41 L409.37,420.31 L409.88,420.52 L410.39,420.35 L410.91,420.52 L411.42,420.48 L411.93,420.36 L412.45,420.43 L412.96,420.53 L413.47,420.35 L413.99,420.52 L414.50,420.38 L415.01,420.48 L415.53,420.39 L416.04,420.35 L416.55,420.60 L417.07,420.39 L417.58,420.50 L418.09,420.41 L418.61,420.58 L419.12,420.41 L419.63,420.39 L420.15,420.53 L420.66,420.42 L421.17,420.41 L421.69,420.42 L422.20,420.56 L422.71,420.60 L423.23,420.48 L423.74,420.63 L424.25,420.42 L424.77,420.46 L425.28,420.65 L425.79,420.50 L426.31,420.38 L426.82,420.55 L427.33,420.53 L427.85,420.49 L428.36,420.54 L428.87,420.58 L429.39,420.51 L429.90,420.64" fill="none" stroke="#2a2a48" stroke-width="0.6" stroke-linejoin="round"/><rect x="352.40" y="375.60" width="78.00" height="45.50" fill="none" stroke="#a0a0a0" stroke-width="0.8"/><line x1="352.40" y1="375.60" x2="352.40" y2="421.10" stroke="#888" stroke-width="0.8" /><line x1="351.40" y1="421.10" x2="352.40" y2="421.10" stroke="#777" stroke-width="0.4" /><rect x="349.00" y="420.25" width="1.10" height="1.70" fill="#666" /><line x1="351.40" y1="413.63" x2="352.40" y2="413.63" stroke="#777" stroke-width="0.4" /><rect x="349.00" y="412.78" width="1.10" height="1.70" fill="#666" /><line x1="351.40" y1="406.16" x2="352.40" y2="406.16" stroke="#777" stroke-width="0.4" /><rect x="349.00" y="405.31" width="1.10" height="1.70" fill="#666" /><line x1="351.40" y1="398.69" x2="352.40" y2="398.69" stroke="#777" stroke-width="0.4" /><rect x="349.00" y="397.84" width="1.10" height="1.70" fill="#666" /><line x1="351.40" y1="391.22" x2="352.40" y2="391.22" stroke="#777" stroke-width="0.4" /><rect x="349.00" y="390.37" width="1.10" height="1.70" fill="#666" /><line x1="351.40" y1="383.75" x2="352.40" y2="383.75" stroke="#777" stroke-width="0.4" /><rect x="349.00" y="382.90" width="1.10" height="1.70" fill="#666" /><line x1="351.40" y1="376.28" x2="352.40" y2="376.28" stroke="#777" stroke-width="0.4" /><rect x="349.00" y="375.43" width="1.10" height="1.70" fill="#666" /><rect x="346.80" y="395.95" width="0.90" height="4.80" fill="#9a9a9a" /><line x1="353.00" y1="421.10" x2="353.00" y2="421.90" stroke="#777" stroke-width="0.4" /><rect x="351.70" y="422.30" width="2.60" height="1.40" fill="#777" /><line x1="376.00" y1="421.10" x2="376.00" y2="421.90" stroke="#777" stroke-width="0.4" /><rect x="374.70" y="422.30" width="2.60" height="1.40" fill="#777" /><line x1="399.20" y1="421.10" x2="399.20" y2="421.90" stroke="#777" stroke-width="0.4" /><rect x="397.90" y="422.30" width="2.60" height="1.40" fill="#777" /><line x1="422.40" y1="421.10" x2="422.40" y2="421.90" stroke="#777" stroke-width="0.4" /><rect x="421.10" y="422.30" width="2.60" height="1.40" fill="#777" /><rect x="396.80" y="425.30" width="4.80" height="1.30" fill="#9a9a9a" /><text x="403.80" y="384.50" font-size="8.8" fill="#000" stroke="#000" stroke-width="0.38" textLength="13.80" lengthAdjust="spacingAndGlyphs">JB6</text><path d="M439.50,420.49 L440.01,420.46 L440.53,420.44 L441.04,420.60 L441.55,420.66 L442.07,420.64 L442.58,420.51 L443.09,420.60 L443.61,420.38 L444.12,420.53 L444.63,420.40 L445.15,420.28 L445.66,419.96 L446.17,419.85 L446.69,419.45 L447.20,418.95 L447.71,418.32 L448.23,417.24 L448.74,415.93 L449.25,414.83 L449.77,412.51 L450.28,411.12 L450.79,408.21 L451.31,405.09 L451.82,402.01 L452.33,400.99 L452.85,397.37 L453.36,393.51 L453.87,394.66 L454.39,390.63 L454.90,387.11 L455.41,385.05 L455.93,387.04 L456.44,385.80 L456.95,387.48 L457.47,385.54 L457.98,389.23 L458.49,387.68 L459.01,394.05 L459.52,397.81 L460.03,397.97 L460.55,402.59 L461.06,402.91 L461.57,407.84 L462.09,408.59 L462.60,412.11 L463.11,413.81 L463.63,414.64 L464.14,415.94 L464.65,417.18 L465.17,417.45 L465.68,417.97 L466.19,418.31 L466.71,418.82 L467.22,419.06 L467.73,419.15 L468.25,419.14 L468.76,419.26 L469.27,419.29 L469.79,419.52 L470.30,419.46 L470.81,419.66 L471.33,419.68 L471.84,419.80 L472.35,419.74 L472.87,419.67 L473.38,419.66 L473.89,419.75 L474.41,419.59 L474.92,419.71 L475.43,419.78 L475.95,419.83 L476.46,419.98 L476.97,419.85 L477.49,419.86 L478.00,419.77 L478.51,419.82 L479.03,419.93 L479.54,420.03 L480.05,420.12 L480.57,419.98 L481.08,420.07 L481.59,420.03 L482.11,420.15 L482.62,420.07 L483.13,420.01 L483.65,420.15 L484.16,420.00 L484.67,420.19 L485.19,420.02 L485.70,420.08 L486.21,420.12 L486.73,420.29 L487.24,420.09 L487.75,420.16 L488.27,420.17 L488.78,420.16 L489.29,420.26 L489.81,420.17 L490.32,420.15 L490.83,420.30 L491.35,420.26 L491.86,420.35 L492.37,420.39 L492.89,420.25 L493.40,420.35 L493.91,420.30 L494.43,420.33 L494.94,420.31 L495.45,420.20 L495.97,420.42 L496.48,420.22 L496.99,420.46 L497.51,420.26 L498.02,420.33 L498.53,420.38 L499.05,420.32 L499.56,420.40 L500.07,420.32 L500.59,420.47 L501.10,420.27 L501.61,420.47 L502.13,420.34 L502.64,420.33 L503.15,420.49 L503.67,420.37 L504.18,420.37 L504.69,420.41 L505.21,420.50 L505.72,420.53 L506.23,420.47 L506.75,420.39 L507.26,420.42 L507.77,420.50 L508.29,420.51 L508.80,420.33 L509.31,420.49 L509.83,420.50 L510.34,420.43 L510.85,420.49 L511.37,420.34 L511.88,420.41 L512.39,420.60 L512.91,420.53 L513.42,420.47 L513.93,420.57 L514.45,420.57 L514.96,420.52 L515.47,420.41 L515.99,420.50 L516.50,420.61" fill="none" stroke="#1c24a8" stroke-width="1.1500000000000001" stroke-linejoin="round"/><path d="M439.50,420.63 L440.01,420.48 L440.53,420.69 L441.04,420.60 L441.55,420.51 L442.07,420.50 L442.58,420.49 L443.09,420.60 L443.61,420.52 L444.12,420.48 L444.63,420.32 L445.15,420.31 L445.66,419.99 L446.17,419.89 L446.69,419.61 L447.20,419.12 L447.71,418.39 L448.23,418.04 L448.74,417.37 L449.25,416.28 L449.77,414.57 L450.28,412.66 L450.79,410.94 L451.31,407.72 L451.82,406.79 L452.33,403.93 L452.85,398.63 L453.36,397.77 L453.87,393.89 L454.39,393.86 L454.90,390.95 L455.41,388.59 L455.93,388.95 L456.44,389.02 L456.95,387.78 L457.47,387.14 L457.98,387.51 L458.49,390.37 L459.01,391.44 L459.52,397.25 L460.03,399.27 L460.55,401.98 L461.06,404.78 L461.57,405.16 L462.09,408.86 L462.60,411.45 L463.11,412.83 L463.63,413.62 L464.14,415.95 L464.65,416.33 L465.17,417.56 L465.68,417.73 L466.19,418.31 L466.71,418.55 L467.22,419.09 L467.73,418.87 L468.25,419.30 L468.76,419.42 L469.27,419.45 L469.79,419.36 L470.30,419.55 L470.81,419.56 L471.33,419.69 L471.84,419.70 L472.35,419.75 L472.87,419.80 L473.38,419.75 L473.89,419.55 L474.41,419.84 L474.92,419.73 L475.43,419.80 L475.95,419.73 L476.46,419.98 L476.97,419.85 L477.49,420.03 L478.00,419.99 L478.51,420.00 L479.03,419.95 L479.54,419.82 L480.05,419.96 L480.57,419.85 L481.08,419.98 L481.59,419.99 L482.11,419.89 L482.62,420.17 L483.13,420.16 L483.65,420.06 L484.16,420.01 L484.67,420.16 L485.19,419.94 L485.70,420.25 L486.21,420.12 L486.73,420.04 L487.24,420.22 L487.75,420.18 L488.27,420.20 L488.78,420.16 L489.29,420.22 L489.81,420.32 L490.32,420.26 L490.83,420.21 L491.35,420.23 L491.86,420.20 L492.37,420.22 L492.89,420.34 L493.40,420.17 L493.91,420.18 L494.43,420.22 L494.94,420.36 L495.45,420.23 L495.97,420.40 L496.48,420.34 L496.99,420.30 L497.51,420.33 L498.02,420.33 L498.53,420.33 L499.05,420.45 L499.56,420.45 L500.07,420.40 L500.59,420.38 L501.10,420.26 L501.61,420.32 L502.13,420.25 L502.64,420.27 L503.15,420.40 L503.67,420.36 L504.18,420.34 L504.69,420.52 L505.21,420.32 L505.72,420.44 L506.23,420.45 L506.75,420.56 L507.26,420.36 L507.77,420.43 L508.29,420.50 L508.80,420.45 L509.31,420.39 L509.83,420.53 L510.34,420.48 L510.85,420.43 L511.37,420.37 L511.88,420.56 L512.39,420.52 L512.91,420.43 L513.42,420.48 L513.93,420.37 L514.45,420.58 L514.96,420.47 L515.47,420.51 L515.99,420.57 L516.50,420.53" fill="none" stroke="#202040" stroke-width="0.6" stroke-linejoin="round"/><rect x="439.00" y="375.60" width="78.00" height="45.50" fill="none" stroke="#a0a0a0" stroke-width="0.8"/><line x1="439.00" y1="375.60" x2="439.00" y2="421.10" stroke="#888" stroke-width="0.8" /><line x1="438.00" y1="421.10" x2="439.00" y2="421.10" stroke="#777" stroke-width="0.4" /><rect x="435.60" y="420.25" width="1.10" height="1.70" fill="#666" /><line x1="438.00" y1="413.63" x2="439.00" y2="413.63" stroke="#777" stroke-width="0.4" /><rect x="435.60" y="412.78" width="1.10" height="1.70" fill="#666" /><line x1="438.00" y1="406.16" x2="439.00" y2="406.16" stroke="#777" stroke-width="0.4" /><rect x="435.60" y="405.31" width="1.10" height="1.70" fill="#666" /><line x1="438.00" y1="398.69" x2="439.00" y2="398.69" stroke="#777" stroke-width="0.4" /><rect x="435.60" y="397.84" width="1.10" height="1.70" fill="#666" /><line x1="438.00" y1="391.22" x2="439.00" y2="391.22" stroke="#777" stroke-width="0.4" /><rect x="435.60" y="390.37" width="1.10" height="1.70" fill="#666" /><line x1="438.00" y1="383.75" x2="439.00" y2="383.75" stroke="#777" stroke-width="0.4" /><rect x="435.60" y="382.90" width="1.10" height="1.70" fill="#666" /><line x1="438.00" y1="376.28" x2="439.00" y2="376.28" stroke="#777" stroke-width="0.4" /><rect x="435.60" y="375.43" width="1.10" height="1.70" fill="#666" /><rect x="433.40" y="395.95" width="0.90" height="4.80" fill="#9a9a9a" /><line x1="439.60" y1="421.10" x2="439.60" y2="421.90" stroke="#777" stroke-width="0.4" /><rect x="438.30" y="422.30" width="2.60" height="1.40" fill="#777" /><line x1="462.60" y1="421.10" x2="462.60" y2="421.90" stroke="#777" stroke-width="0.4" /><rect x="461.30" y="422.30" width="2.60" height="1.40" fill="#777" /><line x1="485.80" y1="421.10" x2="485.80" y2="421.90" stroke="#777" stroke-width="0.4" /><rect x="484.50" y="422.30" width="2.60" height="1.40" fill="#777" /><line x1="509.00" y1="421.10" x2="509.00" y2="421.90" stroke="#777" stroke-width="0.4" /><rect x="507.70" y="422.30" width="2.60" height="1.40" fill="#777" /><rect x="483.40" y="425.30" width="4.80" height="1.30" fill="#9a9a9a" /><text x="476.20" y="384.50" font-size="8.8" fill="#000" stroke="#000" stroke-width="0.38" textLength="32.60" lengthAdjust="spacingAndGlyphs">SUP-M2</text><path d="M8.70,475.39 L9.21,475.52 L9.73,475.36 L10.24,475.44 L10.75,475.55 L11.27,475.45 L11.78,475.48 L12.29,475.55 L12.81,475.59 L13.32,475.48 L13.83,475.40 L14.35,475.38 L14.86,475.60 L15.37,475.47 L15.89,475.58 L16.40,475.58 L16.91,475.39 L17.43,475.39 L17.94,475.43 L18.45,475.56 L18.97,475.47 L19.48,475.34 L19.99,475.36 L20.51,475.48 L21.02,475.34 L21.53,475.45 L22.05,475.43 L22.56,475.38 L23.07,475.56 L23.59,475.49 L24.10,475.56 L24.61,475.38 L25.13,475.53 L25.64,475.41 L26.15,475.52 L26.67,475.54 L27.18,475.56 L27.69,475.34 L28.21,475.55 L28.72,475.58 L29.23,475.46 L29.75,475.56 L30.26,475.32 L30.77,475.45 L31.29,475.33 L31.80,475.40 L32.31,475.23 L32.83,475.22 L33.34,475.10 L33.85,475.11 L34.37,474.91 L34.88,474.98 L35.39,474.80 L35.91,474.51 L36.42,474.12 L36.93,473.69 L37.45,473.52 L37.96,472.73 L38.47,472.29 L38.99,471.47 L39.50,471.15 L40.01,470.70 L40.53,469.68 L41.04,468.53 L41.55,467.30 L42.07,464.65 L42.58,464.99 L43.09,462.13 L43.61,460.30 L44.12,459.34 L44.63,458.51 L45.15,457.26 L45.66,453.66 L46.17,451.98 L46.69,453.55 L47.20,452.61 L47.71,450.85 L48.23,451.22 L48.74,446.32 L49.25,446.07 L49.77,450.13 L50.28,445.53 L50.79,447.60 L51.31,450.10 L51.82,451.55 L52.33,452.74 L52.85,453.17 L53.36,454.97 L53.87,452.87 L54.39,456.51 L54.90,458.76 L55.41,460.45 L55.93,461.01 L56.44,461.46 L56.95,465.01 L57.47,465.94 L57.98,466.38 L58.49,467.87 L59.01,469.27 L59.52,470.08 L60.03,470.78 L60.55,471.22 L61.06,472.03 L61.57,472.77 L62.09,473.31 L62.60,473.87 L63.11,474.31 L63.63,474.47 L64.14,474.60 L64.65,474.86 L65.17,474.81 L65.68,475.02 L66.19,475.23 L66.71,475.27 L67.22,475.37 L67.73,475.24 L68.25,475.51 L68.76,475.49 L69.27,475.46 L69.79,475.47 L70.30,475.44 L70.81,475.55 L71.33,475.42 L71.84,475.50 L72.35,475.43 L72.87,475.48 L73.38,475.57 L73.89,475.46 L74.41,475.59 L74.92,475.43 L75.43,475.51 L75.95,475.41 L76.46,475.58 L76.97,475.54 L77.49,475.51 L78.00,475.43 L78.51,475.34 L79.03,475.51 L79.54,475.53 L80.05,475.38 L80.57,475.45 L81.08,475.53 L81.59,475.51 L82.11,475.41 L82.62,475.52 L83.13,475.45 L83.65,475.58 L84.16,475.54 L84.67,475.35 L85.19,475.58 L85.70,475.56" fill="none" stroke="#90d890" stroke-width="0.8" stroke-linejoin="round" stroke-dasharray="1.2,0.8"/><path d="M8.70,475.04 L9.21,474.74 L9.73,474.68 L10.24,474.41 L10.75,474.36 L11.27,474.14 L11.78,473.99 L12.29,473.61 L12.81,473.10 L13.32,472.69 L13.83,472.49 L14.35,471.92 L14.86,471.46 L15.37,470.61 L15.89,470.72 L16.40,469.70 L16.91,468.52 L17.43,467.64 L17.94,467.58 L18.45,466.02 L18.97,465.01 L19.48,462.26 L19.99,459.53 L20.51,456.88 L21.02,455.65 L21.53,454.20 L22.05,452.89 L22.56,447.81 L23.07,447.04 L23.59,444.06 L24.10,443.88 L24.61,437.72 L25.13,441.54 L25.64,435.96 L26.15,436.06 L26.67,439.31 L27.18,441.41 L27.69,439.88 L28.21,442.62 L28.72,449.17 L29.23,450.72 L29.75,455.37 L30.26,456.64 L30.77,458.99 L31.29,462.04 L31.80,464.30 L32.31,466.49 L32.83,469.32 L33.34,470.22 L33.85,471.45 L34.37,472.57 L34.88,473.33 L35.39,473.88 L35.91,474.26 L36.42,474.45 L36.93,474.57 L37.45,474.89 L37.96,474.98 L38.47,474.97 L38.99,475.10 L39.50,474.97 L40.01,474.93 L40.53,475.01 L41.04,475.20 L41.55,475.04 L42.07,475.23 L42.58,475.02 L43.09,475.20 L43.61,475.06 L44.12,475.10 L44.63,475.24 L45.15,475.28 L45.66,475.26 L46.17,475.08 L46.69,475.33 L47.20,475.11 L47.71,475.11 L48.23,475.31 L48.74,475.11 L49.25,475.11 L49.77,475.15 L50.28,475.12 L50.79,475.27 L51.31,475.19 L51.82,475.23 L52.33,475.14 L52.85,475.24 L53.36,475.37 L53.87,475.32 L54.39,475.31 L54.90,475.38 L55.41,475.28 L55.93,475.15 L56.44,475.22 L56.95,475.45 L57.47,475.21 L57.98,475.19 L58.49,475.31 L59.01,475.45 L59.52,475.41 L60.03,475.27 L60.55,475.30 L61.06,475.46 L61.57,475.30 L62.09,475.23 L62.60,475.23 L63.11,475.24 L63.63,475.39 L64.14,475.44 L64.65,475.48 L65.17,475.38 L65.68,475.43 L66.19,475.38 L66.71,475.49 L67.22,475.48 L67.73,475.38 L68.25,475.43 L68.76,475.46 L69.27,475.27 L69.79,475.43 L70.30,475.37 L70.81,475.43 L71.33,475.41 L71.84,475.47 L72.35,475.49 L72.87,475.53 L73.38,475.44 L73.89,475.54 L74.41,475.42 L74.92,475.37 L75.43,475.31 L75.95,475.28 L76.46,475.28 L76.97,475.36 L77.49,475.47 L78.00,475.47 L78.51,475.40 L79.03,475.40 L79.54,475.52 L80.05,475.41 L80.57,475.43 L81.08,475.44 L81.59,475.54 L82.11,475.40 L82.62,475.37 L83.13,475.31 L83.65,475.32 L84.16,475.56 L84.67,475.48 L85.19,475.38 L85.70,475.33" fill="none" stroke="#1c24a8" stroke-width="1.1500000000000001" stroke-linejoin="round"/><path d="M8.70,475.09 L9.21,474.88 L9.73,474.87 L10.24,474.64 L10.75,474.39 L11.27,474.21 L11.78,474.23 L12.29,474.01 L12.81,473.75 L13.32,473.53 L13.83,472.79 L14.35,472.29 L14.86,472.18 L15.37,471.97 L15.89,470.97 L16.40,469.99 L16.91,469.15 L17.43,469.48 L17.94,468.02 L18.45,467.29 L18.97,465.66 L19.48,463.81 L19.99,462.37 L20.51,459.27 L21.02,458.80 L21.53,456.96 L22.05,453.97 L22.56,451.52 L23.07,447.03 L23.59,443.82 L24.10,443.95 L24.61,445.11 L25.13,444.57 L25.64,438.26 L26.15,438.04 L26.67,437.43 L27.18,442.04 L27.69,441.96 L28.21,443.64 L28.72,448.71 L29.23,451.47 L29.75,452.40 L30.26,454.47 L30.77,459.27 L31.29,459.98 L31.80,463.06 L32.31,465.53 L32.83,468.03 L33.34,469.54 L33.85,470.71 L34.37,471.84 L34.88,472.95 L35.39,473.84 L35.91,474.04 L36.42,474.44 L36.93,474.62 L37.45,474.90 L37.96,474.85 L38.47,474.96 L38.99,474.93 L39.50,475.00 L40.01,475.09 L40.53,475.15 L41.04,475.13 L41.55,475.09 L42.07,475.16 L42.58,475.03 L43.09,475.11 L43.61,475.01 L44.12,475.20 L44.63,475.19 L45.15,475.03 L45.66,475.23 L46.17,475.18 L46.69,475.15 L47.20,475.15 L47.71,475.28 L48.23,475.26 L48.74,475.29 L49.25,475.29 L49.77,475.22 L50.28,475.26 L50.79,475.28 L51.31,475.32 L51.82,475.21 L52.33,475.30 L52.85,475.34 L53.36,475.35 L53.87,475.25 L54.39,475.37 L54.90,475.28 L55.41,475.22 L55.93,475.39 L56.44,475.41 L56.95,475.41 L57.47,475.37 L57.98,475.39 L58.49,475.33 L59.01,475.38 L59.52,475.45 L60.03,475.20 L60.55,475.42 L61.06,475.33 L61.57,475.35 L62.09,475.46 L62.60,475.37 L63.11,475.47 L63.63,475.42 L64.14,475.44 L64.65,475.40 L65.17,475.42 L65.68,475.34 L66.19,475.45 L66.71,475.31 L67.22,475.30 L67.73,475.31 L68.25,475.31 L68.76,475.46 L69.27,475.35 L69.79,475.50 L70.30,475.34 L70.81,475.39 L71.33,475.45 L71.84,475.40 L72.35,475.42 L72.87,475.41 L73.38,475.29 L73.89,475.39 L74.41,475.43 L74.92,475.49 L75.43,475.37 L75.95,475.35 L76.46,475.51 L76.97,475.39 L77.49,475.49 L78.00,475.43 L78.51,475.51 L79.03,475.54 L79.54,475.54 L80.05,475.46 L80.57,475.54 L81.08,475.50 L81.59,475.42 L82.11,475.31 L82.62,475.30 L83.13,475.40 L83.65,475.35 L84.16,475.56 L84.67,475.41 L85.19,475.36 L85.70,475.38" fill="none" stroke="#202040" stroke-width="0.6" stroke-linejoin="round"/><rect x="8.20" y="430.50" width="78.00" height="45.50" fill="none" stroke="#a0a0a0" stroke-width="0.8"/><line x1="8.20" y1="430.50" x2="8.20" y2="476.00" stroke="#888" stroke-width="0.8" /><line x1="7.20" y1="476.00" x2="8.20" y2="476.00" stroke="#777" stroke-width="0.4" /><rect x="4.80" y="475.15" width="1.10" height="1.70" fill="#666" /><line x1="7.20" y1="468.53" x2="8.20" y2="468.53" stroke="#777" stroke-width="0.4" /><rect x="4.80" y="467.68" width="1.10" height="1.70" fill="#666" /><line x1="7.20" y1="461.06" x2="8.20" y2="461.06" stroke="#777" stroke-width="0.4" /><rect x="4.80" y="460.21" width="1.10" height="1.70" fill="#666" /><line x1="7.20" y1="453.59" x2="8.20" y2="453.59" stroke="#777" stroke-width="0.4" /><rect x="4.80" y="452.74" width="1.10" height="1.70" fill="#666" /><line x1="7.20" y1="446.12" x2="8.20" y2="446.12" stroke="#777" stroke-width="0.4" /><rect x="4.80" y="445.27" width="1.10" height="1.70" fill="#666" /><line x1="7.20" y1="438.65" x2="8.20" y2="438.65" stroke="#777" stroke-width="0.4" /><rect x="4.80" y="437.80" width="1.10" height="1.70" fill="#666" /><line x1="7.20" y1="431.18" x2="8.20" y2="431.18" stroke="#777" stroke-width="0.4" /><rect x="4.80" y="430.33" width="1.10" height="1.70" fill="#666" /><rect x="2.60" y="450.85" width="0.90" height="4.80" fill="#9a9a9a" /><line x1="8.80" y1="476.00" x2="8.80" y2="476.80" stroke="#777" stroke-width="0.4" /><rect x="7.50" y="477.20" width="2.60" height="1.40" fill="#777" /><line x1="31.80" y1="476.00" x2="31.80" y2="476.80" stroke="#777" stroke-width="0.4" /><rect x="30.50" y="477.20" width="2.60" height="1.40" fill="#777" /><line x1="55.00" y1="476.00" x2="55.00" y2="476.80" stroke="#777" stroke-width="0.4" /><rect x="53.70" y="477.20" width="2.60" height="1.40" fill="#777" /><line x1="78.20" y1="476.00" x2="78.20" y2="476.80" stroke="#777" stroke-width="0.4" /><rect x="76.90" y="477.20" width="2.60" height="1.40" fill="#777" /><rect x="52.60" y="480.20" width="4.80" height="1.30" fill="#9a9a9a" /><text x="65.30" y="440.70" font-size="8.8" fill="#000" stroke="#000" stroke-width="0.38" textLength="18.20" lengthAdjust="spacingAndGlyphs">Ly18</text><path d="M95.20,475.55 L95.71,475.36 L96.23,475.38 L96.74,475.40 L97.25,475.50 L97.77,475.53 L98.28,475.48 L98.79,475.52 L99.31,475.39 L99.82,475.53 L100.33,475.40 L100.85,475.53 L101.36,475.35 L101.87,475.41 L102.39,475.35 L102.90,475.42 L103.41,475.38 L103.93,475.46 L104.44,475.38 L104.95,475.40 L105.47,475.45 L105.98,475.49 L106.49,475.56 L107.01,475.39 L107.52,475.50 L108.03,475.51 L108.55,475.53 L109.06,475.42 L109.57,475.49 L110.09,475.50 L110.60,475.58 L111.11,475.39 L111.63,475.56 L112.14,475.57 L112.65,475.55 L113.17,475.39 L113.68,475.46 L114.19,475.40 L114.71,475.50 L115.22,475.54 L115.73,475.37 L116.25,475.48 L116.76,475.58 L117.27,475.60 L117.79,475.49 L118.30,475.42 L118.81,475.54 L119.33,475.47 L119.84,475.59 L120.35,475.38 L120.87,475.40 L121.38,475.53 L121.89,475.46 L122.41,475.53 L122.92,475.39 L123.43,475.40 L123.95,475.42 L124.46,475.35 L124.97,475.53 L125.49,475.41 L126.00,475.50 L126.51,475.37 L127.03,475.41 L127.54,475.42 L128.05,475.35 L128.57,475.47 L129.08,475.23 L129.59,475.39 L130.11,475.37 L130.62,475.16 L131.13,475.07 L131.65,474.91 L132.16,474.87 L132.67,474.42 L133.19,474.40 L133.70,473.99 L134.21,473.70 L134.73,473.67 L135.24,472.90 L135.75,472.62 L136.27,471.31 L136.78,470.72 L137.29,470.18 L137.81,469.37 L138.32,468.65 L138.83,466.34 L139.35,465.83 L139.86,465.92 L140.37,462.06 L140.89,461.86 L141.40,461.38 L141.91,459.78 L142.43,457.33 L142.94,457.56 L143.45,457.02 L143.97,452.50 L144.48,455.35 L144.99,454.83 L145.51,448.82 L146.02,450.06 L146.53,449.48 L147.05,450.40 L147.56,450.65 L148.07,451.43 L148.59,455.50 L149.10,454.07 L149.61,454.66 L150.13,453.96 L150.64,456.04 L151.15,455.85 L151.67,461.01 L152.18,459.60 L152.69,461.54 L153.21,462.08 L153.72,463.82 L154.23,466.77 L154.75,467.40 L155.26,468.74 L155.77,470.13 L156.29,470.79 L156.80,471.55 L157.31,471.70 L157.83,472.67 L158.34,473.33 L158.85,473.60 L159.37,474.00 L159.88,474.20 L160.39,474.26 L160.91,474.65 L161.42,474.83 L161.93,475.07 L162.45,475.00 L162.96,475.19 L163.47,475.20 L163.99,475.41 L164.50,475.42 L165.01,475.49 L165.53,475.35 L166.04,475.45 L166.55,475.40 L167.07,475.45 L167.58,475.58 L168.09,475.36 L168.61,475.35 L169.12,475.41 L169.63,475.58 L170.15,475.36 L170.66,475.57 L171.17,475.40 L171.69,475.41 L172.20,475.43" fill="none" stroke="#90d890" stroke-width="0.8" stroke-linejoin="round" stroke-dasharray="1.2,0.8"/><path d="M95.20,475.43 L95.71,475.46 L96.23,475.56 L96.74,475.43 L97.25,475.41 L97.77,475.34 L98.28,475.32 L98.79,475.43 L99.31,475.48 L99.82,475.36 L100.33,475.08 L100.85,475.05 L101.36,475.00 L101.87,474.69 L102.39,474.42 L102.90,473.97 L103.41,473.58 L103.93,473.22 L104.44,472.37 L104.95,471.25 L105.47,470.75 L105.98,468.37 L106.49,467.51 L107.01,466.46 L107.52,464.76 L108.03,461.14 L108.55,460.24 L109.06,459.28 L109.57,456.48 L110.09,455.17 L110.60,450.93 L111.11,449.61 L111.63,444.41 L112.14,443.84 L112.65,442.11 L113.17,437.86 L113.68,443.86 L114.19,439.54 L114.71,439.92 L115.22,444.83 L115.73,445.98 L116.25,442.58 L116.76,444.23 L117.27,451.14 L117.79,451.24 L118.30,452.38 L118.81,457.17 L119.33,459.93 L119.84,459.94 L120.35,463.39 L120.87,465.99 L121.38,467.29 L121.89,467.98 L122.41,469.54 L122.92,471.10 L123.43,472.25 L123.95,472.84 L124.46,473.38 L124.97,473.82 L125.49,474.12 L126.00,474.34 L126.51,474.53 L127.03,474.68 L127.54,474.89 L128.05,474.97 L128.57,475.03 L129.08,475.04 L129.59,475.03 L130.11,475.18 L130.62,475.21 L131.13,475.07 L131.65,475.13 L132.16,475.16 L132.67,475.18 L133.19,475.22 L133.70,475.10 L134.21,475.32 L134.73,475.10 L135.24,475.33 L135.75,475.21 L136.27,475.24 L136.78,475.07 L137.29,475.24 L137.81,475.36 L138.32,475.17 L138.83,475.25 L139.35,475.21 L139.86,475.25 L140.37,475.29 L140.89,475.15 L141.40,475.34 L141.91,475.23 L142.43,475.28 L142.94,475.17 L143.45,475.33 L143.97,475.40 L144.48,475.37 L144.99,475.22 L145.51,475.36 L146.02,475.27 L146.53,475.33 L147.05,475.23 L147.56,475.32 L148.07,475.43 L148.59,475.36 L149.10,475.32 L149.61,475.33 L150.13,475.38 L150.64,475.27 L151.15,475.41 L151.67,475.39 L152.18,475.40 L152.69,475.42 L153.21,475.26 L153.72,475.36 L154.23,475.42 L154.75,475.41 L155.26,475.45 L155.77,475.45 L156.29,475.44 L156.80,475.42 L157.31,475.27 L157.83,475.40 L158.34,475.44 L158.85,475.48 L159.37,475.49 L159.88,475.41 L160.39,475.28 L160.91,475.38 L161.42,475.47 L161.93,475.30 L162.45,475.48 L162.96,475.43 L163.47,475.53 L163.99,475.39 L164.50,475.46 L165.01,475.37 L165.53,475.52 L166.04,475.47 L166.55,475.36 L167.07,475.32 L167.58,475.39 L168.09,475.42 L168.61,475.29 L169.12,475.36 L169.63,475.52 L170.15,475.42 L170.66,475.43 L171.17,475.32 L171.69,475.35 L172.20,475.45" fill="none" stroke="#1c24a8" stroke-width="1.05" stroke-linejoin="round"/><path d="M95.20,475.46 L95.71,475.39 L96.23,475.56 L96.74,475.58 L97.25,475.39 L97.77,475.53 L98.28,475.35 L98.79,475.43 L99.31,475.30 L99.82,475.28 L100.33,475.22 L100.85,475.16 L101.36,475.02 L101.87,474.88 L102.39,474.86 L102.90,474.33 L103.41,473.96 L103.93,473.74 L104.44,473.35 L104.95,472.51 L105.47,471.49 L105.98,470.87 L106.49,468.87 L107.01,468.69 L107.52,465.93 L108.03,465.49 L108.55,463.40 L109.06,461.45 L109.57,458.48 L110.09,454.58 L110.60,455.68 L111.11,449.12 L111.63,447.57 L112.14,444.64 L112.65,446.93 L113.17,444.49 L113.68,441.49 L114.19,440.31 L114.71,443.52 L115.22,441.09 L115.73,447.50 L116.25,448.80 L116.76,449.30 L117.27,448.79 L117.79,451.65 L118.30,454.62 L118.81,457.12 L119.33,457.69 L119.84,458.86 L120.35,462.53 L120.87,464.63 L121.38,467.41 L121.89,468.57 L122.41,470.01 L122.92,470.22 L123.43,471.72 L123.95,472.06 L124.46,472.81 L124.97,473.29 L125.49,473.96 L126.00,474.31 L126.51,474.48 L127.03,474.56 L127.54,474.85 L128.05,474.81 L128.57,474.96 L129.08,474.94 L129.59,474.94 L130.11,475.13 L130.62,474.98 L131.13,475.05 L131.65,475.01 L132.16,475.14 L132.67,475.06 L133.19,475.15 L133.70,475.12 L134.21,475.05 L134.73,475.34 L135.24,475.05 L135.75,475.07 L136.27,475.27 L136.78,475.15 L137.29,475.31 L137.81,475.17 L138.32,475.35 L138.83,475.20 L139.35,475.20 L139.86,475.38 L140.37,475.12 L140.89,475.19 L141.40,475.13 L141.91,475.40 L142.43,475.38 L142.94,475.35 L143.45,475.34 L143.97,475.31 L144.48,475.23 L144.99,475.35 L145.51,475.38 L146.02,475.40 L146.53,475.23 L147.05,475.38 L147.56,475.28 L148.07,475.43 L148.59,475.45 L149.10,475.43 L149.61,475.44 L150.13,475.40 L150.64,475.31 L151.15,475.36 L151.67,475.40 L152.18,475.34 L152.69,475.25 L153.21,475.43 L153.72,475.48 L154.23,475.29 L154.75,475.44 L155.26,475.46 L155.77,475.26 L156.29,475.34 L156.80,475.49 L157.31,475.45 L157.83,475.52 L158.34,475.27 L158.85,475.49 L159.37,475.40 L159.88,475.43 L160.39,475.33 L160.91,475.31 L161.42,475.33 L161.93,475.39 L162.45,475.41 L162.96,475.35 L163.47,475.52 L163.99,475.41 L164.50,475.51 L165.01,475.42 L165.53,475.45 L166.04,475.32 L166.55,475.51 L167.07,475.28 L167.58,475.44 L168.09,475.38 L168.61,475.37 L169.12,475.33 L169.63,475.42 L170.15,475.36 L170.66,475.41 L171.17,475.50 L171.69,475.47 L172.20,475.52" fill="none" stroke="#202040" stroke-width="0.6" stroke-linejoin="round"/><rect x="94.70" y="430.50" width="78.00" height="45.50" fill="none" stroke="#a0a0a0" stroke-width="0.8"/><line x1="94.70" y1="430.50" x2="94.70" y2="476.00" stroke="#888" stroke-width="0.8" /><line x1="93.70" y1="476.00" x2="94.70" y2="476.00" stroke="#777" stroke-width="0.4" /><rect x="91.30" y="475.15" width="1.10" height="1.70" fill="#666" /><line x1="93.70" y1="468.53" x2="94.70" y2="468.53" stroke="#777" stroke-width="0.4" /><rect x="91.30" y="467.68" width="1.10" height="1.70" fill="#666" /><line x1="93.70" y1="461.06" x2="94.70" y2="461.06" stroke="#777" stroke-width="0.4" /><rect x="91.30" y="460.21" width="1.10" height="1.70" fill="#666" /><line x1="93.70" y1="453.59" x2="94.70" y2="453.59" stroke="#777" stroke-width="0.4" /><rect x="91.30" y="452.74" width="1.10" height="1.70" fill="#666" /><line x1="93.70" y1="446.12" x2="94.70" y2="446.12" stroke="#777" stroke-width="0.4" /><rect x="91.30" y="445.27" width="1.10" height="1.70" fill="#666" /><line x1="93.70" y1="438.65" x2="94.70" y2="438.65" stroke="#777" stroke-width="0.4" /><rect x="91.30" y="437.80" width="1.10" height="1.70" fill="#666" /><line x1="93.70" y1="431.18" x2="94.70" y2="431.18" stroke="#777" stroke-width="0.4" /><rect x="91.30" y="430.33" width="1.10" height="1.70" fill="#666" /><rect x="89.10" y="450.85" width="0.90" height="4.80" fill="#9a9a9a" /><line x1="95.30" y1="476.00" x2="95.30" y2="476.80" stroke="#777" stroke-width="0.4" /><rect x="94.00" y="477.20" width="2.60" height="1.40" fill="#777" /><line x1="118.30" y1="476.00" x2="118.30" y2="476.80" stroke="#777" stroke-width="0.4" /><rect x="117.00" y="477.20" width="2.60" height="1.40" fill="#777" /><line x1="141.50" y1="476.00" x2="141.50" y2="476.80" stroke="#777" stroke-width="0.4" /><rect x="140.20" y="477.20" width="2.60" height="1.40" fill="#777" /><line x1="164.70" y1="476.00" x2="164.70" y2="476.80" stroke="#777" stroke-width="0.4" /><rect x="163.40" y="477.20" width="2.60" height="1.40" fill="#777" /><rect x="139.10" y="480.20" width="4.80" height="1.30" fill="#9a9a9a" /><text x="157.60" y="440.70" font-size="8.8" fill="#000" stroke="#000" stroke-width="0.38" textLength="11.30" lengthAdjust="spacingAndGlyphs">Val</text><path d="M181.50,475.49 L182.01,475.54 L182.53,475.38 L183.04,475.46 L183.55,475.37 L184.07,475.56 L184.58,475.46 L185.09,475.59 L185.61,475.56 L186.12,475.55 L186.63,475.37 L187.15,475.39 L187.66,475.60 L188.17,475.58 L188.69,475.46 L189.20,475.44 L189.71,475.45 L190.23,475.41 L190.74,475.39 L191.25,475.46 L191.77,475.60 L192.28,475.37 L192.79,475.36 L193.31,475.56 L193.82,475.38 L194.33,475.39 L194.85,475.42 L195.36,475.56 L195.87,475.41 L196.39,475.36 L196.90,475.36 L197.41,475.35 L197.93,475.57 L198.44,475.56 L198.95,475.42 L199.47,475.37 L199.98,475.37 L200.49,475.54 L201.01,475.55 L201.52,475.39 L202.03,475.39 L202.55,475.52 L203.06,475.49 L203.57,475.40 L204.09,475.38 L204.60,475.35 L205.11,475.50 L205.63,475.37 L206.14,475.38 L206.65,475.55 L207.17,475.49 L207.68,475.35 L208.19,475.29 L208.71,475.37 L209.22,475.30 L209.73,475.05 L210.25,475.04 L210.76,474.89 L211.27,474.61 L211.79,474.42 L212.30,474.23 L212.81,473.44 L213.33,473.28 L213.84,472.64 L214.35,472.27 L214.87,471.47 L215.38,469.84 L215.89,469.73 L216.41,468.69 L216.92,466.27 L217.43,465.68 L217.95,464.01 L218.46,464.33 L218.97,462.97 L219.49,458.68 L220.00,458.53 L220.51,456.74 L221.03,457.60 L221.54,456.82 L222.05,454.64 L222.57,451.77 L223.08,453.10 L223.59,450.38 L224.11,449.80 L224.62,449.29 L225.13,450.26 L225.65,453.19 L226.16,455.28 L226.67,456.14 L227.19,453.39 L227.70,454.90 L228.21,456.24 L228.73,459.23 L229.24,460.12 L229.75,460.23 L230.27,462.38 L230.78,463.99 L231.29,467.04 L231.81,467.60 L232.32,469.02 L232.83,469.87 L233.35,470.46 L233.86,471.42 L234.37,472.44 L234.89,473.09 L235.40,473.19 L235.91,473.67 L236.43,474.27 L236.94,474.59 L237.45,474.58 L237.97,474.86 L238.48,475.03 L238.99,475.17 L239.51,475.24 L240.02,475.40 L240.53,475.31 L241.05,475.34 L241.56,475.29 L242.07,475.29 L242.59,475.34 L243.10,475.47 L243.61,475.40 L244.13,475.51 L244.64,475.37 L245.15,475.54 L245.67,475.51 L246.18,475.39 L246.69,475.34 L247.21,475.59 L247.72,475.35 L248.23,475.40 L248.75,475.43 L249.26,475.37 L249.77,475.47 L250.29,475.55 L250.80,475.55 L251.31,475.37 L251.83,475.40 L252.34,475.48 L252.85,475.41 L253.37,475.40 L253.88,475.59 L254.39,475.35 L254.91,475.43 L255.42,475.46 L255.93,475.39 L256.45,475.38 L256.96,475.36 L257.47,475.56 L257.99,475.50 L258.50,475.60" fill="none" stroke="#90d890" stroke-width="0.8" stroke-linejoin="round" stroke-dasharray="1.2,0.8"/><path d="M181.50,475.38 L182.01,475.37 L182.53,475.26 L183.04,475.12 L183.55,474.86 L184.07,474.46 L184.58,474.29 L185.09,473.75 L185.61,473.55 L186.12,472.51 L186.63,471.64 L187.15,470.98 L187.66,469.67 L188.17,468.30 L188.69,466.39 L189.20,463.91 L189.71,462.13 L190.23,459.70 L190.74,457.43 L191.25,456.66 L191.77,454.05 L192.28,454.53 L192.79,451.46 L193.31,453.66 L193.82,452.42 L194.33,449.37 L194.85,450.32 L195.36,454.08 L195.87,451.99 L196.39,454.72 L196.90,456.26 L197.41,459.77 L197.93,461.47 L198.44,462.31 L198.95,464.32 L199.47,466.20 L199.98,468.51 L200.49,469.31 L201.01,471.12 L201.52,471.75 L202.03,472.69 L202.55,473.63 L203.06,474.11 L203.57,474.46 L204.09,474.85 L204.60,474.97 L205.11,475.11 L205.63,475.26 L206.14,475.31 L206.65,475.37 L207.17,475.29 L207.68,475.53 L208.19,475.44 L208.71,475.52 L209.22,475.38 L209.73,475.44 L210.25,475.42 L210.76,475.41 L211.27,475.38 L211.79,475.53 L212.30,475.39 L212.81,475.58 L213.33,475.51 L213.84,475.37 L214.35,475.45 L214.87,475.55 L215.38,475.42 L215.89,475.57 L216.41,475.37 L216.92,475.51 L217.43,475.55 L217.95,475.37 L218.46,475.34 L218.97,475.44 L219.49,475.34 L220.00,475.37 L220.51,475.56 L221.03,475.46 L221.54,475.56 L222.05,475.54 L222.57,475.53 L223.08,475.44 L223.59,475.48 L224.11,475.34 L224.62,475.58 L225.13,475.47 L225.65,475.47 L226.16,475.36 L226.67,475.56 L227.19,475.44 L227.70,475.57 L228.21,475.43 L228.73,475.42 L229.24,475.51 L229.75,475.48 L230.27,475.58 L230.78,475.41 L231.29,475.42 L231.81,475.55 L232.32,475.57 L232.83,475.58 L233.35,475.47 L233.86,475.39 L234.37,475.49 L234.89,475.39 L235.40,475.46 L235.91,475.49 L236.43,475.49 L236.94,475.50 L237.45,475.35 L237.97,475.42 L238.48,475.36 L238.99,475.42 L239.51,475.52 L240.02,475.44 L240.53,475.47 L241.05,475.35 L241.56,475.42 L242.07,475.51 L242.59,475.35 L243.10,475.42 L243.61,475.39 L244.13,475.35 L244.64,475.51 L245.15,475.41 L245.67,475.46 L246.18,475.35 L246.69,475.59 L247.21,475.59 L247.72,475.58 L248.23,475.57 L248.75,475.39 L249.26,475.48 L249.77,475.46 L250.29,475.54 L250.80,475.47 L251.31,475.46 L251.83,475.46 L252.34,475.56 L252.85,475.47 L253.37,475.39 L253.88,475.46 L254.39,475.46 L254.91,475.43 L255.42,475.55 L255.93,475.33 L256.45,475.39 L256.96,475.57 L257.47,475.35 L257.99,475.48 L258.50,475.42" fill="none" stroke="#f0a0a0" stroke-width="0.6" stroke-linejoin="round" stroke-dasharray="1,1"/><path d="M181.50,475.40 L182.01,475.33 L182.53,475.38 L183.04,475.38 L183.55,475.25 L184.07,475.33 L184.58,475.29 L185.09,474.97 L185.61,475.02 L186.12,474.71 L186.63,474.53 L187.15,473.93 L187.66,473.47 L188.17,472.94 L188.69,471.28 L189.20,471.13 L189.71,469.07 L190.23,467.70 L190.74,465.60 L191.25,463.26 L191.77,461.79 L192.28,459.73 L192.79,455.87 L193.31,452.62 L193.82,452.20 L194.33,448.12 L194.85,443.96 L195.36,442.13 L195.87,442.30 L196.39,443.90 L196.90,442.56 L197.41,441.82 L197.93,443.97 L198.44,442.45 L198.95,446.51 L199.47,446.07 L199.98,449.42 L200.49,452.07 L201.01,457.26 L201.52,459.60 L202.03,462.10 L202.55,464.90 L203.06,466.68 L203.57,467.67 L204.09,470.24 L204.60,470.98 L205.11,472.23 L205.63,473.06 L206.14,473.38 L206.65,474.19 L207.17,474.25 L207.68,474.65 L208.19,474.70 L208.71,474.79 L209.22,474.97 L209.73,475.01 L210.25,475.04 L210.76,475.16 L211.27,475.04 L211.79,474.93 L212.30,475.09 L212.81,475.01 L213.33,475.19 L213.84,475.06 L214.35,475.23 L214.87,475.04 L215.38,475.09 L215.89,475.05 L216.41,475.18 L216.92,475.25 L217.43,475.07 L217.95,475.20 L218.46,475.20 L218.97,475.15 L219.49,475.34 L220.00,475.34 L220.51,475.14 L221.03,475.28 L221.54,475.33 L222.05,475.38 L222.57,475.33 L223.08,475.34 L223.59,475.16 L224.11,475.40 L224.62,475.20 L225.13,475.31 L225.65,475.18 L226.16,475.15 L226.67,475.29 L227.19,475.16 L227.70,475.20 L228.21,475.32 L228.73,475.25 L229.24,475.26 L229.75,475.43 L230.27,475.20 L230.78,475.21 L231.29,475.26 L231.81,475.47 L232.32,475.26 L232.83,475.34 L233.35,475.35 L233.86,475.47 L234.37,475.42 L234.89,475.30 L235.40,475.46 L235.91,475.24 L236.43,475.29 L236.94,475.48 L237.45,475.44 L237.97,475.25 L238.48,475.43 L238.99,475.51 L239.51,475.47 L240.02,475.42 L240.53,475.51 L241.05,475.44 L241.56,475.28 L242.07,475.36 L242.59,475.43 L243.10,475.41 L243.61,475.31 L244.13,475.39 L244.64,475.46 L245.15,475.54 L245.67,475.48 L246.18,475.39 L246.69,475.28 L247.21,475.53 L247.72,475.50 L248.23,475.33 L248.75,475.53 L249.26,475.38 L249.77,475.52 L250.29,475.54 L250.80,475.30 L251.31,475.53 L251.83,475.32 L252.34,475.49 L252.85,475.48 L253.37,475.30 L253.88,475.40 L254.39,475.50 L254.91,475.31 L255.42,475.31 L255.93,475.30 L256.45,475.45 L256.96,475.37 L257.47,475.45 L257.99,475.41 L258.50,475.32" fill="none" stroke="#1c24a8" stroke-width="1.1500000000000001" stroke-linejoin="round"/><path d="M181.50,475.56 L182.01,475.44 L182.53,475.38 L183.04,475.51 L183.55,475.30 L184.07,475.22 L184.58,475.35 L185.09,475.13 L185.61,474.95 L186.12,474.94 L186.63,474.68 L187.15,474.25 L187.66,473.92 L188.17,473.21 L188.69,472.53 L189.20,471.30 L189.71,470.73 L190.23,469.72 L190.74,467.84 L191.25,466.06 L191.77,463.20 L192.28,460.72 L192.79,458.09 L193.31,456.94 L193.82,453.83 L194.33,452.43 L194.85,448.20 L195.36,445.19 L195.87,447.30 L196.39,445.28 L196.90,444.36 L197.41,445.28 L197.93,441.43 L198.44,445.27 L198.95,447.48 L199.47,449.39 L199.98,449.30 L200.49,453.40 L201.01,456.94 L201.52,457.10 L202.03,460.83 L202.55,462.80 L203.06,465.64 L203.57,466.66 L204.09,468.22 L204.60,470.48 L205.11,471.50 L205.63,472.08 L206.14,473.23 L206.65,473.41 L207.17,473.99 L207.68,474.22 L208.19,474.69 L208.71,474.86 L209.22,474.86 L209.73,474.88 L210.25,475.03 L210.76,474.92 L211.27,474.97 L211.79,474.90 L212.30,474.96 L212.81,475.03 L213.33,475.15 L213.84,474.99 L214.35,475.04 L214.87,475.04 L215.38,475.28 L215.89,475.28 L216.41,475.21 L216.92,475.22 L217.43,475.06 L217.95,475.30 L218.46,475.12 L218.97,475.14 L219.49,475.17 L220.00,475.17 L220.51,475.16 L221.03,475.14 L221.54,475.20 L222.05,475.14 L222.57,475.22 L223.08,475.24 L223.59,475.19 L224.11,475.36 L224.62,475.38 L225.13,475.16 L225.65,475.28 L226.16,475.42 L226.67,475.26 L227.19,475.25 L227.70,475.37 L228.21,475.32 L228.73,475.42 L229.24,475.39 L229.75,475.44 L230.27,475.25 L230.78,475.34 L231.29,475.23 L231.81,475.24 L232.32,475.25 L232.83,475.43 L233.35,475.33 L233.86,475.29 L234.37,475.28 L234.89,475.41 L235.40,475.26 L235.91,475.33 L236.43,475.36 L236.94,475.35 L237.45,475.39 L237.97,475.26 L238.48,475.35 L238.99,475.33 L239.51,475.27 L240.02,475.25 L240.53,475.34 L241.05,475.40 L241.56,475.51 L242.07,475.28 L242.59,475.48 L243.10,475.33 L243.61,475.30 L244.13,475.34 L244.64,475.38 L245.15,475.48 L245.67,475.41 L246.18,475.28 L246.69,475.42 L247.21,475.51 L247.72,475.47 L248.23,475.53 L248.75,475.47 L249.26,475.40 L249.77,475.32 L250.29,475.29 L250.80,475.50 L251.31,475.43 L251.83,475.46 L252.34,475.51 L252.85,475.46 L253.37,475.33 L253.88,475.55 L254.39,475.55 L254.91,475.54 L255.42,475.55 L255.93,475.34 L256.45,475.56 L256.96,475.52 L257.47,475.41 L257.99,475.48 L258.50,475.55" fill="none" stroke="#202040" stroke-width="0.6" stroke-linejoin="round"/><rect x="181.00" y="430.50" width="78.00" height="45.50" fill="none" stroke="#a0a0a0" stroke-width="0.8"/><line x1="181.00" y1="430.50" x2="181.00" y2="476.00" stroke="#888" stroke-width="0.8" /><line x1="180.00" y1="476.00" x2="181.00" y2="476.00" stroke="#777" stroke-width="0.4" /><rect x="177.60" y="475.15" width="1.10" height="1.70" fill="#666" /><line x1="180.00" y1="468.53" x2="181.00" y2="468.53" stroke="#777" stroke-width="0.4" /><rect x="177.60" y="467.68" width="1.10" height="1.70" fill="#666" /><line x1="180.00" y1="461.06" x2="181.00" y2="461.06" stroke="#777" stroke-width="0.4" /><rect x="177.60" y="460.21" width="1.10" height="1.70" fill="#666" /><line x1="180.00" y1="453.59" x2="181.00" y2="453.59" stroke="#777" stroke-width="0.4" /><rect x="177.60" y="452.74" width="1.10" height="1.70" fill="#666" /><line x1="180.00" y1="446.12" x2="181.00" y2="446.12" stroke="#777" stroke-width="0.4" /><rect x="177.60" y="445.27" width="1.10" height="1.70" fill="#666" /><line x1="180.00" y1="438.65" x2="181.00" y2="438.65" stroke="#777" stroke-width="0.4" /><rect x="177.60" y="437.80" width="1.10" height="1.70" fill="#666" /><line x1="180.00" y1="431.18" x2="181.00" y2="431.18" stroke="#777" stroke-width="0.4" /><rect x="177.60" y="430.33" width="1.10" height="1.70" fill="#666" /><rect x="175.40" y="450.85" width="0.90" height="4.80" fill="#9a9a9a" /><line x1="181.60" y1="476.00" x2="181.60" y2="476.80" stroke="#777" stroke-width="0.4" /><rect x="180.30" y="477.20" width="2.60" height="1.40" fill="#777" /><line x1="204.60" y1="476.00" x2="204.60" y2="476.80" stroke="#777" stroke-width="0.4" /><rect x="203.30" y="477.20" width="2.60" height="1.40" fill="#777" /><line x1="227.80" y1="476.00" x2="227.80" y2="476.80" stroke="#777" stroke-width="0.4" /><rect x="226.50" y="477.20" width="2.60" height="1.40" fill="#777" /><line x1="251.00" y1="476.00" x2="251.00" y2="476.80" stroke="#777" stroke-width="0.4" /><rect x="249.70" y="477.20" width="2.60" height="1.40" fill="#777" /><rect x="225.40" y="480.20" width="4.80" height="1.30" fill="#9a9a9a" /><text x="229.00" y="440.70" font-size="8.8" fill="#000" stroke="#000" stroke-width="0.38" textLength="26.60" lengthAdjust="spacingAndGlyphs">Ramos</text><path d="M267.40,475.59 L267.91,475.55 L268.43,475.60 L268.94,475.45 L269.45,475.36 L269.97,475.53 L270.48,475.40 L270.99,475.55 L271.51,475.50 L272.02,475.40 L272.53,475.46 L273.05,475.53 L273.56,475.37 L274.07,475.40 L274.59,475.45 L275.10,475.43 L275.61,475.57 L276.13,475.51 L276.64,475.37 L277.15,475.49 L277.67,475.45 L278.18,475.46 L278.69,475.38 L279.21,475.52 L279.72,475.53 L280.23,475.42 L280.75,475.51 L281.26,475.41 L281.77,475.41 L282.29,475.48 L282.80,475.55 L283.31,475.56 L283.83,475.34 L284.34,475.50 L284.85,475.36 L285.37,475.43 L285.88,475.52 L286.39,475.50 L286.91,475.41 L287.42,475.35 L287.93,475.56 L288.45,475.44 L288.96,475.45 L289.47,475.59 L289.99,475.37 L290.50,475.33 L291.01,475.59 L291.53,475.44 L292.04,475.46 L292.55,475.52 L293.07,475.53 L293.58,475.55 L294.09,475.37 L294.61,475.34 L295.12,475.42 L295.63,475.55 L296.15,475.53 L296.66,475.47 L297.17,475.52 L297.69,475.58 L298.20,475.34 L298.71,475.45 L299.23,475.36 L299.74,475.43 L300.25,475.55 L300.77,475.55 L301.28,475.47 L301.79,475.39 L302.31,475.40 L302.82,475.35 L303.33,475.51 L303.85,475.50 L304.36,475.31 L304.87,475.36 L305.39,475.35 L305.90,475.19 L306.41,475.08 L306.93,475.12 L307.44,475.19 L307.95,475.03 L308.47,474.67 L308.98,474.51 L309.49,474.33 L310.01,474.02 L310.52,473.32 L311.03,472.86 L311.55,472.22 L312.06,471.65 L312.57,470.50 L313.09,469.39 L313.60,468.53 L314.11,466.95 L314.63,466.64 L315.14,463.70 L315.65,463.75 L316.17,460.28 L316.68,460.06 L317.19,458.73 L317.71,454.84 L318.22,455.18 L318.73,451.64 L319.25,452.02 L319.76,451.01 L320.27,449.11 L320.79,449.90 L321.30,444.34 L321.81,448.38 L322.33,447.63 L322.84,443.42 L323.35,443.84 L323.87,445.34 L324.38,447.85 L324.89,448.64 L325.41,451.96 L325.92,450.87 L326.43,452.77 L326.95,453.29 L327.46,456.84 L327.97,458.71 L328.49,460.26 L329.00,462.29 L329.51,464.19 L330.03,464.91 L330.54,465.87 L331.05,467.91 L331.57,468.44 L332.08,469.94 L332.59,471.15 L333.11,471.37 L333.62,472.40 L334.13,472.74 L334.65,473.39 L335.16,473.76 L335.67,474.28 L336.19,474.40 L336.70,474.77 L337.21,475.08 L337.73,475.07 L338.24,475.25 L338.75,475.30 L339.27,475.22 L339.78,475.24 L340.29,475.45 L340.81,475.53 L341.32,475.31 L341.83,475.52 L342.35,475.32 L342.86,475.44 L343.37,475.37 L343.89,475.56 L344.40,475.36" fill="none" stroke="#90d890" stroke-width="0.8" stroke-linejoin="round" stroke-dasharray="1.2,0.8"/><path d="M267.40,475.42 L267.91,475.47 L268.43,475.38 L268.94,475.57 L269.45,475.45 L269.97,475.46 L270.48,475.53 L270.99,475.51 L271.51,475.35 L272.02,475.37 L272.53,475.56 L273.05,475.33 L273.56,475.46 L274.07,475.49 L274.59,475.28 L275.10,475.39 L275.61,475.32 L276.13,475.32 L276.64,475.11 L277.15,474.81 L277.67,474.60 L278.18,474.26 L278.69,473.50 L279.21,472.88 L279.72,471.55 L280.23,469.97 L280.75,469.11 L281.26,467.36 L281.77,464.64 L282.29,462.48 L282.80,458.66 L283.31,457.49 L283.83,451.25 L284.34,447.79 L284.85,444.50 L285.37,440.47 L285.88,437.51 L286.39,436.97 L286.91,433.26 L287.42,431.58 L287.93,435.83 L288.45,432.44 L288.96,431.12 L289.47,433.71 L289.99,436.62 L290.50,441.80 L291.01,447.62 L291.53,449.31 L292.04,452.13 L292.55,457.53 L293.07,459.69 L293.58,463.42 L294.09,466.11 L294.61,468.53 L295.12,470.09 L295.63,471.26 L296.15,472.50 L296.66,473.13 L297.17,473.66 L297.69,474.17 L298.20,474.42 L298.71,474.63 L299.23,474.83 L299.74,474.96 L300.25,474.80 L300.77,474.86 L301.28,475.16 L301.79,475.05 L302.31,475.16 L302.82,475.09 L303.33,475.13 L303.85,474.95 L304.36,475.21 L304.87,475.10 L305.39,475.15 L305.90,475.20 L306.41,475.07 L306.93,475.16 L307.44,475.06 L307.95,475.20 L308.47,475.21 L308.98,475.17 L309.49,475.22 L310.01,475.09 L310.52,475.27 L311.03,475.17 L311.55,475.14 L312.06,475.30 L312.57,475.13 L313.09,475.25 L313.60,475.21 L314.11,475.20 L314.63,475.20 L315.14,475.29 L315.65,475.25 L316.17,475.20 L316.68,475.26 L317.19,475.20 L317.71,475.33 L318.22,475.39 L318.73,475.21 L319.25,475.23 L319.76,475.21 L320.27,475.40 L320.79,475.37 L321.30,475.43 L321.81,475.41 L322.33,475.39 L322.84,475.34 L323.35,475.45 L323.87,475.34 L324.38,475.36 L324.89,475.47 L325.41,475.42 L325.92,475.46 L326.43,475.48 L326.95,475.36 L327.46,475.40 L327.97,475.40 L328.49,475.47 L329.00,475.31 L329.51,475.45 L330.03,475.50 L330.54,475.52 L331.05,475.48 L331.57,475.49 L332.08,475.48 L332.59,475.38 L333.11,475.26 L333.62,475.37 L334.13,475.35 L334.65,475.26 L335.16,475.40 L335.67,475.52 L336.19,475.36 L336.70,475.42 L337.21,475.51 L337.73,475.54 L338.24,475.52 L338.75,475.41 L339.27,475.31 L339.78,475.47 L340.29,475.31 L340.81,475.35 L341.32,475.47 L341.83,475.55 L342.35,475.34 L342.86,475.53 L343.37,475.38 L343.89,475.38 L344.40,475.56" fill="none" stroke="#1c24a8" stroke-width="1.1500000000000001" stroke-linejoin="round"/><path d="M267.40,475.37 L267.91,475.54 L268.43,475.40 L268.94,475.45 L269.45,475.44 L269.97,475.57 L270.48,475.34 L270.99,475.57 L271.51,475.34 L272.02,475.47 L272.53,475.57 L273.05,475.50 L273.56,475.40 L274.07,475.39 L274.59,475.34 L275.10,475.23 L275.61,475.25 L276.13,475.26 L276.64,474.95 L277.15,474.96 L277.67,474.68 L278.18,474.29 L278.69,473.75 L279.21,473.04 L279.72,472.20 L280.23,471.00 L280.75,470.24 L281.26,468.05 L281.77,465.76 L282.29,464.11 L282.80,460.49 L283.31,458.97 L283.83,458.19 L284.34,452.28 L284.85,453.23 L285.37,448.63 L285.88,445.93 L286.39,443.37 L286.91,441.35 L287.42,438.50 L287.93,440.09 L288.45,440.19 L288.96,443.93 L289.47,443.22 L289.99,445.14 L290.50,447.24 L291.01,451.60 L291.53,456.47 L292.04,459.00 L292.55,462.20 L293.07,464.60 L293.58,466.08 L294.09,468.06 L294.61,469.58 L295.12,471.52 L295.63,472.29 L296.15,473.26 L296.66,473.96 L297.17,474.23 L297.69,474.47 L298.20,474.63 L298.71,474.85 L299.23,474.93 L299.74,474.85 L300.25,475.04 L300.77,474.85 L301.28,475.19 L301.79,475.17 L302.31,474.93 L302.82,475.04 L303.33,475.01 L303.85,475.04 L304.36,475.14 L304.87,475.12 L305.39,475.20 L305.90,475.11 L306.41,475.26 L306.93,475.09 L307.44,475.08 L307.95,475.11 L308.47,475.34 L308.98,475.15 L309.49,475.30 L310.01,475.22 L310.52,475.28 L311.03,475.15 L311.55,475.09 L312.06,475.36 L312.57,475.31 L313.09,475.26 L313.60,475.28 L314.11,475.37 L314.63,475.12 L315.14,475.31 L315.65,475.23 L316.17,475.21 L316.68,475.20 L317.19,475.37 L317.71,475.25 L318.22,475.36 L318.73,475.36 L319.25,475.23 L319.76,475.30 L320.27,475.23 L320.79,475.23 L321.30,475.36 L321.81,475.46 L322.33,475.33 L322.84,475.28 L323.35,475.34 L323.87,475.35 L324.38,475.43 L324.89,475.41 L325.41,475.46 L325.92,475.27 L326.43,475.39 L326.95,475.37 L327.46,475.40 L327.97,475.32 L328.49,475.46 L329.00,475.27 L329.51,475.26 L330.03,475.31 L330.54,475.34 L331.05,475.48 L331.57,475.28 L332.08,475.50 L332.59,475.37 L333.11,475.40 L333.62,475.37 L334.13,475.36 L334.65,475.33 L335.16,475.41 L335.67,475.30 L336.19,475.32 L336.70,475.45 L337.21,475.46 L337.73,475.35 L338.24,475.33 L338.75,475.40 L339.27,475.42 L339.78,475.36 L340.29,475.49 L340.81,475.40 L341.32,475.52 L341.83,475.44 L342.35,475.54 L342.86,475.36 L343.37,475.39 L343.89,475.32 L344.40,475.54" fill="none" stroke="#e09050" stroke-width="0.7" stroke-linejoin="round"/><path d="M267.40,475.48 L267.91,475.41 L268.43,475.58 L268.94,475.44 L269.45,475.56 L269.97,475.47 L270.48,475.36 L270.99,475.40 L271.51,475.49 L272.02,475.50 L272.53,475.40 L273.05,475.38 L273.56,475.39 L274.07,475.52 L274.59,475.33 L275.10,475.32 L275.61,475.46 L276.13,475.26 L276.64,475.25 L277.15,474.97 L277.67,474.82 L278.18,474.47 L278.69,474.07 L279.21,473.57 L279.72,472.96 L280.23,471.61 L280.75,470.41 L281.26,468.87 L281.77,466.37 L282.29,465.65 L282.80,461.70 L283.31,460.74 L283.83,457.41 L284.34,454.37 L284.85,449.44 L285.37,448.94 L285.88,441.78 L286.39,441.77 L286.91,438.92 L287.42,439.33 L287.93,437.10 L288.45,437.10 L288.96,437.72 L289.47,434.06 L289.99,438.67 L290.50,442.42 L291.01,445.45 L291.53,446.57 L292.04,452.80 L292.55,455.75 L293.07,458.63 L293.58,461.12 L294.09,465.08 L294.61,466.58 L295.12,469.14 L295.63,470.37 L296.15,471.75 L296.66,472.38 L297.17,473.38 L297.69,473.91 L298.20,474.29 L298.71,474.66 L299.23,474.66 L299.74,474.87 L300.25,474.90 L300.77,474.95 L301.28,475.12 L301.79,474.91 L302.31,475.05 L302.82,475.00 L303.33,475.07 L303.85,475.03 L304.36,475.22 L304.87,474.98 L305.39,475.06 L305.90,475.00 L306.41,475.08 L306.93,475.13 L307.44,475.08 L307.95,475.08 L308.47,475.26 L308.98,475.09 L309.49,475.14 L310.01,475.22 L310.52,475.13 L311.03,475.30 L311.55,475.15 L312.06,475.18 L312.57,475.31 L313.09,475.37 L313.60,475.20 L314.11,475.34 L314.63,475.32 L315.14,475.34 L315.65,475.40 L316.17,475.31 L316.68,475.36 L317.19,475.30 L317.71,475.40 L318.22,475.35 L318.73,475.29 L319.25,475.24 L319.76,475.38 L320.27,475.31 L320.79,475.25 L321.30,475.43 L321.81,475.33 L322.33,475.47 L322.84,475.37 L323.35,475.23 L323.87,475.21 L324.38,475.39 L324.89,475.38 L325.41,475.39 L325.92,475.28 L326.43,475.48 L326.95,475.39 L327.46,475.39 L327.97,475.34 L328.49,475.25 L329.00,475.29 L329.51,475.44 L330.03,475.25 L330.54,475.37 L331.05,475.51 L331.57,475.38 L332.08,475.37 L332.59,475.27 L333.11,475.52 L333.62,475.29 L334.13,475.27 L334.65,475.46 L335.16,475.29 L335.67,475.32 L336.19,475.39 L336.70,475.52 L337.21,475.47 L337.73,475.31 L338.24,475.36 L338.75,475.36 L339.27,475.34 L339.78,475.39 L340.29,475.49 L340.81,475.51 L341.32,475.33 L341.83,475.44 L342.35,475.50 L342.86,475.29 L343.37,475.38 L343.89,475.41 L344.40,475.46" fill="none" stroke="#202040" stroke-width="0.6" stroke-linejoin="round"/><rect x="266.90" y="430.50" width="78.00" height="45.50" fill="none" stroke="#a0a0a0" stroke-width="0.8"/><line x1="266.90" y1="430.50" x2="266.90" y2="476.00" stroke="#888" stroke-width="0.8" /><line x1="265.90" y1="476.00" x2="266.90" y2="476.00" stroke="#777" stroke-width="0.4" /><rect x="263.50" y="475.15" width="1.10" height="1.70" fill="#666" /><line x1="265.90" y1="468.53" x2="266.90" y2="468.53" stroke="#777" stroke-width="0.4" /><rect x="263.50" y="467.68" width="1.10" height="1.70" fill="#666" /><line x1="265.90" y1="461.06" x2="266.90" y2="461.06" stroke="#777" stroke-width="0.4" /><rect x="263.50" y="460.21" width="1.10" height="1.70" fill="#666" /><line x1="265.90" y1="453.59" x2="266.90" y2="453.59" stroke="#777" stroke-width="0.4" /><rect x="263.50" y="452.74" width="1.10" height="1.70" fill="#666" /><line x1="265.90" y1="446.12" x2="266.90" y2="446.12" stroke="#777" stroke-width="0.4" /><rect x="263.50" y="445.27" width="1.10" height="1.70" fill="#666" /><line x1="265.90" y1="438.65" x2="266.90" y2="438.65" stroke="#777" stroke-width="0.4" /><rect x="263.50" y="437.80" width="1.10" height="1.70" fill="#666" /><line x1="265.90" y1="431.18" x2="266.90" y2="431.18" stroke="#777" stroke-width="0.4" /><rect x="263.50" y="430.33" width="1.10" height="1.70" fill="#666" /><rect x="261.30" y="450.85" width="0.90" height="4.80" fill="#9a9a9a" /><line x1="267.50" y1="476.00" x2="267.50" y2="476.80" stroke="#777" stroke-width="0.4" /><rect x="266.20" y="477.20" width="2.60" height="1.40" fill="#777" /><line x1="290.50" y1="476.00" x2="290.50" y2="476.80" stroke="#777" stroke-width="0.4" /><rect x="289.20" y="477.20" width="2.60" height="1.40" fill="#777" /><line x1="313.70" y1="476.00" x2="313.70" y2="476.80" stroke="#777" stroke-width="0.4" /><rect x="312.40" y="477.20" width="2.60" height="1.40" fill="#777" /><line x1="336.90" y1="476.00" x2="336.90" y2="476.80" stroke="#777" stroke-width="0.4" /><rect x="335.60" y="477.20" width="2.60" height="1.40" fill="#777" /><rect x="311.30" y="480.20" width="4.80" height="1.30" fill="#9a9a9a" /><text x="326.60" y="440.70" font-size="8.8" fill="#000" stroke="#000" stroke-width="0.38" textLength="13.40" lengthAdjust="spacingAndGlyphs">MM</text><path d="M352.90,475.22 L353.41,475.36 L353.93,475.24 L354.44,474.97 L354.95,474.74 L355.47,474.71 L355.98,474.44 L356.49,474.30 L357.01,473.73 L357.52,473.37 L358.03,472.87 L358.55,472.04 L359.06,470.63 L359.57,469.52 L360.09,469.33 L360.60,467.46 L361.11,466.14 L361.63,464.13 L362.14,462.48 L362.65,461.66 L363.17,459.95 L363.68,455.67 L364.19,454.97 L364.71,453.76 L365.22,452.59 L365.73,447.57 L366.25,448.66 L366.76,446.11 L367.27,444.56 L367.79,442.80 L368.30,444.22 L368.81,444.69 L369.33,447.42 L369.84,449.67 L370.35,446.64 L370.87,449.52 L371.38,454.84 L371.89,455.92 L372.41,457.54 L372.92,460.78 L373.43,463.28 L373.95,466.57 L374.46,468.76 L374.97,470.40 L375.49,471.24 L376.00,472.11 L376.51,473.06 L377.03,473.80 L377.54,474.35 L378.05,474.78 L378.57,474.97 L379.08,475.22 L379.59,475.32 L380.11,475.26 L380.62,475.46 L381.13,475.48 L381.65,475.51 L382.16,475.48 L382.67,475.40 L383.19,475.50 L383.70,475.39 L384.21,475.60 L384.73,475.54 L385.24,475.49 L385.75,475.42 L386.27,475.39 L386.78,475.34 L387.29,475.58 L387.81,475.59 L388.32,475.45 L388.83,475.37 L389.35,475.56 L389.86,475.58 L390.37,475.35 L390.89,475.36 L391.40,475.57 L391.91,475.44 L392.43,475.40 L392.94,475.40 L393.45,475.56 L393.97,475.59 L394.48,475.35 L394.99,475.45 L395.51,475.39 L396.02,475.35 L396.53,475.59 L397.05,475.59 L397.56,475.56 L398.07,475.55 L398.59,475.57 L399.10,475.52 L399.61,475.41 L400.13,475.53 L400.64,475.39 L401.15,475.59 L401.67,475.53 L402.18,475.59 L402.69,475.40 L403.21,475.51 L403.72,475.33 L404.23,475.54 L404.75,475.58 L405.26,475.52 L405.77,475.55 L406.29,475.50 L406.80,475.58 L407.31,475.39 L407.83,475.53 L408.34,475.59 L408.85,475.45 L409.37,475.46 L409.88,475.37 L410.39,475.53 L410.91,475.43 L411.42,475.49 L411.93,475.35 L412.45,475.47 L412.96,475.37 L413.47,475.40 L413.99,475.45 L414.50,475.34 L415.01,475.40 L415.53,475.53 L416.04,475.44 L416.55,475.36 L417.07,475.53 L417.58,475.37 L418.09,475.52 L418.61,475.45 L419.12,475.49 L419.63,475.35 L420.15,475.47 L420.66,475.50 L421.17,475.56 L421.69,475.58 L422.20,475.44 L422.71,475.39 L423.23,475.53 L423.74,475.35 L424.25,475.44 L424.77,475.35 L425.28,475.46 L425.79,475.51 L426.31,475.49 L426.82,475.33 L427.33,475.38 L427.85,475.49 L428.36,475.35 L428.87,475.51 L429.39,475.57 L429.90,475.40" fill="none" stroke="#b07070" stroke-width="0.8" stroke-linejoin="round"/><path d="M352.90,475.43 L353.41,475.58 L353.93,475.36 L354.44,475.59 L354.95,475.49 L355.47,475.41 L355.98,475.34 L356.49,475.58 L357.01,475.36 L357.52,475.59 L358.03,475.41 L358.55,475.55 L359.06,475.54 L359.57,475.50 L360.09,475.48 L360.60,475.36 L361.11,475.35 L361.63,475.42 L362.14,475.55 L362.65,475.48 L363.17,475.56 L363.68,475.49 L364.19,475.39 L364.71,475.58 L365.22,475.48 L365.73,475.48 L366.25,475.44 L366.76,475.51 L367.27,475.57 L367.79,475.58 L368.30,475.38 L368.81,475.47 L369.33,475.46 L369.84,475.35 L370.35,475.54 L370.87,475.48 L371.38,475.44 L371.89,475.43 L372.41,475.54 L372.92,475.37 L373.43,475.46 L373.95,475.38 L374.46,475.54 L374.97,475.53 L375.49,475.56 L376.00,475.40 L376.51,475.59 L377.03,475.45 L377.54,475.38 L378.05,475.36 L378.57,475.30 L379.08,475.51 L379.59,475.51 L380.11,475.51 L380.62,475.33 L381.13,475.37 L381.65,475.13 L382.16,475.09 L382.67,475.05 L383.19,474.93 L383.70,474.78 L384.21,474.64 L384.73,474.50 L385.24,474.14 L385.75,473.83 L386.27,473.40 L386.78,472.96 L387.29,472.50 L387.81,472.17 L388.32,471.10 L388.83,470.81 L389.35,469.47 L389.86,468.35 L390.37,468.17 L390.89,466.22 L391.40,464.35 L391.91,463.15 L392.43,461.85 L392.94,462.12 L393.45,459.17 L393.97,458.48 L394.48,456.68 L394.99,454.85 L395.51,454.30 L396.02,454.72 L396.53,451.47 L397.05,451.14 L397.56,450.51 L398.07,452.01 L398.59,450.86 L399.10,452.25 L399.61,452.50 L400.13,451.58 L400.64,451.04 L401.15,453.93 L401.67,452.85 L402.18,454.97 L402.69,457.56 L403.21,457.88 L403.72,459.90 L404.23,461.80 L404.75,461.21 L405.26,463.10 L405.77,464.71 L406.29,465.51 L406.80,467.46 L407.31,468.88 L407.83,469.50 L408.34,470.30 L408.85,471.28 L409.37,472.06 L409.88,472.69 L410.39,473.16 L410.91,473.41 L411.42,473.71 L411.93,474.09 L412.45,474.32 L412.96,474.63 L413.47,474.83 L413.99,475.04 L414.50,475.02 L415.01,475.35 L415.53,475.29 L416.04,475.36 L416.55,475.35 L417.07,475.43 L417.58,475.42 L418.09,475.31 L418.61,475.36 L419.12,475.53 L419.63,475.35 L420.15,475.34 L420.66,475.35 L421.17,475.55 L421.69,475.50 L422.20,475.40 L422.71,475.52 L423.23,475.35 L423.74,475.57 L424.25,475.37 L424.77,475.54 L425.28,475.50 L425.79,475.38 L426.31,475.44 L426.82,475.51 L427.33,475.53 L427.85,475.36 L428.36,475.40 L428.87,475.36 L429.39,475.37 L429.90,475.35" fill="none" stroke="#70d840" stroke-width="1.6" stroke-linejoin="round"/><line x1="352.90" y1="475.40" x2="429.90" y2="475.40" stroke="#c8e040" stroke-width="1.0" /><path d="M353.00,475.50 L353.40,464.00 L353.90,470.00 L354.90,472.00" fill="none" stroke="#b07070" stroke-width="0.7"/><rect x="352.40" y="430.50" width="78.00" height="45.50" fill="none" stroke="#a0a0a0" stroke-width="0.8"/><line x1="352.40" y1="430.50" x2="352.40" y2="476.00" stroke="#888" stroke-width="0.8" /><line x1="351.40" y1="476.00" x2="352.40" y2="476.00" stroke="#777" stroke-width="0.4" /><rect x="349.00" y="475.15" width="1.10" height="1.70" fill="#666" /><line x1="351.40" y1="468.53" x2="352.40" y2="468.53" stroke="#777" stroke-width="0.4" /><rect x="349.00" y="467.68" width="1.10" height="1.70" fill="#666" /><line x1="351.40" y1="461.06" x2="352.40" y2="461.06" stroke="#777" stroke-width="0.4" /><rect x="349.00" y="460.21" width="1.10" height="1.70" fill="#666" /><line x1="351.40" y1="453.59" x2="352.40" y2="453.59" stroke="#777" stroke-width="0.4" /><rect x="349.00" y="452.74" width="1.10" height="1.70" fill="#666" /><line x1="351.40" y1="446.12" x2="352.40" y2="446.12" stroke="#777" stroke-width="0.4" /><rect x="349.00" y="445.27" width="1.10" height="1.70" fill="#666" /><line x1="351.40" y1="438.65" x2="352.40" y2="438.65" stroke="#777" stroke-width="0.4" /><rect x="349.00" y="437.80" width="1.10" height="1.70" fill="#666" /><line x1="351.40" y1="431.18" x2="352.40" y2="431.18" stroke="#777" stroke-width="0.4" /><rect x="349.00" y="430.33" width="1.10" height="1.70" fill="#666" /><rect x="346.80" y="450.85" width="0.90" height="4.80" fill="#9a9a9a" /><line x1="353.00" y1="476.00" x2="353.00" y2="476.80" stroke="#777" stroke-width="0.4" /><rect x="351.70" y="477.20" width="2.60" height="1.40" fill="#777" /><line x1="376.00" y1="476.00" x2="376.00" y2="476.80" stroke="#777" stroke-width="0.4" /><rect x="374.70" y="477.20" width="2.60" height="1.40" fill="#777" /><line x1="399.20" y1="476.00" x2="399.20" y2="476.80" stroke="#777" stroke-width="0.4" /><rect x="397.90" y="477.20" width="2.60" height="1.40" fill="#777" /><line x1="422.40" y1="476.00" x2="422.40" y2="476.80" stroke="#777" stroke-width="0.4" /><rect x="421.10" y="477.20" width="2.60" height="1.40" fill="#777" /><rect x="396.80" y="480.20" width="4.80" height="1.30" fill="#9a9a9a" /><text x="410.30" y="440.70" font-size="8.8" fill="#000" stroke="#000" stroke-width="0.38" textLength="11.70" lengthAdjust="spacingAndGlyphs">HH</text><path d="M439.50,475.56 L440.01,475.48 L440.53,475.43 L441.04,475.37 L441.55,475.50 L442.07,475.37 L442.58,475.53 L443.09,475.43 L443.61,475.31 L444.12,475.35 L444.63,475.12 L445.15,474.89 L445.66,474.87 L446.17,474.52 L446.69,474.15 L447.20,473.59 L447.71,472.88 L448.23,472.36 L448.74,471.49 L449.25,470.22 L449.77,468.94 L450.28,465.91 L450.79,464.78 L451.31,462.93 L451.82,461.04 L452.33,457.74 L452.85,453.58 L453.36,451.42 L453.87,450.18 L454.39,447.88 L454.90,444.50 L455.41,443.65 L455.93,441.67 L456.44,443.11 L456.95,441.66 L457.47,444.38 L457.98,445.21 L458.49,447.47 L459.01,449.53 L459.52,449.33 L460.03,453.59 L460.55,455.61 L461.06,457.57 L461.57,459.58 L462.09,462.88 L462.60,463.89 L463.11,465.36 L463.63,467.59 L464.14,468.65 L464.65,470.27 L465.17,471.44 L465.68,472.41 L466.19,472.63 L466.71,472.86 L467.22,473.27 L467.73,473.96 L468.25,474.03 L468.76,474.26 L469.27,474.25 L469.79,474.43 L470.30,474.54 L470.81,474.43 L471.33,474.42 L471.84,474.53 L472.35,474.60 L472.87,474.66 L473.38,474.57 L473.89,474.57 L474.41,474.72 L474.92,474.81 L475.43,474.60 L475.95,474.55 L476.46,474.74 L476.97,474.62 L477.49,474.82 L478.00,474.81 L478.51,474.72 L479.03,474.75 L479.54,474.67 L480.05,474.94 L480.57,474.96 L481.08,474.96 L481.59,474.88 L482.11,475.03 L482.62,474.99 L483.13,474.97 L483.65,474.91 L484.16,475.05 L484.67,474.90 L485.19,475.01 L485.70,475.11 L486.21,475.05 L486.73,474.92 L487.24,475.22 L487.75,475.18 L488.27,475.09 L488.78,475.04 L489.29,475.20 L489.81,475.14 L490.32,475.07 L490.83,475.12 L491.35,475.29 L491.86,475.02 L492.37,475.23 L492.89,475.20 L493.40,475.15 L493.91,475.23 L494.43,475.20 L494.94,475.23 L495.45,475.12 L495.97,475.26 L496.48,475.32 L496.99,475.25 L497.51,475.15 L498.02,475.28 L498.53,475.23 L499.05,475.28 L499.56,475.14 L500.07,475.36 L500.59,475.18 L501.10,475.37 L501.61,475.26 L502.13,475.39 L502.64,475.37 L503.15,475.27 L503.67,475.39 L504.18,475.44 L504.69,475.34 L505.21,475.24 L505.72,475.31 L506.23,475.28 L506.75,475.34 L507.26,475.39 L507.77,475.25 L508.29,475.33 L508.80,475.22 L509.31,475.26 L509.83,475.26 L510.34,475.22 L510.85,475.24 L511.37,475.23 L511.88,475.43 L512.39,475.38 L512.91,475.24 L513.42,475.32 L513.93,475.27 L514.45,475.48 L514.96,475.30 L515.47,475.28 L515.99,475.50 L516.50,475.49" fill="none" stroke="#e07080" stroke-width="0.6" stroke-linejoin="round" stroke-dasharray="1,1"/><path d="M439.50,475.43 L440.01,475.59 L440.53,475.33 L441.04,475.56 L441.55,475.57 L442.07,475.36 L442.58,475.38 L443.09,475.43 L443.61,475.43 L444.12,475.45 L444.63,475.11 L445.15,475.12 L445.66,474.85 L446.17,474.69 L446.69,474.36 L447.20,474.15 L447.71,473.38 L448.23,472.80 L448.74,471.68 L449.25,470.99 L449.77,468.98 L450.28,467.31 L450.79,465.77 L451.31,462.37 L451.82,461.39 L452.33,456.71 L452.85,457.00 L453.36,450.65 L453.87,449.68 L454.39,445.54 L454.90,445.86 L455.41,443.22 L455.93,441.49 L456.44,436.56 L456.95,437.24 L457.47,439.72 L457.98,440.26 L458.49,440.10 L459.01,444.18 L459.52,447.63 L460.03,447.26 L460.55,446.81 L461.06,453.35 L461.57,452.84 L462.09,458.43 L462.60,461.11 L463.11,462.08 L463.63,463.29 L464.14,466.63 L464.65,468.18 L465.17,468.82 L465.68,470.82 L466.19,471.18 L466.71,472.46 L467.22,473.00 L467.73,473.29 L468.25,473.34 L468.76,473.91 L469.27,474.01 L469.79,474.19 L470.30,474.22 L470.81,474.38 L471.33,474.40 L471.84,474.58 L472.35,474.40 L472.87,474.55 L473.38,474.49 L473.89,474.77 L474.41,474.80 L474.92,474.69 L475.43,474.76 L475.95,474.64 L476.46,474.90 L476.97,474.77 L477.49,474.91 L478.00,474.76 L478.51,474.74 L479.03,474.91 L479.54,474.81 L480.05,474.96 L480.57,474.82 L481.08,474.72 L481.59,475.02 L482.11,474.80 L482.62,475.05 L483.13,474.84 L483.65,474.96 L484.16,475.07 L484.67,475.02 L485.19,475.16 L485.70,475.11 L486.21,474.89 L486.73,475.10 L487.24,475.14 L487.75,475.04 L488.27,474.95 L488.78,475.00 L489.29,475.03 L489.81,475.26 L490.32,475.03 L490.83,475.28 L491.35,475.07 L491.86,475.09 L492.37,475.30 L492.89,475.19 L493.40,475.12 L493.91,475.10 L494.43,475.13 L494.94,475.19 L495.45,475.08 L495.97,475.08 L496.48,475.28 L496.99,475.25 L497.51,475.19 L498.02,475.15 L498.53,475.30 L499.05,475.13 L499.56,475.20 L500.07,475.24 L500.59,475.24 L501.10,475.40 L501.61,475.39 L502.13,475.24 L502.64,475.23 L503.15,475.35 L503.67,475.43 L504.18,475.43 L504.69,475.29 L505.21,475.32 L505.72,475.31 L506.23,475.31 L506.75,475.25 L507.26,475.39 L507.77,475.34 L508.29,475.38 L508.80,475.43 L509.31,475.42 L509.83,475.46 L510.34,475.34 L510.85,475.25 L511.37,475.37 L511.88,475.43 L512.39,475.37 L512.91,475.47 L513.42,475.40 L513.93,475.25 L514.45,475.36 L514.96,475.47 L515.47,475.37 L515.99,475.47 L516.50,475.39" fill="none" stroke="#1c24a8" stroke-width="1.05" stroke-linejoin="round"/><path d="M439.50,475.53 L440.01,475.58 L440.53,475.44 L441.04,475.58 L441.55,475.54 L442.07,475.48 L442.58,475.47 L443.09,475.30 L443.61,475.37 L444.12,475.43 L444.63,475.19 L445.15,475.32 L445.66,475.11 L446.17,475.01 L446.69,474.69 L447.20,474.35 L447.71,474.08 L448.23,473.47 L448.74,472.70 L449.25,471.78 L449.77,470.28 L450.28,468.61 L450.79,466.45 L451.31,466.05 L451.82,462.09 L452.33,461.92 L452.85,457.48 L453.36,456.81 L453.87,450.76 L454.39,448.05 L454.90,449.89 L455.41,444.01 L455.93,440.43 L456.44,440.43 L456.95,440.88 L457.47,439.24 L457.98,438.76 L458.49,441.83 L459.01,445.34 L459.52,447.18 L460.03,450.20 L460.55,446.78 L461.06,449.80 L461.57,452.09 L462.09,455.80 L462.60,461.00 L463.11,461.39 L463.63,465.03 L464.14,465.20 L464.65,467.89 L465.17,469.30 L465.68,470.12 L466.19,470.73 L466.71,472.00 L467.22,472.40 L467.73,473.06 L468.25,473.53 L468.76,473.65 L469.27,474.07 L469.79,474.06 L470.30,474.37 L470.81,474.41 L471.33,474.25 L471.84,474.59 L472.35,474.45 L472.87,474.49 L473.38,474.61 L473.89,474.59 L474.41,474.49 L474.92,474.59 L475.43,474.53 L475.95,474.77 L476.46,474.86 L476.97,474.76 L477.49,474.75 L478.00,474.76 L478.51,474.71 L479.03,474.76 L479.54,474.63 L480.05,474.85 L480.57,474.77 L481.08,474.93 L481.59,474.89 L482.11,474.81 L482.62,474.80 L483.13,474.94 L483.65,474.99 L484.16,474.89 L484.67,475.08 L485.19,474.96 L485.70,474.94 L486.21,475.06 L486.73,475.13 L487.24,475.06 L487.75,475.07 L488.27,474.97 L488.78,475.02 L489.29,474.99 L489.81,475.01 L490.32,475.13 L490.83,475.23 L491.35,475.19 L491.86,475.17 L492.37,475.22 L492.89,475.09 L493.40,475.32 L493.91,475.02 L494.43,475.29 L494.94,475.09 L495.45,475.08 L495.97,475.26 L496.48,475.13 L496.99,475.20 L497.51,475.30 L498.02,475.25 L498.53,475.36 L499.05,475.16 L499.56,475.23 L500.07,475.30 L500.59,475.21 L501.10,475.18 L501.61,475.19 L502.13,475.14 L502.64,475.24 L503.15,475.40 L503.67,475.29 L504.18,475.31 L504.69,475.28 L505.21,475.37 L505.72,475.21 L506.23,475.22 L506.75,475.44 L507.26,475.37 L507.77,475.44 L508.29,475.27 L508.80,475.45 L509.31,475.25 L509.83,475.31 L510.34,475.26 L510.85,475.36 L511.37,475.42 L511.88,475.37 L512.39,475.39 L512.91,475.24 L513.42,475.39 L513.93,475.46 L514.45,475.32 L514.96,475.40 L515.47,475.35 L515.99,475.48 L516.50,475.42" fill="none" stroke="#202040" stroke-width="0.6" stroke-linejoin="round"/><rect x="439.00" y="430.50" width="78.00" height="45.50" fill="none" stroke="#a0a0a0" stroke-width="0.8"/><line x1="439.00" y1="430.50" x2="439.00" y2="476.00" stroke="#888" stroke-width="0.8" /><line x1="438.00" y1="476.00" x2="439.00" y2="476.00" stroke="#777" stroke-width="0.4" /><rect x="435.60" y="475.15" width="1.10" height="1.70" fill="#666" /><line x1="438.00" y1="468.53" x2="439.00" y2="468.53" stroke="#777" stroke-width="0.4" /><rect x="435.60" y="467.68" width="1.10" height="1.70" fill="#666" /><line x1="438.00" y1="461.06" x2="439.00" y2="461.06" stroke="#777" stroke-width="0.4" /><rect x="435.60" y="460.21" width="1.10" height="1.70" fill="#666" /><line x1="438.00" y1="453.59" x2="439.00" y2="453.59" stroke="#777" stroke-width="0.4" /><rect x="435.60" y="452.74" width="1.10" height="1.70" fill="#666" /><line x1="438.00" y1="446.12" x2="439.00" y2="446.12" stroke="#777" stroke-width="0.4" /><rect x="435.60" y="445.27" width="1.10" height="1.70" fill="#666" /><line x1="438.00" y1="438.65" x2="439.00" y2="438.65" stroke="#777" stroke-width="0.4" /><rect x="435.60" y="437.80" width="1.10" height="1.70" fill="#666" /><line x1="438.00" y1="431.18" x2="439.00" y2="431.18" stroke="#777" stroke-width="0.4" /><rect x="435.60" y="430.33" width="1.10" height="1.70" fill="#666" /><rect x="433.40" y="450.85" width="0.90" height="4.80" fill="#9a9a9a" /><line x1="439.60" y1="476.00" x2="439.60" y2="476.80" stroke="#777" stroke-width="0.4" /><rect x="438.30" y="477.20" width="2.60" height="1.40" fill="#777" /><line x1="462.60" y1="476.00" x2="462.60" y2="476.80" stroke="#777" stroke-width="0.4" /><rect x="461.30" y="477.20" width="2.60" height="1.40" fill="#777" /><line x1="485.80" y1="476.00" x2="485.80" y2="476.80" stroke="#777" stroke-width="0.4" /><rect x="484.50" y="477.20" width="2.60" height="1.40" fill="#777" /><line x1="509.00" y1="476.00" x2="509.00" y2="476.80" stroke="#777" stroke-width="0.4" /><rect x="507.70" y="477.20" width="2.60" height="1.40" fill="#777" /><rect x="483.40" y="480.20" width="4.80" height="1.30" fill="#9a9a9a" /><text x="492.70" y="440.70" font-size="8.8" fill="#000" stroke="#000" stroke-width="0.38" textLength="15.60" lengthAdjust="spacingAndGlyphs">JSC</text></svg>
</body></html>
